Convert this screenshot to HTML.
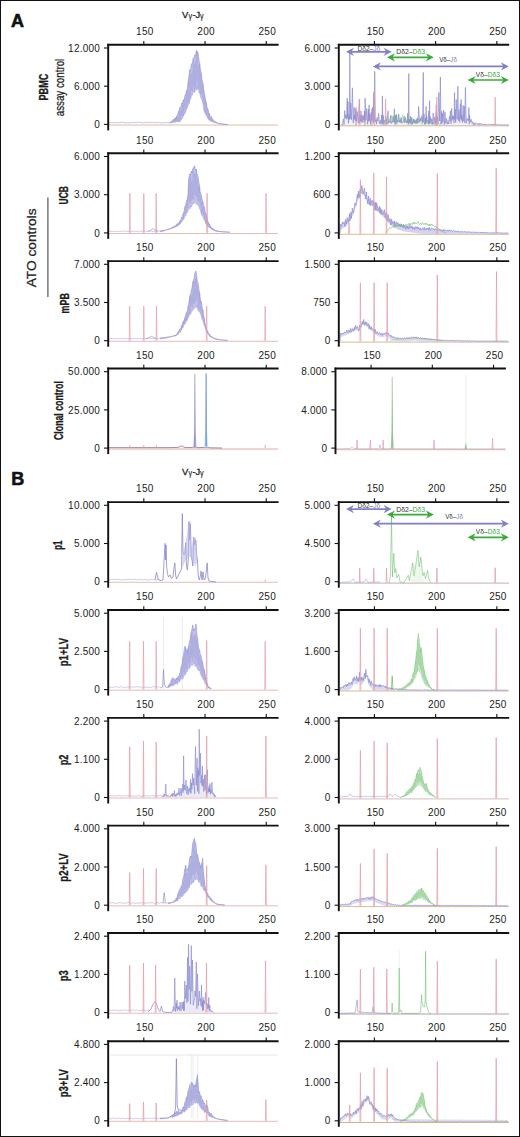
<!DOCTYPE html><html><head><meta charset="utf-8"><style>html,body{margin:0;padding:0;background:#fff;overflow:hidden;}svg{display:block;}text{font-family:"Liberation Sans",sans-serif;}</style></head><body>
<svg width="520" height="1137" viewBox="0 0 520 1137">
<rect x="0" y="0" width="520" height="1137" fill="#fff"/>
<polyline points="109,125 278,125" fill="none" stroke="#d8a080" stroke-width="0.9" stroke-opacity="0.8" stroke-linejoin="round"/>
<polyline points="109,122.64 109.8,122.55 110.6,122.26 111.4,122.63 112.2,122.59 113,122.53 113.8,122.85 114.6,122.59 115.4,122.5 116.2,122.37 117,122.92 117.8,122.76 118.6,122.93 119.4,122.35 120.2,122.45 121,122.97 121.8,122.21 122.6,122.23 123.4,122.48 124.2,122.51 125,122.87 125.8,122.99 126.6,122.58 127.4,122.95 128.2,122.85 129,122.81 129.8,122.98 130.6,122.63 131.4,122.65 132.2,122.33 133,122.58 133.8,122.49 134.6,122.6 135.4,122.47 136.2,122.63 137,122.78 137.8,122.2 138.6,122.2 139.4,122.33 140.2,122.43 141,122.75 141.8,122.82 142.6,122.77 143.4,122.94 144.2,122.39 145,122.68 145.8,122.32 146.6,122.69 147.4,122.23 148.2,122.32 149,123 149.8,122.83 150.6,122.27 151.4,122.62 152.2,122.22 153,122.68 153.8,122.94 154.6,122.5 155.4,122.38 156.2,122.78 157,122.93 157.8,122.73 158.6,122.23 159.4,122.39 160.2,122.91 161,122.8 161.8,122.92 162.6,122.95 163.4,122.36 164.2,122.86 165,122.55 165.8,122.64 166.6,122.85 167.4,122.41 168.2,122.9 169,122.49 169.8,122.91 170.6,122.66 171.4,122.83" fill="none" stroke="#8484cc" stroke-width="0.7" stroke-opacity="0.7" stroke-linejoin="round"/>
<polygon points="170,122.51 170.55,122.33 171.1,121.85 171.65,120.97 172.2,120.73 172.75,120.99 173.3,119.45 173.85,119.79 174.4,119.05 174.95,117.93 175.5,117.77 176.05,119.1 176.6,115.94 177.15,115.73 177.7,114.97 178.25,111.67 178.8,111.27 179.35,109.8 179.9,107.17 180.45,107.35 181,106.95 181.55,102.9 182.1,104.12 182.65,103.43 183.2,99.93 183.75,99.84 184.3,99.47 184.85,95.38 185.4,94.42 185.95,94.39 186.5,90.28 187.05,90.92 187.6,86.84 188.15,80.61 188.7,77.44 189.25,73.77 189.8,69.76 190.35,70.59 190.9,67.27 191.45,63.91 192,64.19 192.55,62.44 193.1,58.11 193.65,58.81 194.2,57.07 194.75,55.07 195.3,55.5 195.85,54.12 196.4,50.25 196.95,51.14 197.5,51.76 198.05,52.78 198.6,57.24 199.15,60.74 199.7,63.23 200.25,68.74 200.8,71.13 201.35,73.73 201.9,79.34 202.45,82.21 203,82.93 203.55,88.81 204.1,91.15 204.65,94.31 205.2,97.76 205.75,101.02 206.3,102.27 206.85,106.2 207.4,109.18 207.95,108.72 208.5,111.23 209.05,113.8 209.6,113.83 210.15,116.83 210.7,117.66 211.25,116.51 211.8,118.21 212.35,118.94 212.9,119.14 213.45,120.38 214,121.41 214.55,120.79 215.1,121.68 215.65,121.95 216.2,121.94 216.75,122.8 217.3,122.9 217.85,123.14 218.4,123.55 218.95,123.65 219.5,123.71 220.05,123.77 220.6,123.83 221.15,123.89 221.7,123.95 222.25,124.01 222.8,124.07 223.35,124.13 223.9,124.19 224.45,124.25 225,124.31 225.55,124.37 226.1,124.43 226.65,124.49 227.2,124.55 227.75,124.6 227.75,124.57 227.2,124.51 226.65,124.46 226.1,124.4 225.55,124.34 225,124.28 224.45,124.22 223.9,124.16 223.35,124.1 222.8,124.05 222.25,123.99 221.7,123.93 221.15,123.87 220.6,123.81 220.05,123.75 219.5,123.69 218.95,123.63 218.4,123.57 217.85,123.39 217.3,123.24 216.75,123.07 216.2,123.19 215.65,122.9 215.1,122.8 214.55,122.62 214,122.61 213.45,121.9 212.9,122.17 212.35,121.52 211.8,121.06 211.25,121.99 210.7,119.99 210.15,120.93 209.6,118.79 209.05,120.22 208.5,119.32 207.95,118.68 207.4,117.6 206.85,117.01 206.3,115.12 205.75,115.36 205.2,112.56 204.65,112.55 204.1,111.16 203.55,108.75 203,104.27 202.45,102.15 201.9,100.21 201.35,98.94 200.8,98.09 200.25,95.5 199.7,93.37 199.15,92.82 198.6,91.01 198.05,90.48 197.5,87.74 196.95,89.49 196.4,89.63 195.85,89.38 195.3,89.55 194.75,92.42 194.2,91.2 193.65,92.3 193.1,91.88 192.55,95.1 192,95.23 191.45,94.96 190.9,98.87 190.35,99.22 189.8,100.51 189.25,104.16 188.7,104.69 188.15,105.16 187.6,107.8 187.05,108.5 186.5,110.03 185.95,111.58 185.4,113.25 184.85,113.36 184.3,113.74 183.75,115.67 183.2,116.57 182.65,118.14 182.1,117.92 181.55,119.69 181,118.75 180.45,121.42 179.9,120.84 179.35,122.47 178.8,121.18 178.25,121.89 177.7,121.13 177.15,122.03 176.6,121.66 176.05,121.85 175.5,121.63 174.95,122.7 174.4,121.22 173.85,121.75 173.3,122.83 172.75,122.39 172.2,122.86 171.65,122.35 171.1,122.7 170.55,122.88 170,122.85" fill="#b6b6e4" fill-opacity="0.85" stroke="none" stroke-width="0"/>
<polyline points="170,122.59 170.55,122.83 171.1,122.04 171.65,122.11 172.2,120.99 172.75,122.05 173.3,119.65 173.85,121.4 174.4,119.09 174.95,122.49 175.5,118.65 176.05,121.71 176.6,117.02 177.15,121.08 177.7,116.26 178.25,120.95 178.8,112.11 179.35,121.55 179.9,110.14 180.45,119.29 181,109.77 181.55,115.97 182.1,104.58 182.65,116.12 183.2,100.37 183.75,115.51 184.3,99.73 184.85,109.47 185.4,98.13 185.95,108.02 186.5,91.96 187.05,105.8 187.6,90.94 188.15,102.84 188.7,81.33 189.25,102.46 189.8,70.39 190.35,97.31 190.9,74.31 191.45,90.58 192,71.37 192.55,91.36 193.1,60.45 193.65,85.71 194.2,64.13 194.75,92.3 195.3,61.2 195.85,88.57 196.4,51.38 196.95,81 197.5,52.12 198.05,88.22 198.6,65.58 199.15,89.44 199.7,64.1 200.25,94.38 200.8,72.76 201.35,94.25 201.9,79.87 202.45,97.61 203,84.95 203.55,103.91 204.1,95.7 204.65,111.21 205.2,98.69 205.75,113.65 206.3,102.59 206.85,115.25 207.4,109.26 207.95,118.65 208.5,113.21 209.05,119.75 209.6,114.57 210.15,120.47 210.7,117.84 211.25,121.9 211.8,118.86 212.35,120.89 212.9,119.88 213.45,121.86 214,121.48 214.55,122.33 215.1,121.96 215.65,122.77 216.2,122.16 216.75,123.03 217.3,122.92 217.85,123.36 218.4,123.55 218.95,123.64 219.5,123.71 220.05,123.75 220.6,123.82 221.15,123.87 221.7,123.94 222.25,123.99 222.8,124.06 223.35,124.11 223.9,124.19 224.45,124.22 225,124.3 225.55,124.34 226.1,124.42 226.65,124.46 227.2,124.54 227.75,124.58" fill="none" stroke="#8484cc" stroke-width="0.6" stroke-opacity="0.3" stroke-linejoin="round"/>
<polyline points="170,122.51 170.55,122.33 171.1,121.85 171.65,120.97 172.2,120.73 172.75,120.99 173.3,119.45 173.85,119.79 174.4,119.05 174.95,117.93 175.5,117.77 176.05,119.1 176.6,115.94 177.15,115.73 177.7,114.97 178.25,111.67 178.8,111.27 179.35,109.8 179.9,107.17 180.45,107.35 181,106.95 181.55,102.9 182.1,104.12 182.65,103.43 183.2,99.93 183.75,99.84 184.3,99.47 184.85,95.38 185.4,94.42 185.95,94.39 186.5,90.28 187.05,90.92 187.6,86.84 188.15,80.61 188.7,77.44 189.25,73.77 189.8,69.76 190.35,70.59 190.9,67.27 191.45,63.91 192,64.19 192.55,62.44 193.1,58.11 193.65,58.81 194.2,57.07 194.75,55.07 195.3,55.5 195.85,54.12 196.4,50.25 196.95,51.14 197.5,51.76 198.05,52.78 198.6,57.24 199.15,60.74 199.7,63.23 200.25,68.74 200.8,71.13 201.35,73.73 201.9,79.34 202.45,82.21 203,82.93 203.55,88.81 204.1,91.15 204.65,94.31 205.2,97.76 205.75,101.02 206.3,102.27 206.85,106.2 207.4,109.18 207.95,108.72 208.5,111.23 209.05,113.8 209.6,113.83 210.15,116.83 210.7,117.66 211.25,116.51 211.8,118.21 212.35,118.94 212.9,119.14 213.45,120.38 214,121.41 214.55,120.79 215.1,121.68 215.65,121.95 216.2,121.94 216.75,122.8 217.3,122.9 217.85,123.14 218.4,123.55 218.95,123.65 219.5,123.71 220.05,123.77 220.6,123.83 221.15,123.89 221.7,123.95 222.25,124.01 222.8,124.07 223.35,124.13 223.9,124.19 224.45,124.25 225,124.31 225.55,124.37 226.1,124.43 226.65,124.49 227.2,124.55 227.75,124.6" fill="none" stroke="#8484cc" stroke-width="0.7" stroke-opacity="0.75" stroke-linejoin="round"/>
<polyline points="170,122.85 170.55,122.88 171.1,122.7 171.65,122.35 172.2,122.86 172.75,122.39 173.3,122.83 173.85,121.75 174.4,121.22 174.95,122.7 175.5,121.63 176.05,121.85 176.6,121.66 177.15,122.03 177.7,121.13 178.25,121.89 178.8,121.18 179.35,122.47 179.9,120.84 180.45,121.42 181,118.75 181.55,119.69 182.1,117.92 182.65,118.14 183.2,116.57 183.75,115.67 184.3,113.74 184.85,113.36 185.4,113.25 185.95,111.58 186.5,110.03 187.05,108.5 187.6,107.8 188.15,105.16 188.7,104.69 189.25,104.16 189.8,100.51 190.35,99.22 190.9,98.87 191.45,94.96 192,95.23 192.55,95.1 193.1,91.88 193.65,92.3 194.2,91.2 194.75,92.42 195.3,89.55 195.85,89.38 196.4,89.63 196.95,89.49 197.5,87.74 198.05,90.48 198.6,91.01 199.15,92.82 199.7,93.37 200.25,95.5 200.8,98.09 201.35,98.94 201.9,100.21 202.45,102.15 203,104.27 203.55,108.75 204.1,111.16 204.65,112.55 205.2,112.56 205.75,115.36 206.3,115.12 206.85,117.01 207.4,117.6 207.95,118.68 208.5,119.32 209.05,120.22 209.6,118.79 210.15,120.93 210.7,119.99 211.25,121.99 211.8,121.06 212.35,121.52 212.9,122.17 213.45,121.9 214,122.61 214.55,122.62 215.1,122.8 215.65,122.9 216.2,123.19 216.75,123.07 217.3,123.24 217.85,123.39 218.4,123.57 218.95,123.63 219.5,123.69 220.05,123.75 220.6,123.81 221.15,123.87 221.7,123.93 222.25,123.99 222.8,124.05 223.35,124.1 223.9,124.16 224.45,124.22 225,124.28 225.55,124.34 226.1,124.4 226.65,124.46 227.2,124.51 227.75,124.57" fill="none" stroke="#8484cc" stroke-width="0.6" stroke-opacity="0.5249999999999999" stroke-linejoin="round"/>
<g transform="translate(0,0.9)">
<polyline points="339,124.9 509,124.9" fill="none" stroke="#c8a070" stroke-width="0.9" stroke-opacity="0.9" stroke-linejoin="round"/>
<polygon points="341,124.1 341,123.8 341.76,123.46 342.59,124.06 343.42,118.15 344.06,123.4 344.69,109.55 345.23,117.51 345.77,113.83 346.49,118.26 347.2,97.3 347.59,117.55 347.98,100.69 348.46,122.35 348.95,113.45 349.37,118.84 349.8,52 350.25,118.08 350.7,101.9 351.55,118.89 352.4,86.9 353.25,122.07 354.1,106.5 354.43,118.28 354.76,114.07 355.25,119.85 355.75,107.98 356.47,120.3 357.19,110.55 358.25,122.37 359.3,98.5 359.65,121.88 360,114.11 360.5,120.25 361,110 361.57,121.43 362.14,113.98 362.8,121.49 363.46,114.85 363.93,119.28 364.39,110.06 364.75,121.63 365.1,97.3 365.95,119.22 366.8,107.7 367.61,123.44 368.42,108.43 368.76,120.71 369.1,104 369.5,119.69 369.9,112.97 370.6,123.64 371.31,111.38 371.96,119.78 372.61,106.4 373.21,122.23 373.8,91.5 374.25,120.69 374.7,70.4 375.41,120.97 376.13,118.62 376.6,123.24 377.06,116.41 377.89,120.34 378.71,112.36 379.49,122.99 380.28,119.37 381.01,123.4 381.74,114.12 382.07,122.41 382.4,95 382.84,123.66 383.28,114.41 383.79,123.56 384.3,119.4 385.06,121.55 385.83,115.28 386.91,123.6 388,110 388.52,122.32 389.04,120.02 389.86,121.39 390.69,114.71 391.28,122.58 391.87,120.48 392.53,121.49 393.2,115.78 393.8,121.39 394.4,107.8 394.96,123.38 395.51,114.43 396,123.64 396.5,113.57 397.05,121.48 397.6,119.3 398.1,121.28 398.6,113.57 399.4,121.37 400.21,118.66 400.7,121.83 401.19,116.35 402,122.46 402.8,121.02 403.5,121.24 404.2,115.26 404.84,121.89 405.47,117.35 406.24,121.86 407.01,119.68 407.35,121.5 407.7,112.4 408.25,123.77 408.8,72.7 409.14,122 409.47,117.92 410.06,122.43 410.64,115.17 411.21,123.87 411.78,116.53 412.58,123.18 413.38,118.08 413.86,121.77 414.34,119.23 414.82,122.27 415.3,119.62 415.8,122.1 416.3,117.91 416.9,122.93 417.5,116.8 418.05,121.93 418.6,105.5 419.49,120.73 420.37,116.89 421.09,120.2 421.8,114.84 422.55,121.69 423.3,71.5 423.63,120.91 423.97,113.01 424.71,123.45 425.45,117.12 425.78,123.21 426.1,105.5 426.4,121.46 426.7,114.92 427.27,120.42 427.84,119.37 428.32,123.34 428.79,110.12 429.2,123.25 429.6,99.8 429.94,121.92 430.28,115.91 430.99,122.71 431.71,117.77 432.44,123.35 433.17,112.12 433.93,123.32 434.69,116.24 435.53,122.28 436.36,111.17 436.84,120.71 437.32,115.68 438.06,123.09 438.8,91.7 439.6,120.21 440.4,76.1 440.93,123.46 441.47,110.26 441.94,122.74 442.42,112.42 442.96,121.07 443.5,109 444.25,123.79 444.99,110.96 445.76,122.69 446.52,117.54 447.26,123.36 448,119.63 448.74,123.02 449.47,115.57 449.93,119.95 450.4,110 451.03,122.94 451.66,107.51 452.16,119.62 452.65,114.6 453.18,118.36 453.71,115.38 454.1,122.19 454.5,91.7 454.84,118.35 455.19,108.29 455.69,121.62 456.2,98.6 457.05,118.55 457.9,85.3 458.42,119.75 458.94,108.57 459.67,121.38 460.4,102.89 460.75,118.13 461.1,98.6 461.41,119.41 461.71,114.18 462.4,121.78 463.08,104.34 463.67,120.43 464.25,105.21 464.83,122.13 465.4,86.5 466.28,122.32 467.15,117.49 467.65,119.45 468.15,118.94 468.53,119.79 468.9,106.7 469.22,123.27 469.54,114.51 470.38,121.4 471.22,118.47 472.06,122.63 472.91,120.87 473.41,123.99 473.92,122.66 474.49,123.91 475.06,121.7 475.9,123.65 476.74,122.71 477.28,123.44 477.83,122.34 478.44,123.55 479.04,122.71 479.56,123.92 480.07,122.37 480.88,123.83 481.7,122.62 482.52,123.62 483.34,123.22 483.8,123.97 484.27,123.29 485.08,124.03 485.88,123.19 486.42,123.91 486.95,123.55 487.47,123.82 487.99,123.33 488.8,123.78 489.62,123.06 490.37,123.81 491.12,123.23 491.65,124.08 492.18,123.25 492.72,124.03 493.26,123.46 493.73,124.05 494.2,123.25 494.7,123.93 495.21,123.47 495.92,123.99 496.64,123.48 497.36,123.88 498.08,123.68 498.84,123.96 499.61,123.43 500.3,123.97 501,123.47 501.78,123.97 502.57,123.91 503.29,124.06 504,123.91 504.72,123.97 505.43,123.85 506.22,123.99 507.01,123.97 507.83,124.01 508.66,124 509,123.8 509,124.1" fill="#b6b6e4" fill-opacity="0.2" stroke="none" stroke-width="0"/>
<polyline points="341,123.8 341.76,123.46 342.59,124.06 343.42,118.15 344.06,123.4 344.69,109.55 345.23,117.51 345.77,113.83 346.49,118.26 347.2,97.3 347.59,117.55 347.98,100.69 348.46,122.35 348.95,113.45 349.37,118.84 349.8,52 350.25,118.08 350.7,101.9 351.55,118.89 352.4,86.9 353.25,122.07 354.1,106.5 354.43,118.28 354.76,114.07 355.25,119.85 355.75,107.98 356.47,120.3 357.19,110.55 358.25,122.37 359.3,98.5 359.65,121.88 360,114.11 360.5,120.25 361,110 361.57,121.43 362.14,113.98 362.8,121.49 363.46,114.85 363.93,119.28 364.39,110.06 364.75,121.63 365.1,97.3 365.95,119.22 366.8,107.7 367.61,123.44 368.42,108.43 368.76,120.71 369.1,104 369.5,119.69 369.9,112.97 370.6,123.64 371.31,111.38 371.96,119.78 372.61,106.4 373.21,122.23 373.8,91.5 374.25,120.69 374.7,70.4 375.41,120.97 376.13,118.62 376.6,123.24 377.06,116.41 377.89,120.34 378.71,112.36 379.49,122.99 380.28,119.37 381.01,123.4 381.74,114.12 382.07,122.41 382.4,95 382.84,123.66 383.28,114.41 383.79,123.56 384.3,119.4 385.06,121.55 385.83,115.28 386.91,123.6 388,110 388.52,122.32 389.04,120.02 389.86,121.39 390.69,114.71 391.28,122.58 391.87,120.48 392.53,121.49 393.2,115.78 393.8,121.39 394.4,107.8 394.96,123.38 395.51,114.43 396,123.64 396.5,113.57 397.05,121.48 397.6,119.3 398.1,121.28 398.6,113.57 399.4,121.37 400.21,118.66 400.7,121.83 401.19,116.35 402,122.46 402.8,121.02 403.5,121.24 404.2,115.26 404.84,121.89 405.47,117.35 406.24,121.86 407.01,119.68 407.35,121.5 407.7,112.4 408.25,123.77 408.8,72.7 409.14,122 409.47,117.92 410.06,122.43 410.64,115.17 411.21,123.87 411.78,116.53 412.58,123.18 413.38,118.08 413.86,121.77 414.34,119.23 414.82,122.27 415.3,119.62 415.8,122.1 416.3,117.91 416.9,122.93 417.5,116.8 418.05,121.93 418.6,105.5 419.49,120.73 420.37,116.89 421.09,120.2 421.8,114.84 422.55,121.69 423.3,71.5 423.63,120.91 423.97,113.01 424.71,123.45 425.45,117.12 425.78,123.21 426.1,105.5 426.4,121.46 426.7,114.92 427.27,120.42 427.84,119.37 428.32,123.34 428.79,110.12 429.2,123.25 429.6,99.8 429.94,121.92 430.28,115.91 430.99,122.71 431.71,117.77 432.44,123.35 433.17,112.12 433.93,123.32 434.69,116.24 435.53,122.28 436.36,111.17 436.84,120.71 437.32,115.68 438.06,123.09 438.8,91.7 439.6,120.21 440.4,76.1 440.93,123.46 441.47,110.26 441.94,122.74 442.42,112.42 442.96,121.07 443.5,109 444.25,123.79 444.99,110.96 445.76,122.69 446.52,117.54 447.26,123.36 448,119.63 448.74,123.02 449.47,115.57 449.93,119.95 450.4,110 451.03,122.94 451.66,107.51 452.16,119.62 452.65,114.6 453.18,118.36 453.71,115.38 454.1,122.19 454.5,91.7 454.84,118.35 455.19,108.29 455.69,121.62 456.2,98.6 457.05,118.55 457.9,85.3 458.42,119.75 458.94,108.57 459.67,121.38 460.4,102.89 460.75,118.13 461.1,98.6 461.41,119.41 461.71,114.18 462.4,121.78 463.08,104.34 463.67,120.43 464.25,105.21 464.83,122.13 465.4,86.5 466.28,122.32 467.15,117.49 467.65,119.45 468.15,118.94 468.53,119.79 468.9,106.7 469.22,123.27 469.54,114.51 470.38,121.4 471.22,118.47 472.06,122.63 472.91,120.87 473.41,123.99 473.92,122.66 474.49,123.91 475.06,121.7 475.9,123.65 476.74,122.71 477.28,123.44 477.83,122.34 478.44,123.55 479.04,122.71 479.56,123.92 480.07,122.37 480.88,123.83 481.7,122.62 482.52,123.62 483.34,123.22 483.8,123.97 484.27,123.29 485.08,124.03 485.88,123.19 486.42,123.91 486.95,123.55 487.47,123.82 487.99,123.33 488.8,123.78 489.62,123.06 490.37,123.81 491.12,123.23 491.65,124.08 492.18,123.25 492.72,124.03 493.26,123.46 493.73,124.05 494.2,123.25 494.7,123.93 495.21,123.47 495.92,123.99 496.64,123.48 497.36,123.88 498.08,123.68 498.84,123.96 499.61,123.43 500.3,123.97 501,123.47 501.78,123.97 502.57,123.91 503.29,124.06 504,123.91 504.72,123.97 505.43,123.85 506.22,123.99 507.01,123.97 507.83,124.01 508.66,124 509,123.8" fill="none" stroke="#8484cc" stroke-width="0.75" stroke-opacity="0.85" stroke-linejoin="round"/>
<polyline points="359.15,124.4 359.6,98 360.05,124.4" fill="none" stroke="#e49aa6" stroke-width="0.85" stroke-opacity="0.8" stroke-linejoin="round"/>
<polyline points="373.85,124.4 374.3,90 374.75,124.4" fill="none" stroke="#e49aa6" stroke-width="0.85" stroke-opacity="0.8" stroke-linejoin="round"/>
<polyline points="385.15,124.4 385.6,98 386.05,124.4" fill="none" stroke="#e49aa6" stroke-width="0.85" stroke-opacity="0.8" stroke-linejoin="round"/>
<polyline points="436.35,124.4 436.8,96.3 437.25,124.4" fill="none" stroke="#e49aa6" stroke-width="0.85" stroke-opacity="0.8" stroke-linejoin="round"/>
<polyline points="494.75,124.4 495.2,96.3 495.65,124.4" fill="none" stroke="#e49aa6" stroke-width="0.85" stroke-opacity="0.8" stroke-linejoin="round"/>
<polyline points="355.5,124.4 356,106 356.5,124.4" fill="none" stroke="#d080a0" stroke-width="0.85" stroke-opacity="0.5" stroke-linejoin="round"/>
<polyline points="364.5,124.4 365,112 365.5,124.4" fill="none" stroke="#d080a0" stroke-width="0.85" stroke-opacity="0.5" stroke-linejoin="round"/>
<polyline points="371,124.4 371.5,108 372,124.4" fill="none" stroke="#d080a0" stroke-width="0.85" stroke-opacity="0.5" stroke-linejoin="round"/>
<polyline points="435.5,124.4 436,104 436.5,124.4" fill="none" stroke="#d080a0" stroke-width="0.85" stroke-opacity="0.5" stroke-linejoin="round"/>
<polyline points="384,123.8 384.36,123.2 385.32,123.2 386.28,118.36 387.56,122.8 388.84,117.2 390.12,121.81 391.4,114.35 392.28,120.62 393.15,114.38 394.43,121.27 395.72,114.1 397.19,122.49 398.67,112.99 399.78,121.24 400.89,117.41 401.82,121.91 402.75,113.71 404.09,121.07 405.43,116.15 406.58,122.27 407.74,117.63 408.74,122.7 409.74,118.19 410.69,121.75 411.63,117.97 412.92,122.86 414.22,117.94 415.24,123.19 416.25,120.7 417.33,122.03 418.41,118.2 419.62,122.08 420.83,118.25 421.98,123.76 423.13,120.06 424.62,123.97 426.11,121.31 427.1,122.73 428.09,120.29 429.39,122.93 430.68,121.62 431.92,123.74 433.17,122.43 434.49,123.95 435.81,122.7 437.24,123.89 438.68,123.68 440,123.8" fill="none" stroke="#5cb45c" stroke-width="0.6" stroke-opacity="0.5" stroke-linejoin="round"/>
</g>
<polyline points="109,233.5 278,233.5" fill="none" stroke="#d8a0a0" stroke-width="0.9" stroke-opacity="0.8" stroke-linejoin="round"/>
<polyline points="109,231.58 109.8,231.22 110.6,231.26 111.4,231.36 112.2,231.55 113,231.15 113.8,231.13 114.6,231.34 115.4,231.35 116.2,231.53 117,231.7 117.8,231.44 118.6,231.29 119.4,231.65 120.2,231.14 121,231.54 121.8,231.54 122.6,231.67 123.4,231 124.2,231.18 125,231.09 125.8,231.27 126.6,231.68 127.4,231.47 128.2,231.35 129,231.62 129.8,231.03 130.6,231.44 131.4,231.59 132.2,231.13 133,231.61 133.8,231.05 134.6,231.38 135.4,231.31 136.2,231.46 137,231.36 137.8,231.57 138.6,231.67 139.4,231.09 140.2,231.54 141,231.15 141.8,231.55 142.6,231.02 143.4,231.07 144.2,231.17 145,231.17 145.8,231.29 146.6,231.19 147.4,231.61 148.2,231.37 149,231.12 149.8,231.56 150.6,231.05 151.4,231.08 152.2,231.41 153,231.44 153.8,231.38 154.6,231.43 155.4,231 156.2,231.43 157,231.68 157.8,231.63 158.6,231.2 159.4,231.01 160.2,231.35 161,231.36 161.8,231.31 162.6,231.18 163.4,231.54 164.2,231.27" fill="none" stroke="#8484cc" stroke-width="0.7" stroke-opacity="0.6" stroke-linejoin="round"/>
<polyline points="148,231.3 151,230 153,228.5 155,230 158,231" fill="none" stroke="#8484cc" stroke-width="0.8" stroke-opacity="0.7" stroke-linejoin="round"/>
<polygon points="160,231.04 160.55,230.96 161.1,230.96 161.65,230.7 162.2,230.7 162.75,230.58 163.3,230.36 163.85,230.36 164.4,230.27 164.95,230.02 165.5,229.9 166.05,229.8 166.6,229.54 167.15,229.5 167.7,229.3 168.25,229.04 168.8,229.03 169.35,228.91 169.9,228.58 170.45,228.53 171,228.29 171.55,227.61 172.1,227.87 172.65,227.52 173.2,226.66 173.75,226.84 174.3,226.58 174.85,225.67 175.4,226.21 175.95,225.45 176.5,224.2 177.05,224.13 177.6,224.16 178.15,222.66 178.7,223.48 179.25,223.08 179.8,220.9 180.35,221.29 180.9,219.53 181.45,217.16 182,217.71 182.55,216.75 183.1,213.18 183.65,213.08 184.2,210.87 184.75,206.72 185.3,205.69 185.85,205.24 186.4,200.63 186.95,200.23 187.5,197.34 188.05,194.42 188.6,179.07 189.15,176.99 189.7,174.08 190.25,175.23 190.8,173.09 191.35,171.21 191.9,173.13 192.45,170.08 193,168.37 193.55,168.04 194.1,166.76 194.65,165.71 195.2,168.96 195.75,169.79 196.3,169.03 196.85,173.33 197.4,174.45 197.95,176.27 198.5,180.63 199.05,183.36 199.6,186.08 200.15,191.8 200.7,193.16 201.25,194.75 201.8,198.08 202.35,200.33 202.9,201.45 203.45,205.94 204,206.39 204.55,207.35 205.1,211.61 205.65,213.99 206.2,214.05 206.75,216.91 207.3,219.96 207.85,220.82 208.4,222.68 208.95,223.82 209.5,223.97 210.05,225.75 210.6,226.47 211.15,226.88 211.7,227.82 212.25,228.34 212.8,228.15 213.35,228.91 213.9,229.65 214.45,229.58 215,230.35 215.55,230.68 216.1,230.33 216.65,230.67 217.2,231.02 217.75,230.83 218.3,231.16 218.85,231.25 219.4,231.32 219.95,231.54 220.5,231.57 221.05,231.58 221.6,231.66 222.15,231.71 222.7,231.69 223.25,231.75 223.8,231.81 224.35,231.81 224.9,231.88 225.45,231.91 226,231.92 226.55,231.99 227.1,232.01 227.65,232.04 228.2,232.09 228.75,232.12 229.3,232.15 229.85,232.19 229.85,232.19 229.3,232.16 228.75,232.14 228.2,232.1 227.65,232.07 227.1,232.05 226.55,232.02 226,231.99 225.45,231.96 224.9,231.92 224.35,231.92 223.8,231.85 223.25,231.82 222.7,231.83 222.15,231.79 221.6,231.75 221.05,231.72 220.5,231.67 219.95,231.63 219.4,231.64 218.85,231.54 218.3,231.51 217.75,231.47 217.2,231.35 216.65,231.42 216.1,231.22 215.55,231.16 215,230.97 214.45,230.42 213.9,230.42 213.35,230.34 212.8,229.78 212.25,229.9 211.7,229.24 211.15,228.75 210.6,228.14 210.05,228.06 209.5,227.73 208.95,227.55 208.4,227.04 207.85,226.31 207.3,225.98 206.75,225.64 206.2,223.62 205.65,223.65 205.1,221.1 204.55,220.81 204,220.33 203.45,217.77 202.9,216.73 202.35,216.01 201.8,215.68 201.25,214.23 200.7,210.97 200.15,209.83 199.6,208.87 199.05,207.79 198.5,205.6 197.95,205.5 197.4,204.28 196.85,204.42 196.3,204.43 195.75,202.74 195.2,202.33 194.65,202.41 194.1,203.5 193.55,204.05 193,203.04 192.45,204.45 191.9,205.85 191.35,207.07 190.8,206.01 190.25,208.51 189.7,209.1 189.15,208.57 188.6,208.84 188.05,210.64 187.5,212.54 186.95,212.44 186.4,212.91 185.85,215.78 185.3,215.91 184.75,215.72 184.2,218.3 183.65,219.71 183.1,220.12 182.55,219.57 182,222.02 181.45,220.98 180.9,223.34 180.35,223.5 179.8,224.32 179.25,224.41 178.7,225.35 178.15,225.76 177.6,226.23 177.05,226.39 176.5,226.57 175.95,226.5 175.4,227.33 174.85,227.28 174.3,227.51 173.75,227.63 173.2,228.08 172.65,228.14 172.1,228.6 171.55,228.38 171,228.65 170.45,228.8 169.9,229.01 169.35,229.28 168.8,229.24 168.25,229.55 167.7,229.7 167.15,229.74 166.6,229.82 166.05,230.04 165.5,230.21 164.95,230.31 164.4,230.41 163.85,230.47 163.3,230.68 162.75,230.84 162.2,230.9 161.65,231.07 161.1,231.12 160.55,231.36 160,231.33" fill="#b6b6e4" fill-opacity="0.85" stroke="none" stroke-width="0"/>
<polyline points="160,231.11 160.55,231.3 161.1,231 161.65,231.06 162.2,230.72 162.75,230.77 163.3,230.37 163.85,230.46 164.4,230.28 164.95,230.31 165.5,229.97 166.05,229.98 166.6,229.58 167.15,229.73 167.7,229.33 168.25,229.52 168.8,229.07 169.35,229.22 169.9,228.63 170.45,228.76 171,228.3 171.55,228.28 172.1,228.04 172.65,228.02 173.2,226.69 173.75,227.53 174.3,226.74 174.85,227.18 175.4,226.46 175.95,226.38 176.5,224.62 177.05,226.16 177.6,224.67 178.15,225.15 178.7,223.75 179.25,224.36 179.8,221.28 180.35,223.49 180.9,220.1 181.45,220.13 182,217.9 182.55,219.21 183.1,214.02 183.65,219.04 184.2,212.19 184.75,213.62 185.3,207.49 185.85,214.53 186.4,203.58 186.95,211.43 187.5,200.17 188.05,207.97 188.6,184.74 189.15,201.84 189.7,176.05 190.25,203.34 190.8,176.4 191.35,201.09 191.9,181.12 192.45,198.99 193,168.47 193.55,199.86 194.1,173.3 194.65,194.31 195.2,174.38 195.75,196.01 196.3,169.19 196.85,197.09 197.4,179.89 197.95,201.07 198.5,186.28 199.05,202.38 199.6,186.65 200.15,206.15 200.7,196.57 201.25,213.26 201.8,201.36 202.35,213.72 202.9,202.19 203.45,215.39 204,206.87 204.55,218.75 205.1,212.64 205.65,223.03 206.2,215.41 206.75,224.62 207.3,220.27 207.85,224.98 208.4,222.76 208.95,227.55 209.5,224.43 210.05,227.58 210.6,226.75 211.15,228.4 211.7,227.99 212.25,229.63 212.8,228.29 213.35,230.24 213.9,229.75 214.45,230.42 215,230.37 215.55,231.07 216.1,230.37 216.65,231.28 217.2,231.08 217.75,231.4 218.3,231.21 218.85,231.49 219.4,231.39 219.95,231.62 220.5,231.57 221.05,231.7 221.6,231.67 222.15,231.78 222.7,231.69 223.25,231.81 223.8,231.82 224.35,231.91 224.9,231.88 225.45,231.95 226,231.93 226.55,232.01 227.1,232.02 227.65,232.06 228.2,232.09 228.75,232.13 229.3,232.15 229.85,232.19" fill="none" stroke="#8484cc" stroke-width="0.6" stroke-opacity="0.3" stroke-linejoin="round"/>
<polyline points="160,231.04 160.55,230.96 161.1,230.96 161.65,230.7 162.2,230.7 162.75,230.58 163.3,230.36 163.85,230.36 164.4,230.27 164.95,230.02 165.5,229.9 166.05,229.8 166.6,229.54 167.15,229.5 167.7,229.3 168.25,229.04 168.8,229.03 169.35,228.91 169.9,228.58 170.45,228.53 171,228.29 171.55,227.61 172.1,227.87 172.65,227.52 173.2,226.66 173.75,226.84 174.3,226.58 174.85,225.67 175.4,226.21 175.95,225.45 176.5,224.2 177.05,224.13 177.6,224.16 178.15,222.66 178.7,223.48 179.25,223.08 179.8,220.9 180.35,221.29 180.9,219.53 181.45,217.16 182,217.71 182.55,216.75 183.1,213.18 183.65,213.08 184.2,210.87 184.75,206.72 185.3,205.69 185.85,205.24 186.4,200.63 186.95,200.23 187.5,197.34 188.05,194.42 188.6,179.07 189.15,176.99 189.7,174.08 190.25,175.23 190.8,173.09 191.35,171.21 191.9,173.13 192.45,170.08 193,168.37 193.55,168.04 194.1,166.76 194.65,165.71 195.2,168.96 195.75,169.79 196.3,169.03 196.85,173.33 197.4,174.45 197.95,176.27 198.5,180.63 199.05,183.36 199.6,186.08 200.15,191.8 200.7,193.16 201.25,194.75 201.8,198.08 202.35,200.33 202.9,201.45 203.45,205.94 204,206.39 204.55,207.35 205.1,211.61 205.65,213.99 206.2,214.05 206.75,216.91 207.3,219.96 207.85,220.82 208.4,222.68 208.95,223.82 209.5,223.97 210.05,225.75 210.6,226.47 211.15,226.88 211.7,227.82 212.25,228.34 212.8,228.15 213.35,228.91 213.9,229.65 214.45,229.58 215,230.35 215.55,230.68 216.1,230.33 216.65,230.67 217.2,231.02 217.75,230.83 218.3,231.16 218.85,231.25 219.4,231.32 219.95,231.54 220.5,231.57 221.05,231.58 221.6,231.66 222.15,231.71 222.7,231.69 223.25,231.75 223.8,231.81 224.35,231.81 224.9,231.88 225.45,231.91 226,231.92 226.55,231.99 227.1,232.01 227.65,232.04 228.2,232.09 228.75,232.12 229.3,232.15 229.85,232.19" fill="none" stroke="#8484cc" stroke-width="0.7" stroke-opacity="0.75" stroke-linejoin="round"/>
<polyline points="160,231.33 160.55,231.36 161.1,231.12 161.65,231.07 162.2,230.9 162.75,230.84 163.3,230.68 163.85,230.47 164.4,230.41 164.95,230.31 165.5,230.21 166.05,230.04 166.6,229.82 167.15,229.74 167.7,229.7 168.25,229.55 168.8,229.24 169.35,229.28 169.9,229.01 170.45,228.8 171,228.65 171.55,228.38 172.1,228.6 172.65,228.14 173.2,228.08 173.75,227.63 174.3,227.51 174.85,227.28 175.4,227.33 175.95,226.5 176.5,226.57 177.05,226.39 177.6,226.23 178.15,225.76 178.7,225.35 179.25,224.41 179.8,224.32 180.35,223.5 180.9,223.34 181.45,220.98 182,222.02 182.55,219.57 183.1,220.12 183.65,219.71 184.2,218.3 184.75,215.72 185.3,215.91 185.85,215.78 186.4,212.91 186.95,212.44 187.5,212.54 188.05,210.64 188.6,208.84 189.15,208.57 189.7,209.1 190.25,208.51 190.8,206.01 191.35,207.07 191.9,205.85 192.45,204.45 193,203.04 193.55,204.05 194.1,203.5 194.65,202.41 195.2,202.33 195.75,202.74 196.3,204.43 196.85,204.42 197.4,204.28 197.95,205.5 198.5,205.6 199.05,207.79 199.6,208.87 200.15,209.83 200.7,210.97 201.25,214.23 201.8,215.68 202.35,216.01 202.9,216.73 203.45,217.77 204,220.33 204.55,220.81 205.1,221.1 205.65,223.65 206.2,223.62 206.75,225.64 207.3,225.98 207.85,226.31 208.4,227.04 208.95,227.55 209.5,227.73 210.05,228.06 210.6,228.14 211.15,228.75 211.7,229.24 212.25,229.9 212.8,229.78 213.35,230.34 213.9,230.42 214.45,230.42 215,230.97 215.55,231.16 216.1,231.22 216.65,231.42 217.2,231.35 217.75,231.47 218.3,231.51 218.85,231.54 219.4,231.64 219.95,231.63 220.5,231.67 221.05,231.72 221.6,231.75 222.15,231.79 222.7,231.83 223.25,231.82 223.8,231.85 224.35,231.92 224.9,231.92 225.45,231.96 226,231.99 226.55,232.02 227.1,232.05 227.65,232.07 228.2,232.1 228.75,232.14 229.3,232.16 229.85,232.19" fill="none" stroke="#8484cc" stroke-width="0.6" stroke-opacity="0.5249999999999999" stroke-linejoin="round"/>
<polyline points="129.45,232.9 129.9,193.3 130.35,232.9" fill="none" stroke="#e49aa6" stroke-width="0.85" stroke-opacity="0.8" stroke-linejoin="round"/>
<polyline points="143.35,232.9 143.8,193.3 144.25,232.9" fill="none" stroke="#e49aa6" stroke-width="0.85" stroke-opacity="0.8" stroke-linejoin="round"/>
<polyline points="155.75,232.9 156.2,193.3 156.65,232.9" fill="none" stroke="#e49aa6" stroke-width="0.85" stroke-opacity="0.8" stroke-linejoin="round"/>
<polyline points="206.65,232.9 207.1,193.3 207.55,232.9" fill="none" stroke="#e49aa6" stroke-width="0.85" stroke-opacity="0.8" stroke-linejoin="round"/>
<polyline points="265.55,232.9 266,193.3 266.45,232.9" fill="none" stroke="#e49aa6" stroke-width="0.85" stroke-opacity="0.8" stroke-linejoin="round"/>
<g transform="translate(0,0.9)">
<polyline points="339,233.4 509,233.4" fill="none" stroke="#c8a070" stroke-width="0.9" stroke-opacity="0.8" stroke-linejoin="round"/>
<polygon points="340,232.6 340.5,223.3 341.44,225.34 342.43,221.28 342.94,223.05 344.15,220.73 344.81,225.49 345.68,218.44 346.56,223.35 347.14,216.74 348.38,220.97 349.49,212.75 350,220.01 350.98,211.13 351.46,217.54 352.34,207.17 353.58,212.29 354.86,201.87 356.03,204.5 357.32,193.41 357.86,197.22 358.5,190.1 359.34,196.75 360.07,188.35 360.86,192.37 361.84,184.57 363.1,193.34 364.39,187.21 365.73,198.1 366.33,191.07 367.65,202.91 368.61,195.16 369.25,203.95 370.21,197.29 370.72,204.89 372.06,199.11 373.23,204.71 373.82,200.21 374.96,209.1 375.45,201.42 375.94,209.76 376.69,201.82 378.02,210.22 379.37,205.44 379.89,212.2 380.37,206.77 381.18,213.55 381.77,208.65 383.01,213.89 384.32,208.63 385.11,216.8 386.03,211.44 387.01,219.81 388.02,213.37 388.93,220.93 390.03,217.44 390.75,224.18 391.67,218.21 392.13,222.98 393.1,220.36 394.1,224.65 394.61,220.09 395.48,225.26 396.24,220.85 397.36,223.69 397.86,221.81 399.18,225.26 400.04,222.77 400.78,226 401.51,223.63 402.49,226.28 403.28,223.71 403.76,227.21 404.87,224.71 405.52,227.85 406.19,225.03 407.03,227.78 407.57,225.05 408.32,228.13 409.16,224.61 409.77,227.32 410.8,224.81 411.66,227.26 412.22,225.42 412.84,228.45 414.04,226.05 414.74,228.61 415.77,225.61 416.53,227.53 417.24,225.83 417.94,228.13 418.76,226.42 419.58,229.16 420.17,227 421.47,229.18 422.81,226.72 424.11,229.33 424.76,226.53 425.97,229.04 426.88,227.08 427.64,228.42 428.15,226.87 428.86,229.33 429.35,226.65 430.43,229.54 431.68,226.88 432.65,228.24 433.77,227.73 434.49,229.49 435.42,227.71 436.71,229.58 437.47,228.05 438.69,229.56 439.85,228.23 440.48,229.76 441.66,228.55 442.82,230.31 444,228.35 444.45,230.14 445.68,229.04 446.38,229.9 447.3,228.97 448.18,230.53 448.63,229.33 449.19,229.94 449.7,228.91 450.92,230.03 451.82,229.51 452.56,230.47 453.59,229.56 454.36,230.46 455.11,229.95 456.06,231.01 456.85,230.15 457.46,230.87 458.46,230.01 459.25,231.28 460.26,230.34 461.04,231.18 462.13,230.45 463.2,231.24 463.87,230.5 464.95,231.02 465.78,230.64 467.02,231.66 467.81,230.57 468.97,231.38 469.84,230.95 471.02,231.72 472.27,230.83 473.32,231.88 474.28,231.18 475.26,231.45 475.84,231.01 476.33,231.61 476.86,231.03 477.48,231.59 478.68,231.39 479.89,232.17 481.1,231.18 482.07,232.28 482.55,231.27 483.46,232.26 484.01,231.3 485.3,231.86 486.04,231.4 487.23,232.05 487.85,231.55 488.85,232.38 489.65,231.54 490.46,232.18 491.29,231.67 492.19,232.54 493.01,231.46 493.6,232.43 494.73,231.52 495.65,232.35 496.68,231.47 497.26,232.11 498.39,231.5 499.3,232.39 500.4,231.8 501.09,232.26 502.07,231.78 502.73,232.59 504.03,231.82 505.12,232.48 506.34,231.76 507.03,232.38 507.5,231.82 508,232.6 508,232.9 507.5,232.9 507.03,232.9 506.34,232.9 505.12,232.9 504.03,232.9 502.73,232.9 502.07,232.9 501.09,232.9 500.4,232.9 499.3,232.9 498.39,232.9 497.26,232.9 496.68,232.9 495.65,232.9 494.73,232.9 493.6,232.9 493.01,232.9 492.19,232.9 491.29,232.9 490.46,232.9 489.65,232.9 488.85,232.9 487.85,232.9 487.23,232.9 486.04,232.9 485.3,232.9 484.01,232.9 483.46,232.9 482.55,232.9 482.07,232.9 481.1,232.9 479.89,232.9 478.68,232.9 477.48,232.9 476.86,232.9 476.33,232.9 475.84,232.9 475.26,232.9 474.28,232.9 473.32,232.9 472.27,232.9 471.02,232.9 469.84,232.9 468.97,232.9 467.81,232.9 467.02,232.9 465.78,232.9 464.95,232.9 463.87,232.9 463.2,232.9 462.13,232.9 461.04,232.9 460.26,232.9 459.25,232.9 458.46,232.9 457.46,232.9 456.85,232.9 456.06,232.9 455.11,232.9 454.36,232.9 453.59,232.9 452.56,232.9 451.82,232.9 450.92,232.9 449.7,232.9 449.19,232.9 448.63,232.9 448.18,232.9 447.3,232.9 446.38,232.9 445.68,232.9 444.45,232.9 444,232.9 442.82,232.9 441.66,232.9 440.48,232.9 439.85,232.9 438.69,232.9 437.47,232.9 436.71,232.9 435.42,232.9 434.49,232.9 433.77,232.9 432.65,232.9 431.68,232.9 430.43,232.9 429.35,232.9 428.86,232.9 428.15,232.9 427.64,232.9 426.88,232.9 425.97,232.9 424.76,232.84 424.11,232.81 422.81,232.74 421.47,232.67 420.17,232.61 419.58,232.55 418.76,232.45 417.94,232.34 417.24,232.26 416.53,232.17 415.77,232.07 414.74,231.94 414.04,231.86 412.84,231.7 412.22,231.63 411.66,231.56 410.8,231.45 409.77,231.32 409.16,231.25 408.32,231.14 407.57,231.05 407.03,230.98 406.19,230.87 405.52,230.79 404.87,230.71 403.76,230.52 403.28,230.36 402.49,230.1 401.51,229.77 400.78,229.53 400.04,229.28 399.18,228.99 397.86,228.53 397.36,228.28 396.24,227.72 395.48,227.34 394.61,226.9 394.1,226.65 393.1,226 392.13,225.35 391.67,225.04 390.75,224.35 390.03,223.63 388.93,222.53 388.02,221.62 387.01,220.28 386.03,218.97 385.11,217.74 384.32,216.92 383.01,215.61 381.77,214.37 381.18,213.78 380.37,212.97 379.89,212.49 379.37,211.97 378.02,210.95 376.69,210.06 375.94,209.52 375.45,208.87 374.96,208.21 373.82,206.69 373.23,205.91 372.06,204.97 370.72,204.08 370.21,203.74 369.25,203.22 368.61,202.9 367.65,201.89 366.33,199.25 365.73,198.06 364.39,195.38 363.1,193.25 361.84,191.92 360.86,193.88 360.07,195.47 359.34,196.91 358.5,198.6 357.86,200.03 357.32,201.64 356.03,205.52 354.86,208.65 353.58,212.06 352.34,214.93 351.46,216.68 350.98,217.64 350,219.6 349.49,220.36 348.38,222.04 347.14,223.88 346.56,224.76 345.68,225.81 344.81,226.4 344.15,226.84 342.94,227.64 342.43,227.98 341.44,228.64 340.5,229.27 340,229.6" fill="#b6b6e4" fill-opacity="0.6" stroke="none" stroke-width="0"/>
<polyline points="340,232.6 340.5,223.3 341.44,225.34 342.43,221.28 342.94,223.05 344.15,220.73 344.81,225.49 345.68,218.44 346.56,223.35 347.14,216.74 348.38,220.97 349.49,212.75 350,220.01 350.98,211.13 351.46,217.54 352.34,207.17 353.58,212.29 354.86,201.87 356.03,204.5 357.32,193.41 357.86,197.22 358.5,190.1 359.34,196.75 360.07,188.35 360.86,192.37 361.84,184.57 363.1,193.34 364.39,187.21 365.73,198.1 366.33,191.07 367.65,202.91 368.61,195.16 369.25,203.95 370.21,197.29 370.72,204.89 372.06,199.11 373.23,204.71 373.82,200.21 374.96,209.1 375.45,201.42 375.94,209.76 376.69,201.82 378.02,210.22 379.37,205.44 379.89,212.2 380.37,206.77 381.18,213.55 381.77,208.65 383.01,213.89 384.32,208.63 385.11,216.8 386.03,211.44 387.01,219.81 388.02,213.37 388.93,220.93 390.03,217.44 390.75,224.18 391.67,218.21 392.13,222.98 393.1,220.36 394.1,224.65 394.61,220.09 395.48,225.26 396.24,220.85 397.36,223.69 397.86,221.81 399.18,225.26 400.04,222.77 400.78,226 401.51,223.63 402.49,226.28 403.28,223.71 403.76,227.21 404.87,224.71 405.52,227.85 406.19,225.03 407.03,227.78 407.57,225.05 408.32,228.13 409.16,224.61 409.77,227.32 410.8,224.81 411.66,227.26 412.22,225.42 412.84,228.45 414.04,226.05 414.74,228.61 415.77,225.61 416.53,227.53 417.24,225.83 417.94,228.13 418.76,226.42 419.58,229.16 420.17,227 421.47,229.18 422.81,226.72 424.11,229.33 424.76,226.53 425.97,229.04 426.88,227.08 427.64,228.42 428.15,226.87 428.86,229.33 429.35,226.65 430.43,229.54 431.68,226.88 432.65,228.24 433.77,227.73 434.49,229.49 435.42,227.71 436.71,229.58 437.47,228.05 438.69,229.56 439.85,228.23 440.48,229.76 441.66,228.55 442.82,230.31 444,228.35 444.45,230.14 445.68,229.04 446.38,229.9 447.3,228.97 448.18,230.53 448.63,229.33 449.19,229.94 449.7,228.91 450.92,230.03 451.82,229.51 452.56,230.47 453.59,229.56 454.36,230.46 455.11,229.95 456.06,231.01 456.85,230.15 457.46,230.87 458.46,230.01 459.25,231.28 460.26,230.34 461.04,231.18 462.13,230.45 463.2,231.24 463.87,230.5 464.95,231.02 465.78,230.64 467.02,231.66 467.81,230.57 468.97,231.38 469.84,230.95 471.02,231.72 472.27,230.83 473.32,231.88 474.28,231.18 475.26,231.45 475.84,231.01 476.33,231.61 476.86,231.03 477.48,231.59 478.68,231.39 479.89,232.17 481.1,231.18 482.07,232.28 482.55,231.27 483.46,232.26 484.01,231.3 485.3,231.86 486.04,231.4 487.23,232.05 487.85,231.55 488.85,232.38 489.65,231.54 490.46,232.18 491.29,231.67 492.19,232.54 493.01,231.46 493.6,232.43 494.73,231.52 495.65,232.35 496.68,231.47 497.26,232.11 498.39,231.5 499.3,232.39 500.4,231.8 501.09,232.26 502.07,231.78 502.73,232.59 504.03,231.82 505.12,232.48 506.34,231.76 507.03,232.38 507.5,231.82 508,232.6" fill="none" stroke="#8484cc" stroke-width="0.8" stroke-opacity="0.8" stroke-linejoin="round"/>
<polyline points="386,232.6 386.5,230.42 387.04,230.26 387.63,229.34 388.44,229.25 389.61,226.8 390.26,227.63 390.96,226.53 391.51,227 392.79,225.28 393.97,226.74 394.59,225.15 395.61,226.22 396.83,223.92 397.35,225.86 398.41,224.12 399.02,225.55 399.55,223.47 400.78,225.43 401.5,223.23 402.46,225.55 403.68,223.41 404.5,225.05 405.34,223.57 406.06,225.03 406.55,223.51 407.56,224.24 408.5,222.62 409.25,224.75 409.88,222.45 410.51,224.23 411.21,222.35 412.33,223.66 413.29,221.29 413.83,223.06 414.48,221.33 415.49,223.18 416.24,221.96 417.1,222.63 418.18,220.66 419.49,223.63 420.8,222.17 421.51,223.99 422.66,221.73 423.96,223.77 425.14,222.11 425.76,223.78 426.34,222.25 427.65,224 428.11,223.11 428.71,224.7 429.49,223.08 430.03,225.12 430.86,223.49 431.36,224.32 431.96,223.16 432.55,224.68 433.44,224.44 434.79,225.87 435.72,225.1 436.53,227.36 437.41,226.5 438.23,227.47 439.06,227.76 440.31,229.61 441.21,229.8 441.89,230.61 442.53,230.63 443.76,231.31 444.26,231.07 445.22,232.06 446,232.6" fill="none" stroke="#5cb45c" stroke-width="0.7" stroke-opacity="0.7" stroke-linejoin="round"/>
<polyline points="348.55,232.9 349,220.6 349.45,232.9" fill="none" stroke="#e49aa6" stroke-width="0.85" stroke-opacity="0.85" stroke-linejoin="round"/>
<polyline points="359.95,232.9 360.4,178.8 360.85,232.9" fill="none" stroke="#e49aa6" stroke-width="0.85" stroke-opacity="0.85" stroke-linejoin="round"/>
<polyline points="373.35,232.9 373.8,172 374.25,232.9" fill="none" stroke="#e49aa6" stroke-width="0.85" stroke-opacity="0.85" stroke-linejoin="round"/>
<polyline points="386.05,232.9 386.5,176 386.95,232.9" fill="none" stroke="#e49aa6" stroke-width="0.85" stroke-opacity="0.85" stroke-linejoin="round"/>
<polyline points="436.85,232.9 437.3,172.7 437.75,232.9" fill="none" stroke="#e49aa6" stroke-width="0.85" stroke-opacity="0.85" stroke-linejoin="round"/>
<polyline points="495.75,232.9 496.2,167 496.65,232.9" fill="none" stroke="#e49aa6" stroke-width="0.85" stroke-opacity="0.85" stroke-linejoin="round"/>
</g>
<polyline points="109,341.3 278,341.3" fill="none" stroke="#d8a0a0" stroke-width="0.9" stroke-opacity="0.8" stroke-linejoin="round"/>
<polyline points="109,338.89 109.8,338.83 110.6,338.66 111.4,338.49 112.2,338.82 113,338.83 113.8,338.76 114.6,338.45 115.4,338.81 116.2,338.46 117,338.5 117.8,338.82 118.6,338.58 119.4,338.63 120.2,338.65 121,338.3 121.8,338.84 122.6,338.89 123.4,338.34 124.2,338.66 125,338.78 125.8,338.7 126.6,338.68 127.4,338.33 128.2,338.77 129,338.77 129.8,338.55 130.6,338.57 131.4,338.33 132.2,338.4 133,338.69 133.8,338.78 134.6,338.4 135.4,338.31 136.2,338.88 137,338.46 137.8,338.38 138.6,338.51 139.4,338.77 140.2,338.42 141,338.46 141.8,338.78 142.6,338.52 143.4,338.77 144.2,338.88 145,338.7 145.8,338.7 146.6,338.66 147.4,338.51 148.2,338.4 149,338.32 149.8,338.31 150.6,338.3 151.4,338.43 152.2,338.72 153,338.79 153.8,338.53 154.6,338.57 155.4,338.5 156.2,338.84 157,338.78 157.8,338.35 158.6,338.54 159.4,338.48 160.2,338.84 161,338.66 161.8,338.35 162.6,338.51 163.4,338.31 164.2,338.78 165,338.63 165.8,338.42 166.6,338.63 167.4,338.43" fill="none" stroke="#8484cc" stroke-width="0.7" stroke-opacity="0.6" stroke-linejoin="round"/>
<polyline points="146,338.8 149,337.5 151.5,336.3 154,337.5 157,338.7" fill="none" stroke="#8484cc" stroke-width="0.8" stroke-opacity="0.7" stroke-linejoin="round"/>
<polygon points="160,338.03 160.55,338.12 161.1,338.04 161.65,337.8 162.2,337.92 162.75,337.84 163.3,337.62 163.85,337.65 164.4,337.52 164.95,337.41 165.5,337.45 166.05,337.38 166.6,337.22 167.15,337.17 167.7,337.12 168.25,337.02 168.8,336.98 169.35,336.92 169.9,336.81 170.45,336.79 171,336.69 171.55,336.43 172.1,336.29 172.65,336.13 173.2,335.81 173.75,335.79 174.3,335.74 174.85,335.23 175.4,335.39 175.95,335.33 176.5,334.32 177.05,333.62 177.6,333.08 178.15,331.63 178.7,331.39 179.25,330.49 179.8,329.02 180.35,328.84 180.9,328.27 181.45,325.46 182,326.61 182.55,323.63 183.1,321.33 183.65,322.07 184.2,320.11 184.75,317.2 185.3,316.81 185.85,314.68 186.4,312.39 186.95,311.5 187.5,310.62 188.05,305.28 188.6,304.57 189.15,301.43 189.7,296.46 190.25,294.25 190.8,293.64 191.35,289.19 191.9,288.74 192.45,285.21 193,281.21 193.55,279.67 194.1,278.18 194.65,273.34 195.2,272.55 195.75,270.92 196.3,272.68 196.85,277.56 197.4,281.88 197.95,282.23 198.5,285.99 199.05,290.48 199.6,291.85 200.15,297.85 200.7,300.7 201.25,301.21 201.8,305.07 202.35,308.68 202.9,309.6 203.45,315.02 204,317 204.55,319.36 205.1,323.7 205.65,326.7 206.2,327.23 206.75,330.52 207.3,330.87 207.85,331.17 208.4,333.45 208.95,333.89 209.5,334.14 210.05,335.82 210.6,336.03 211.15,335.92 211.7,336.82 212.25,337.14 212.8,337.23 213.35,337.89 213.9,338.11 214.45,338.2 215,338.47 215.55,338.75 216.1,338.65 216.65,338.88 217.2,339.06 217.75,339.06 218.3,339.33 218.85,339.46 219.4,339.49 219.95,339.65 220.5,339.79 221.05,339.84 221.6,339.89 222.15,339.94 222.7,339.97 223.25,340.02 223.8,340.07 224.35,340.11 224.9,340.15 225.45,340.2 226,340.24 226.55,340.29 227.1,340.33 227.65,340.37 227.65,340.37 227.1,340.33 226.55,340.29 226,340.25 225.45,340.21 224.9,340.17 224.35,340.12 223.8,340.08 223.25,340.03 222.7,340 222.15,339.96 221.6,339.92 221.05,339.87 220.5,339.83 219.95,339.77 219.4,339.67 218.85,339.64 218.3,339.61 217.75,339.62 217.2,339.55 216.65,339.51 216.1,339.44 215.55,339.3 215,338.9 214.45,338.7 213.9,338.59 213.35,338.2 212.8,337.9 212.25,337.76 211.7,337.42 211.15,337.38 210.6,336.77 210.05,336.67 209.5,335.79 208.95,335.38 208.4,334.21 207.85,333.84 207.3,332.91 206.75,332.22 206.2,331.45 205.65,329.29 205.1,327.38 204.55,326.02 204,324.82 203.45,323.15 202.9,320.46 202.35,319.58 201.8,318.54 201.25,316.24 200.7,314.42 200.15,313.25 199.6,311.95 199.05,310.69 198.5,311.45 197.95,310.23 197.4,308.34 196.85,306.23 196.3,307.73 195.75,307.39 195.2,306.79 194.65,308.34 194.1,307.87 193.55,309.79 193,309.34 192.45,311.29 191.9,310.95 191.35,311.19 190.8,314.44 190.25,314.24 189.7,313.88 189.15,316.26 188.6,315.94 188.05,318.61 187.5,318.62 186.95,320.97 186.4,319.21 185.85,322.85 185.3,323.87 184.75,324.56 184.2,323.98 183.65,325.19 183.1,327.9 182.55,327.5 182,328.91 181.45,330.3 180.9,330.82 180.35,332.18 179.8,331.72 179.25,332.6 178.7,332.94 178.15,334.39 177.6,334.36 177.05,334.72 176.5,335.22 175.95,336 175.4,336.07 174.85,336.01 174.3,336.12 173.75,336.27 173.2,336.29 172.65,336.42 172.1,336.6 171.55,336.68 171,336.77 170.45,336.82 169.9,336.91 169.35,337 168.8,337.06 168.25,337.15 167.7,337.28 167.15,337.31 166.6,337.46 166.05,337.54 165.5,337.62 164.95,337.62 164.4,337.79 163.85,337.83 163.3,337.95 162.75,338.05 162.2,338.06 161.65,338.17 161.1,338.18 160.55,338.26 160,338.37" fill="#b6b6e4" fill-opacity="0.85" stroke="none" stroke-width="0"/>
<polyline points="160,338.08 160.55,338.25 161.1,338.06 161.65,338.09 162.2,337.93 162.75,338.03 163.3,337.64 163.85,337.81 164.4,337.58 164.95,337.6 165.5,337.49 166.05,337.5 166.6,337.26 167.15,337.3 167.7,337.16 168.25,337.13 168.8,336.99 169.35,336.99 169.9,336.83 170.45,336.82 171,336.7 171.55,336.65 172.1,336.3 172.65,336.37 173.2,335.86 173.75,336.24 174.3,335.82 174.85,335.85 175.4,335.39 175.95,335.91 176.5,334.38 177.05,334.46 177.6,333.33 178.15,334.22 178.7,331.49 179.25,332.52 179.8,329.69 180.35,331.94 180.9,328.65 181.45,329.72 182,326.98 182.55,326.92 183.1,322.55 183.65,325.1 184.2,320.85 184.75,324.01 185.3,317.75 185.85,322.17 186.4,312.9 186.95,319.72 187.5,311.55 188.05,317.41 188.6,306.69 189.15,314.07 189.7,296.62 190.25,312.98 190.8,296 191.35,306.15 191.9,293.67 192.45,307.73 193,281.31 193.55,303.93 194.1,281.35 194.65,303.31 195.2,278.62 195.75,301.62 196.3,276.9 196.85,299.69 197.4,284.43 197.95,307.48 198.5,291.41 199.05,309.69 199.6,293.34 200.15,310.06 200.7,300.93 201.25,313.1 201.8,307.41 202.35,318.4 202.9,310.38 203.45,321.57 204,318.78 204.55,325.78 205.1,324.14 205.65,328.93 206.2,327.75 206.75,332.08 207.3,330.94 207.85,333.45 208.4,333.61 208.95,335.36 209.5,334.24 210.05,336.49 210.6,336.17 211.15,337.14 211.7,336.82 212.25,337.65 212.8,337.39 213.35,338.12 213.9,338.2 214.45,338.69 215,338.56 215.55,339.27 216.1,338.77 216.65,339.36 217.2,339.15 217.75,339.6 218.3,339.35 218.85,339.6 219.4,339.49 219.95,339.75 220.5,339.79 221.05,339.87 221.6,339.9 222.15,339.96 222.7,339.97 223.25,340.03 223.8,340.07 224.35,340.12 224.9,340.16 225.45,340.2 226,340.24 226.55,340.29 227.1,340.33 227.65,340.37" fill="none" stroke="#8484cc" stroke-width="0.6" stroke-opacity="0.3" stroke-linejoin="round"/>
<polyline points="160,338.03 160.55,338.12 161.1,338.04 161.65,337.8 162.2,337.92 162.75,337.84 163.3,337.62 163.85,337.65 164.4,337.52 164.95,337.41 165.5,337.45 166.05,337.38 166.6,337.22 167.15,337.17 167.7,337.12 168.25,337.02 168.8,336.98 169.35,336.92 169.9,336.81 170.45,336.79 171,336.69 171.55,336.43 172.1,336.29 172.65,336.13 173.2,335.81 173.75,335.79 174.3,335.74 174.85,335.23 175.4,335.39 175.95,335.33 176.5,334.32 177.05,333.62 177.6,333.08 178.15,331.63 178.7,331.39 179.25,330.49 179.8,329.02 180.35,328.84 180.9,328.27 181.45,325.46 182,326.61 182.55,323.63 183.1,321.33 183.65,322.07 184.2,320.11 184.75,317.2 185.3,316.81 185.85,314.68 186.4,312.39 186.95,311.5 187.5,310.62 188.05,305.28 188.6,304.57 189.15,301.43 189.7,296.46 190.25,294.25 190.8,293.64 191.35,289.19 191.9,288.74 192.45,285.21 193,281.21 193.55,279.67 194.1,278.18 194.65,273.34 195.2,272.55 195.75,270.92 196.3,272.68 196.85,277.56 197.4,281.88 197.95,282.23 198.5,285.99 199.05,290.48 199.6,291.85 200.15,297.85 200.7,300.7 201.25,301.21 201.8,305.07 202.35,308.68 202.9,309.6 203.45,315.02 204,317 204.55,319.36 205.1,323.7 205.65,326.7 206.2,327.23 206.75,330.52 207.3,330.87 207.85,331.17 208.4,333.45 208.95,333.89 209.5,334.14 210.05,335.82 210.6,336.03 211.15,335.92 211.7,336.82 212.25,337.14 212.8,337.23 213.35,337.89 213.9,338.11 214.45,338.2 215,338.47 215.55,338.75 216.1,338.65 216.65,338.88 217.2,339.06 217.75,339.06 218.3,339.33 218.85,339.46 219.4,339.49 219.95,339.65 220.5,339.79 221.05,339.84 221.6,339.89 222.15,339.94 222.7,339.97 223.25,340.02 223.8,340.07 224.35,340.11 224.9,340.15 225.45,340.2 226,340.24 226.55,340.29 227.1,340.33 227.65,340.37" fill="none" stroke="#8484cc" stroke-width="0.7" stroke-opacity="0.75" stroke-linejoin="round"/>
<polyline points="160,338.37 160.55,338.26 161.1,338.18 161.65,338.17 162.2,338.06 162.75,338.05 163.3,337.95 163.85,337.83 164.4,337.79 164.95,337.62 165.5,337.62 166.05,337.54 166.6,337.46 167.15,337.31 167.7,337.28 168.25,337.15 168.8,337.06 169.35,337 169.9,336.91 170.45,336.82 171,336.77 171.55,336.68 172.1,336.6 172.65,336.42 173.2,336.29 173.75,336.27 174.3,336.12 174.85,336.01 175.4,336.07 175.95,336 176.5,335.22 177.05,334.72 177.6,334.36 178.15,334.39 178.7,332.94 179.25,332.6 179.8,331.72 180.35,332.18 180.9,330.82 181.45,330.3 182,328.91 182.55,327.5 183.1,327.9 183.65,325.19 184.2,323.98 184.75,324.56 185.3,323.87 185.85,322.85 186.4,319.21 186.95,320.97 187.5,318.62 188.05,318.61 188.6,315.94 189.15,316.26 189.7,313.88 190.25,314.24 190.8,314.44 191.35,311.19 191.9,310.95 192.45,311.29 193,309.34 193.55,309.79 194.1,307.87 194.65,308.34 195.2,306.79 195.75,307.39 196.3,307.73 196.85,306.23 197.4,308.34 197.95,310.23 198.5,311.45 199.05,310.69 199.6,311.95 200.15,313.25 200.7,314.42 201.25,316.24 201.8,318.54 202.35,319.58 202.9,320.46 203.45,323.15 204,324.82 204.55,326.02 205.1,327.38 205.65,329.29 206.2,331.45 206.75,332.22 207.3,332.91 207.85,333.84 208.4,334.21 208.95,335.38 209.5,335.79 210.05,336.67 210.6,336.77 211.15,337.38 211.7,337.42 212.25,337.76 212.8,337.9 213.35,338.2 213.9,338.59 214.45,338.7 215,338.9 215.55,339.3 216.1,339.44 216.65,339.51 217.2,339.55 217.75,339.62 218.3,339.61 218.85,339.64 219.4,339.67 219.95,339.77 220.5,339.83 221.05,339.87 221.6,339.92 222.15,339.96 222.7,340 223.25,340.03 223.8,340.08 224.35,340.12 224.9,340.17 225.45,340.21 226,340.25 226.55,340.29 227.1,340.33 227.65,340.37" fill="none" stroke="#8484cc" stroke-width="0.6" stroke-opacity="0.5249999999999999" stroke-linejoin="round"/>
<polyline points="129.25,340.7 129.7,306.2 130.15,340.7" fill="none" stroke="#e49aa6" stroke-width="0.85" stroke-opacity="0.8" stroke-linejoin="round"/>
<polyline points="143.35,340.7 143.8,306.2 144.25,340.7" fill="none" stroke="#e49aa6" stroke-width="0.85" stroke-opacity="0.8" stroke-linejoin="round"/>
<polyline points="156.05,340.7 156.5,306.2 156.95,340.7" fill="none" stroke="#e49aa6" stroke-width="0.85" stroke-opacity="0.8" stroke-linejoin="round"/>
<polyline points="206.25,340.7 206.7,306.2 207.15,340.7" fill="none" stroke="#e49aa6" stroke-width="0.85" stroke-opacity="0.8" stroke-linejoin="round"/>
<polyline points="264.75,340.7 265.2,306.2 265.65,340.7" fill="none" stroke="#e49aa6" stroke-width="0.85" stroke-opacity="0.8" stroke-linejoin="round"/>
<g transform="translate(0,0.9)">
<polyline points="339,341.2 509,341.2" fill="none" stroke="#c8a070" stroke-width="0.9" stroke-opacity="0.8" stroke-linejoin="round"/>
<polygon points="340,340.4 340.5,332.11 341.69,333.77 342.38,332.09 343.42,333.2 344.56,330.86 345.7,332.1 346.87,329.48 347.69,331.87 348.76,329.18 349.71,331.58 350.39,327.57 351.46,331 352.21,327.65 353.38,330.14 354.23,326.46 354.86,329.04 355.57,324.19 356.55,327.48 357.59,325.67 358.88,330.14 359.8,324.35 360.87,326.61 362.2,320.58 362.98,323.32 363.7,318.56 364.23,324.34 365.16,320.64 366.2,324.18 366.83,321.25 367.4,324.87 368.63,322.67 369.09,327.96 369.56,324.28 370.82,328.74 371.55,325.85 372.35,328.39 373.7,328.19 374.53,331.53 375.34,328.57 376.01,332.86 377.26,330.56 378.51,333.49 379.71,331.62 380.62,333.94 381.71,332.48 382.24,334.61 382.93,332.39 384.08,333.31 384.55,332.13 385.53,333.21 386.21,331.22 387.5,333.25 388.32,332.08 389.32,334.59 390.19,334.08 390.77,335.77 391.5,334.72 392.24,336.52 393.56,335.46 394.35,337.08 395.09,336.31 395.98,337.53 397.27,336.71 397.73,337.53 398.23,336.98 399.37,337.5 400.47,337.2 401.77,338.22 402.27,337.37 403.57,337.98 404.4,336.97 405.59,337.78 406.46,337.07 407.23,337.42 408.25,336.68 408.83,337.59 409.36,336.71 410.4,337.28 411.66,336.1 412.74,336.66 413.94,336 414.94,337.21 416.21,335.88 417.07,337.32 418.23,336.58 419.53,337.76 420.37,336.66 421.23,337.57 422.32,337.21 423.49,338.2 424.2,337.13 424.72,338.26 425.42,337.29 426.26,338.44 426.74,337.76 427.92,338.47 428.86,338.03 429.46,338.5 429.96,337.89 431.1,338.89 432.18,338.35 432.7,338.96 433.25,338.43 434.12,339.03 434.64,338.7 435.55,338.96 436.48,338.83 437.18,339.13 438.14,338.86 438.79,339.25 439.75,338.83 440.58,339.32 441.31,339.07 442.28,339.66 443.24,339.19 443.98,339.61 444.83,339.23 446.18,339.79 447.22,339.29 448.25,339.98 449.04,339.36 450.36,339.78 451.38,339.48 451.88,339.74 453.01,339.59 454.1,339.83 454.89,339.65 455.82,340.15 456.48,339.56 457.76,340.01 458.63,339.57 459.86,340 460.9,339.76 461.45,340.34 461.95,339.6 463.07,340.28 464.18,339.71 464.89,340.24 465.52,339.69 466.67,340.4 467.32,339.8 467.99,340.4 469.11,339.74 470.2,340.4 471.35,339.99 472.34,340.17 473.12,340 474.42,340.18 475.7,339.82 476.54,340.4 477.04,340.02 477.5,340.23 477.95,339.86 478.48,340.4 479.18,340.04 480,340.32 481.33,340 482.32,340.4 483.33,339.99 484.02,340.33 485.27,340.07 486.13,340.4 487.09,339.91 488.27,340.4 488.83,340.01 489.71,340.4 490.64,340 491.82,340.4 493.02,339.97 493.61,340.4 494.85,339.99 495.6,340.4 496.17,340.12 497.39,340.4 497.84,340.15 498.37,340.4 499.51,340.01 500.04,340.4 500.6,340.02 501.81,340.4 503.11,340.14 504.26,340.4 505.04,340.04 506.25,340.4 507.48,340.14 508,340.4 508,340.7 507.48,340.7 506.25,340.7 505.04,340.7 504.26,340.7 503.11,340.7 501.81,340.7 500.6,340.7 500.04,340.7 499.51,340.7 498.37,340.7 497.84,340.7 497.39,340.7 496.17,340.7 495.6,340.7 494.85,340.7 493.61,340.7 493.02,340.7 491.82,340.7 490.64,340.7 489.71,340.7 488.83,340.7 488.27,340.7 487.09,340.7 486.13,340.7 485.27,340.7 484.02,340.7 483.33,340.7 482.32,340.7 481.33,340.7 480,340.7 479.18,340.7 478.48,340.7 477.95,340.7 477.5,340.7 477.04,340.7 476.54,340.7 475.7,340.7 474.42,340.7 473.12,340.7 472.34,340.7 471.35,340.7 470.2,340.7 469.11,340.7 467.99,340.7 467.32,340.7 466.67,340.7 465.52,340.7 464.89,340.7 464.18,340.7 463.07,340.7 461.95,340.7 461.45,340.7 460.9,340.7 459.86,340.7 458.63,340.7 457.76,340.7 456.48,340.7 455.82,340.7 454.89,340.7 454.1,340.7 453.01,340.7 451.88,340.7 451.38,340.7 450.36,340.7 449.04,340.7 448.25,340.7 447.22,340.7 446.18,340.7 444.83,340.7 443.98,340.7 443.24,340.7 442.28,340.7 441.31,340.7 440.58,340.7 439.75,340.7 438.79,340.7 438.14,340.7 437.18,340.7 436.48,340.7 435.55,340.7 434.64,340.7 434.12,340.7 433.25,340.7 432.7,340.7 432.18,340.7 431.1,340.7 429.96,340.7 429.46,340.7 428.86,340.7 427.92,340.7 426.74,340.7 426.26,340.7 425.42,340.7 424.72,340.7 424.2,340.7 423.49,340.7 422.32,340.7 421.23,340.69 420.37,340.58 419.53,340.45 418.23,340.24 417.07,340.05 416.21,339.92 414.94,339.72 413.94,339.64 412.74,339.83 411.66,340 410.4,340.19 409.36,340.36 408.83,340.44 408.25,340.53 407.23,340.64 406.46,340.7 405.59,340.7 404.4,340.7 403.57,340.7 402.27,340.7 401.77,340.7 400.47,340.7 399.37,340.7 398.23,340.59 397.73,340.51 397.27,340.44 395.98,340.24 395.09,340.1 394.35,339.83 393.56,339.55 392.24,339.08 391.5,338.81 390.77,338.49 390.19,338.01 389.32,337.28 388.32,336.45 387.5,335.76 386.21,335.27 385.53,335.51 384.55,335.85 384.08,336.01 382.93,336.42 382.24,336.56 381.71,336.44 380.62,336.18 379.71,335.96 378.51,335.67 377.26,334.87 376.01,333.89 375.34,333.36 374.53,332.65 373.7,331.86 372.35,330.67 371.55,330.04 370.82,329.48 369.56,328.46 369.09,328.01 368.63,327.57 367.4,326.38 366.83,325.82 366.2,325.29 365.16,324.47 364.23,323.75 363.7,323.34 362.98,323.5 362.2,324.24 360.87,326.22 359.8,329.04 358.88,330.45 357.59,329.85 356.55,329.36 355.57,329.37 354.86,329.81 354.23,330.2 353.38,330.74 352.21,331.38 351.46,331.74 350.39,332.25 349.71,332.57 348.76,333.03 347.69,333.53 346.87,333.92 345.7,334.41 344.56,334.85 343.42,335.28 342.38,335.69 341.69,335.95 340.5,336.41 340,336.6" fill="#b6b6e4" fill-opacity="0.5" stroke="none" stroke-width="0"/>
<polyline points="340,340.4 340.5,332.11 341.69,333.77 342.38,332.09 343.42,333.2 344.56,330.86 345.7,332.1 346.87,329.48 347.69,331.87 348.76,329.18 349.71,331.58 350.39,327.57 351.46,331 352.21,327.65 353.38,330.14 354.23,326.46 354.86,329.04 355.57,324.19 356.55,327.48 357.59,325.67 358.88,330.14 359.8,324.35 360.87,326.61 362.2,320.58 362.98,323.32 363.7,318.56 364.23,324.34 365.16,320.64 366.2,324.18 366.83,321.25 367.4,324.87 368.63,322.67 369.09,327.96 369.56,324.28 370.82,328.74 371.55,325.85 372.35,328.39 373.7,328.19 374.53,331.53 375.34,328.57 376.01,332.86 377.26,330.56 378.51,333.49 379.71,331.62 380.62,333.94 381.71,332.48 382.24,334.61 382.93,332.39 384.08,333.31 384.55,332.13 385.53,333.21 386.21,331.22 387.5,333.25 388.32,332.08 389.32,334.59 390.19,334.08 390.77,335.77 391.5,334.72 392.24,336.52 393.56,335.46 394.35,337.08 395.09,336.31 395.98,337.53 397.27,336.71 397.73,337.53 398.23,336.98 399.37,337.5 400.47,337.2 401.77,338.22 402.27,337.37 403.57,337.98 404.4,336.97 405.59,337.78 406.46,337.07 407.23,337.42 408.25,336.68 408.83,337.59 409.36,336.71 410.4,337.28 411.66,336.1 412.74,336.66 413.94,336 414.94,337.21 416.21,335.88 417.07,337.32 418.23,336.58 419.53,337.76 420.37,336.66 421.23,337.57 422.32,337.21 423.49,338.2 424.2,337.13 424.72,338.26 425.42,337.29 426.26,338.44 426.74,337.76 427.92,338.47 428.86,338.03 429.46,338.5 429.96,337.89 431.1,338.89 432.18,338.35 432.7,338.96 433.25,338.43 434.12,339.03 434.64,338.7 435.55,338.96 436.48,338.83 437.18,339.13 438.14,338.86 438.79,339.25 439.75,338.83 440.58,339.32 441.31,339.07 442.28,339.66 443.24,339.19 443.98,339.61 444.83,339.23 446.18,339.79 447.22,339.29 448.25,339.98 449.04,339.36 450.36,339.78 451.38,339.48 451.88,339.74 453.01,339.59 454.1,339.83 454.89,339.65 455.82,340.15 456.48,339.56 457.76,340.01 458.63,339.57 459.86,340 460.9,339.76 461.45,340.34 461.95,339.6 463.07,340.28 464.18,339.71 464.89,340.24 465.52,339.69 466.67,340.4 467.32,339.8 467.99,340.4 469.11,339.74 470.2,340.4 471.35,339.99 472.34,340.17 473.12,340 474.42,340.18 475.7,339.82 476.54,340.4 477.04,340.02 477.5,340.23 477.95,339.86 478.48,340.4 479.18,340.04 480,340.32 481.33,340 482.32,340.4 483.33,339.99 484.02,340.33 485.27,340.07 486.13,340.4 487.09,339.91 488.27,340.4 488.83,340.01 489.71,340.4 490.64,340 491.82,340.4 493.02,339.97 493.61,340.4 494.85,339.99 495.6,340.4 496.17,340.12 497.39,340.4 497.84,340.15 498.37,340.4 499.51,340.01 500.04,340.4 500.6,340.02 501.81,340.4 503.11,340.14 504.26,340.4 505.04,340.04 506.25,340.4 507.48,340.14 508,340.4" fill="none" stroke="#8484cc" stroke-width="0.8" stroke-opacity="0.8" stroke-linejoin="round"/>
<polyline points="390,340.4 390.5,339.8 391.15,339.84 391.72,339.41 392.59,339.3 393.6,338.92 394.53,338.72 395.12,338.43 396.45,338.46 397.17,338.18 398.62,338.35 399.52,337.88 400.06,338.27 400.85,337.89 401.47,338.03 402.79,337.69 403.87,337.88 404.74,337.41 405.3,337.6 406.01,337.3 406.94,337.61 408.02,337.25 408.82,337.64 410.02,337.19 411.09,337.47 412.47,336.95 413.26,337.48 413.88,336.95 415.13,337.18 416.12,337.05 417.29,337.46 418.36,336.96 419.18,337.53 420.27,337.13 421.23,337.65 422.67,337.28 423.84,337.55 425.04,337.37 426.53,337.96 427.32,337.66 428.48,337.93 429.45,337.91 430.06,338.1 431.33,338.11 432.08,338.38 433.45,338.33 434.4,338.62 435.78,338.55 437.15,339.09 438.06,339.1 439.45,339.69 440.1,339.57 440.83,339.87 441.81,339.88 442,340.4" fill="none" stroke="#5cb45c" stroke-width="0.7" stroke-opacity="0.55" stroke-linejoin="round"/>
<polyline points="359.95,340.7 360.4,281.7 360.85,340.7" fill="none" stroke="#e49aa6" stroke-width="0.85" stroke-opacity="0.85" stroke-linejoin="round"/>
<polyline points="373.65,340.7 374.1,281.7 374.55,340.7" fill="none" stroke="#e49aa6" stroke-width="0.85" stroke-opacity="0.85" stroke-linejoin="round"/>
<polyline points="386.75,340.7 387.2,281.7 387.65,340.7" fill="none" stroke="#e49aa6" stroke-width="0.85" stroke-opacity="0.85" stroke-linejoin="round"/>
<polyline points="436.85,340.7 437.3,274 437.75,340.7" fill="none" stroke="#e49aa6" stroke-width="0.85" stroke-opacity="0.85" stroke-linejoin="round"/>
<polyline points="496.05,340.7 496.5,270.7 496.95,340.7" fill="none" stroke="#e49aa6" stroke-width="0.85" stroke-opacity="0.85" stroke-linejoin="round"/>
</g>
<polyline points="109,449 278,449" fill="none" stroke="#e89a9a" stroke-width="1.1" stroke-opacity="0.9" stroke-linejoin="round"/>
<polyline points="109,447.6 170,447.6 178,447.4 181.7,445.8 184,447.3 190,447.6 193.5,447.2 196.5,447.2 198,447.7 204.5,447.4 207.5,447.4 210,447.8 222,448" fill="none" stroke="#806080" stroke-width="0.9" stroke-opacity="0.8" stroke-linejoin="round"/>
<polygon points="193.3,447.5 194.2,430 194.6,400 194.9,373.4 195.2,400 195.6,430 196.5,447.5" fill="#a0a0d0" fill-opacity="0.85" stroke="none" stroke-width="0"/>
<polyline points="194.9,446 194.9,374" fill="none" stroke="#8888c0" stroke-width="0.8" stroke-opacity="0.9" stroke-linejoin="round"/>
<polygon points="204.3,447.5 205.2,430 205.7,400 206.1,372.9 206.5,400 207,430 207.9,447.5" fill="#a8d0e8" fill-opacity="0.8" stroke="none" stroke-width="0"/>
<polyline points="206.1,446 206.1,373.5" fill="none" stroke="#5878c0" stroke-width="1.0" stroke-opacity="0.9" stroke-linejoin="round"/>
<polyline points="129.25,448.1 129.7,445 130.15,448.1" fill="none" stroke="#e49aa6" stroke-width="0.85" stroke-opacity="0.6" stroke-linejoin="round"/>
<polyline points="143.35,448.1 143.8,445 144.25,448.1" fill="none" stroke="#e49aa6" stroke-width="0.85" stroke-opacity="0.6" stroke-linejoin="round"/>
<polyline points="156.05,448.1 156.5,445 156.95,448.1" fill="none" stroke="#e49aa6" stroke-width="0.85" stroke-opacity="0.6" stroke-linejoin="round"/>
<polyline points="264.75,448.1 265.2,445 265.65,448.1" fill="none" stroke="#e49aa6" stroke-width="0.85" stroke-opacity="0.6" stroke-linejoin="round"/>
<g transform="translate(0,0.9)">
<polyline points="336,448.8 505.5,448.8" fill="none" stroke="#e0a0a0" stroke-width="1.0" stroke-opacity="0.8" stroke-linejoin="round"/>
<polyline points="336,448 350,447.6 352,446.5 354,447.8 379,447.8 379.8,444 380.6,447.8 505.5,448" fill="none" stroke="#888" stroke-width="0.7" stroke-opacity="0.6" stroke-linejoin="round"/>
<polygon points="390.6,448 391.6,430 392,400 392.2,375.4 392.5,400 392.9,430 393.8,448" fill="#9ccc9c" fill-opacity="0.9" stroke="none" stroke-width="0"/>
<polyline points="392.2,446 392.2,376" fill="none" stroke="#78a878" stroke-width="0.7" stroke-opacity="0.8" stroke-linejoin="round"/>
<polyline points="465.8,448 465.8,374" fill="none" stroke="#c8d0c8" stroke-width="0.6" stroke-opacity="0.6" stroke-linejoin="round"/>
<polygon points="464.6,448 465.8,441.3 467,448" fill="#80b880" fill-opacity="0.8" stroke="none" stroke-width="0"/>
<polyline points="356.55,448.1 357,439 357.45,448.1" fill="none" stroke="#e49aa6" stroke-width="0.85" stroke-opacity="0.8" stroke-linejoin="round"/>
<polyline points="369.95,448.1 370.4,439 370.85,448.1" fill="none" stroke="#e49aa6" stroke-width="0.85" stroke-opacity="0.8" stroke-linejoin="round"/>
<polyline points="382.75,448.1 383.2,439 383.65,448.1" fill="none" stroke="#e49aa6" stroke-width="0.85" stroke-opacity="0.8" stroke-linejoin="round"/>
<polyline points="433.55,448.1 434,439 434.45,448.1" fill="none" stroke="#e49aa6" stroke-width="0.85" stroke-opacity="0.8" stroke-linejoin="round"/>
<polyline points="492.05,448.1 492.5,437.5 492.95,448.1" fill="none" stroke="#e49aa6" stroke-width="0.85" stroke-opacity="0.8" stroke-linejoin="round"/>
</g>
<polyline points="109,582.3 278,582.3" fill="none" stroke="#e0a0a0" stroke-width="0.9" stroke-opacity="0.8" stroke-linejoin="round"/>
<polyline points="109,579.74 109.8,579.92 110.6,580 111.4,579.1 112.2,579.51 113,579.37 113.8,579.54 114.6,579.74 115.4,579.32 116.2,579.51 117,579.26 117.8,579.41 118.6,579.19 119.4,579.67 120.2,580.01 121,580.02 121.8,579.33 122.6,580 123.4,579.41 124.2,579.46 125,580.13 125.8,579.26 126.6,580.16 127.4,579.16 128.2,579.19 129,579.94 129.8,579.33 130.6,579.32 131.4,580.05 132.2,579.4 133,580.05 133.8,579.1 134.6,579.37 135.4,579.02 136.2,580.14 137,579.82 137.8,579.46 138.6,579.47 139.4,579.98 140.2,579.13 141,579.18 141.8,579.84 142.6,580.02 143.4,579.4 144.2,579.71 145,579.4 145.8,579.61 146.6,579.73 147.4,580.17 148.2,580.04 149,579.65 149.8,579.33 150.6,579.69 151.4,579.31 152.2,579.55 153,579.14 153.8,579.41 154.6,579.81 155.4,580.03 156.2,580.12 157,580.15 157.8,579.17 158.6,579.15 159.4,579.3" fill="none" stroke="#8484cc" stroke-width="0.7" stroke-opacity="0.6" stroke-linejoin="round"/>
<polyline points="155,580 156.5,572.3 158,579 160,580.5 163,580 164.3,556 165.1,543.4 165.6,560 166,545 166.6,566 167.5,573.6 168.5,577 170.2,575 171.5,578.5 173,577 174.2,566.2 174.9,563 175.6,575 176.5,579 178,576 180,572 181.5,569 182.3,513.7 183,553 183.8,555 185,553 185.7,542.7 186.6,566 187.4,570 188.3,560 189,521.8 189.7,540 190.4,523.8 191.2,556 192,560 192.8,566 193.7,537.3 194.7,545 195.8,540 196.6,555 197.4,560 198.2,575 199.2,580 200.2,577 201.1,571 202,580 203,572 204,580 205.5,578 207.2,562.9 208,578 209,581 212,581.5 216,582" fill="none" stroke="#8484cc" stroke-width="0.9" stroke-opacity="0.85" stroke-linejoin="round"/>
<polygon points="181.5,569 182.5,556 185.8,542.6 188.5,521 190.4,521 191.2,548 193.5,537.5 195.8,537.5 196.5,542.6 197.3,560 196,566 193,562 190,556 186,560 183,566" fill="#b6b6e4" fill-opacity="0.55" stroke="none" stroke-width="0"/>
<polyline points="264.75,581.7 265.2,579.5 265.65,581.7" fill="none" stroke="#e49aa6" stroke-width="0.85" stroke-opacity="0.6" stroke-linejoin="round"/>
<g transform="translate(0,0.9)">
<polyline points="339,582.2 509,582.2" fill="none" stroke="#b09090" stroke-width="0.9" stroke-opacity="0.8" stroke-linejoin="round"/>
<polyline points="339,581.5 350,581 353.5,578 355,581.5 364,581 366,578 368,581.5 380,581" fill="none" stroke="#8484cc" stroke-width="0.7" stroke-opacity="0.6" stroke-linejoin="round"/>
<polyline points="359.25,581.7 359.7,567.3 360.15,581.7" fill="none" stroke="#e49aa6" stroke-width="0.85" stroke-opacity="0.85" stroke-linejoin="round"/>
<polyline points="373.35,581.7 373.8,567.3 374.25,581.7" fill="none" stroke="#e49aa6" stroke-width="0.85" stroke-opacity="0.85" stroke-linejoin="round"/>
<polyline points="386.05,581.7 386.5,567.3 386.95,581.7" fill="none" stroke="#e49aa6" stroke-width="0.85" stroke-opacity="0.85" stroke-linejoin="round"/>
<polyline points="436.45,581.7 436.9,567 437.35,581.7" fill="none" stroke="#e49aa6" stroke-width="0.85" stroke-opacity="0.85" stroke-linejoin="round"/>
<polyline points="494.75,581.7 495.2,566.9 495.65,581.7" fill="none" stroke="#e49aa6" stroke-width="0.85" stroke-opacity="0.85" stroke-linejoin="round"/>
<polyline points="389,582 390.4,575 391.5,515.8 392.4,576 393.8,552.3 394.8,572 395.8,567.7 396.8,577 398.7,573.5 400,581 404,582 406,578 408.3,574.4 409.5,580 411,571 412.7,561.9 414,575 415.5,566 417.9,549.4 419.2,566 420.8,556.2 422,568 423,575 424.2,571.5 425.5,578 427.5,569.6 429,579 431,582" fill="none" stroke="#5cb45c" stroke-width="0.7" stroke-opacity="0.7" stroke-linejoin="round"/>
<polygon points="411,582 412.7,561.9 415.5,566 417.9,549.4 419.2,566 420.8,556.2 423,575 425,582" fill="#b6e0b6" fill-opacity="0.25" stroke="none" stroke-width="0"/>
</g>
<polyline points="109,690.2 278,690.2" fill="none" stroke="#e0a0a0" stroke-width="0.9" stroke-opacity="0.8" stroke-linejoin="round"/>
<polyline points="109,687.51 109.8,687.2 110.6,687.61 111.4,686.81 112.2,687.52 113,687.14 113.8,686.69 114.6,687.32 115.4,686.64 116.2,686.92 117,687.14 117.8,687.05 118.6,687.1 119.4,687.37 120.2,686.6 121,687.32 121.8,686.62 122.6,686.78 123.4,687.77 124.2,687.49 125,687.23 125.8,686.82 126.6,687.59 127.4,687.06 128.2,687.36 129,686.86 129.8,686.69 130.6,686.89 131.4,687.57 132.2,686.89 133,687.27 133.8,686.8 134.6,687.24 135.4,686.71 136.2,686.62 137,686.81 137.8,686.81 138.6,686.82 139.4,687.09 140.2,687.59 141,686.62 141.8,687.24 142.6,687.78 143.4,687.28 144.2,687.3 145,687.56 145.8,686.65 146.6,687.67 147.4,686.72 148.2,687.14 149,687.59 149.8,687.37 150.6,687.26 151.4,687.66 152.2,686.88 153,687.02 153.8,686.62 154.6,686.8 155.4,686.86 156.2,686.6 157,686.68 157.8,687.03 158.6,687.15 159.4,687.17" fill="none" stroke="#8484cc" stroke-width="0.7" stroke-opacity="0.6" stroke-linejoin="round"/>
<polyline points="163.5,689 163.5,617" fill="none" stroke="#c8c8d8" stroke-width="0.6" stroke-opacity="0.6" stroke-linejoin="round"/>
<polyline points="182.3,689 182.3,617" fill="none" stroke="#c8c8d8" stroke-width="0.6" stroke-opacity="0.6" stroke-linejoin="round"/>
<polyline points="160,688 162.6,687 163.5,669.5 164.4,685 166,687.5 168,687 170,684" fill="none" stroke="#8484cc" stroke-width="0.8" stroke-opacity="0.8" stroke-linejoin="round"/>
<polygon points="168,687.02 168.55,686.14 169.1,685.06 169.65,683.71 170.2,683.88 170.75,682.65 171.3,679.78 171.85,679.53 172.4,678.16 172.95,677.6 173.5,679.5 174.05,679.68 174.6,678.72 175.15,680.54 175.7,679.91 176.25,678.05 176.8,679.99 177.35,677.85 177.9,676.67 178.45,676.41 179,676.12 179.55,673.43 180.1,673.15 180.65,669.93 181.2,666.06 181.75,665.62 182.3,662.92 182.85,657.16 183.4,655.84 183.95,651.67 184.5,647.72 185.05,646.05 185.6,647.68 186.15,648.97 186.7,652.57 187.25,653.62 187.8,648.56 188.35,648.08 188.9,644.58 189.45,640.91 190,640.71 190.55,636.31 191.1,632.05 191.65,630.6 192.2,627.75 192.75,624.97 193.3,628.28 193.85,631.05 194.4,628.94 194.95,629.73 195.5,625.84 196.05,623.87 196.6,630.89 197.15,636.15 197.7,638.53 198.25,645.56 198.8,649.13 199.35,648.99 199.9,651.87 200.45,654.63 201,655.36 201.55,659.11 202.1,660.73 202.65,662.2 203.2,666.11 203.75,669.05 204.3,669.24 204.85,672.73 205.4,675.7 205.95,676.87 206.5,681.18 207.05,682.86 207.6,684.16 208.15,686.84 208.7,687.15 209.25,686.97 209.8,687.84 210.35,687.92 210.9,688.25 211.45,688.89 211.45,689.05 210.9,688.85 210.35,688.64 209.8,688.37 209.25,688.19 208.7,688.14 208.15,687.71 207.6,686.34 207.05,685.95 206.5,685.94 205.95,683.14 205.4,684.21 204.85,683.11 204.3,681.52 203.75,680.09 203.2,678.22 202.65,678.92 202.1,676.46 201.55,676.64 201,674.51 200.45,674.65 199.9,670.89 199.35,670.96 198.8,669.39 198.25,670.65 197.7,669.2 197.15,668.91 196.6,666.95 196.05,665.36 195.5,666.33 194.95,666.29 194.4,664.08 193.85,663.5 193.3,664.09 192.75,665.43 192.2,665.23 191.65,665.26 191.1,665.69 190.55,666.29 190,667.31 189.45,669.03 188.9,667.5 188.35,667.61 187.8,670.85 187.25,671.79 186.7,670.77 186.15,672.97 185.6,674.17 185.05,675.43 184.5,675.02 183.95,675.35 183.4,677.22 182.85,678.99 182.3,678.61 181.75,677.96 181.2,679.43 180.65,679.89 180.1,680.24 179.55,682.41 179,681.41 178.45,681.09 177.9,682.86 177.35,684.41 176.8,683.35 176.25,683.54 175.7,683.82 175.15,684.28 174.6,684.5 174.05,683.48 173.5,686.09 172.95,683.88 172.4,685.94 171.85,686.21 171.3,684.91 170.75,686.12 170.2,686.53 169.65,687.22 169.1,687.41 168.55,687.33 168,687.66" fill="#b6b6e4" fill-opacity="0.85" stroke="none" stroke-width="0"/>
<polyline points="168,687.06 168.55,687.24 169.1,685.38 169.65,686.36 170.2,684.13 170.75,685.3 171.3,680.87 171.85,685.35 172.4,679.38 172.95,682.38 173.5,680.79 174.05,683.2 174.6,679.94 175.15,684.09 175.7,680.27 176.25,682.23 176.8,680.7 177.35,683.9 177.9,677.12 178.45,680.37 179,677.23 179.55,680.88 180.1,674.81 180.65,678.08 181.2,668.8 181.75,676.1 182.3,664.34 182.85,676.65 183.4,658.46 183.95,672.22 184.5,653.44 185.05,673.46 185.6,648.13 186.15,668.57 186.7,653.8 187.25,669.88 187.8,649.21 188.35,663.56 188.9,646.15 189.45,666.98 190,646.05 190.55,662.51 191.1,634.38 191.65,657.56 192.2,631.61 192.75,661.78 193.3,636.92 193.85,657.09 194.4,635.51 194.95,664 195.5,634.07 196.05,659.17 196.6,638.37 197.15,665.9 197.7,644.51 198.25,665.67 198.8,651.09 199.35,667.36 199.9,655.58 200.45,669.68 201,659.77 201.55,673.19 202.1,661.27 202.65,676.37 203.2,668.18 203.75,679.85 204.3,670.66 204.85,680.85 205.4,677.63 205.95,681.69 206.5,681.29 207.05,685.48 207.6,684.63 208.15,687.57 208.7,687.23 209.25,688.18 209.8,687.96 210.35,688.49 210.9,688.35 211.45,689.04" fill="none" stroke="#8484cc" stroke-width="0.6" stroke-opacity="0.3" stroke-linejoin="round"/>
<polyline points="168,687.02 168.55,686.14 169.1,685.06 169.65,683.71 170.2,683.88 170.75,682.65 171.3,679.78 171.85,679.53 172.4,678.16 172.95,677.6 173.5,679.5 174.05,679.68 174.6,678.72 175.15,680.54 175.7,679.91 176.25,678.05 176.8,679.99 177.35,677.85 177.9,676.67 178.45,676.41 179,676.12 179.55,673.43 180.1,673.15 180.65,669.93 181.2,666.06 181.75,665.62 182.3,662.92 182.85,657.16 183.4,655.84 183.95,651.67 184.5,647.72 185.05,646.05 185.6,647.68 186.15,648.97 186.7,652.57 187.25,653.62 187.8,648.56 188.35,648.08 188.9,644.58 189.45,640.91 190,640.71 190.55,636.31 191.1,632.05 191.65,630.6 192.2,627.75 192.75,624.97 193.3,628.28 193.85,631.05 194.4,628.94 194.95,629.73 195.5,625.84 196.05,623.87 196.6,630.89 197.15,636.15 197.7,638.53 198.25,645.56 198.8,649.13 199.35,648.99 199.9,651.87 200.45,654.63 201,655.36 201.55,659.11 202.1,660.73 202.65,662.2 203.2,666.11 203.75,669.05 204.3,669.24 204.85,672.73 205.4,675.7 205.95,676.87 206.5,681.18 207.05,682.86 207.6,684.16 208.15,686.84 208.7,687.15 209.25,686.97 209.8,687.84 210.35,687.92 210.9,688.25 211.45,688.89" fill="none" stroke="#8484cc" stroke-width="0.7" stroke-opacity="0.75" stroke-linejoin="round"/>
<polyline points="168,687.66 168.55,687.33 169.1,687.41 169.65,687.22 170.2,686.53 170.75,686.12 171.3,684.91 171.85,686.21 172.4,685.94 172.95,683.88 173.5,686.09 174.05,683.48 174.6,684.5 175.15,684.28 175.7,683.82 176.25,683.54 176.8,683.35 177.35,684.41 177.9,682.86 178.45,681.09 179,681.41 179.55,682.41 180.1,680.24 180.65,679.89 181.2,679.43 181.75,677.96 182.3,678.61 182.85,678.99 183.4,677.22 183.95,675.35 184.5,675.02 185.05,675.43 185.6,674.17 186.15,672.97 186.7,670.77 187.25,671.79 187.8,670.85 188.35,667.61 188.9,667.5 189.45,669.03 190,667.31 190.55,666.29 191.1,665.69 191.65,665.26 192.2,665.23 192.75,665.43 193.3,664.09 193.85,663.5 194.4,664.08 194.95,666.29 195.5,666.33 196.05,665.36 196.6,666.95 197.15,668.91 197.7,669.2 198.25,670.65 198.8,669.39 199.35,670.96 199.9,670.89 200.45,674.65 201,674.51 201.55,676.64 202.1,676.46 202.65,678.92 203.2,678.22 203.75,680.09 204.3,681.52 204.85,683.11 205.4,684.21 205.95,683.14 206.5,685.94 207.05,685.95 207.6,686.34 208.15,687.71 208.7,688.14 209.25,688.19 209.8,688.37 210.35,688.64 210.9,688.85 211.45,689.05" fill="none" stroke="#8484cc" stroke-width="0.6" stroke-opacity="0.5249999999999999" stroke-linejoin="round"/>
<polyline points="129.25,689.6 129.7,641.4 130.15,689.6" fill="none" stroke="#e49aa6" stroke-width="0.85" stroke-opacity="0.8" stroke-linejoin="round"/>
<polyline points="143.05,689.6 143.5,641.4 143.95,689.6" fill="none" stroke="#e49aa6" stroke-width="0.85" stroke-opacity="0.8" stroke-linejoin="round"/>
<polyline points="155.75,689.6 156.2,641.4 156.65,689.6" fill="none" stroke="#e49aa6" stroke-width="0.85" stroke-opacity="0.8" stroke-linejoin="round"/>
<polyline points="206.25,689.6 206.7,640.4 207.15,689.6" fill="none" stroke="#e49aa6" stroke-width="0.85" stroke-opacity="0.8" stroke-linejoin="round"/>
<polyline points="264.75,689.6 265.2,641.4 265.65,689.6" fill="none" stroke="#e49aa6" stroke-width="0.85" stroke-opacity="0.8" stroke-linejoin="round"/>
<g transform="translate(0,0.9)">
<polyline points="339,690.1 509,690.1" fill="none" stroke="#c8a070" stroke-width="0.9" stroke-opacity="0.8" stroke-linejoin="round"/>
<polygon points="340,689.3 340.5,686.53 341.29,686.93 342.52,685.74 343.42,687.1 343.94,684.61 344.95,685.17 345.74,683.49 346.59,685.88 347.19,683.11 347.74,685.08 349.02,681.64 350.16,683.86 351.29,680.97 352,683.51 353.1,677.31 353.63,680.03 354.27,675.92 355.45,679.32 356.69,674.97 357.19,680.32 358.09,676.72 358.92,680.88 359.47,671.44 360.03,679.21 361.28,676.13 361.74,679.32 362.68,676.73 363.2,680.04 364.48,672.19 365.29,677.68 365.83,668.39 366.43,675.64 367.74,674.64 368.69,681.67 369.28,677.97 370.62,684.46 371.18,679.97 372.49,684 373.49,683.2 374.27,685.77 375.25,683.42 375.78,685.73 377,683.87 377.86,685.74 379.2,683.57 379.66,686.23 380.41,683.68 381.05,685.77 381.79,684.28 382.81,685.37 383.97,684.77 385.12,686.85 386.02,685.02 386.69,687.26 387.52,686.13 388.84,687.66 389.63,686.71 390.41,688.03 391.01,686.89 391.69,687.61 393.02,687.38 394.32,688.54 395.32,687.7 395.83,688.21 396.63,687.63 397.95,688.56 398.52,687.84 399.1,688.42 400.05,687.92 400.55,688.84 401.64,688.03 402.43,689.27 403.03,688.16 404.18,689.3 405.07,688.55 405.57,689.3 406.17,688.45 406.7,689.3 407.35,688.77 407.96,689.3 408.91,688.77 409.52,689.3 410.82,688.81 412.12,689.27 413.46,688.7 414.4,689.3 415.33,688.7 415.84,689.3 416.78,688.93 417.88,689.3 418.43,688.79 419.28,689.3 420.31,689.03 421.3,689.3 422.54,688.98 423.73,689.3 424.74,688.76 425.23,689.3 426.23,688.84 427.04,689.3 427.66,688.87 428.28,689.3 429.05,688.93 429.98,689.3 431.13,688.99 432.28,689.3 433.59,688.91 434.92,689.3 436.12,689.1 436.88,689.3 438.03,689.07 438.68,689.3 439.24,688.81 440.57,689.3 441.69,688.99 442.61,689.3 443.63,689.09 444.31,689.3 444.94,689.02 446.24,689.3 446.78,688.9 447.28,689.3 448.5,688.98 449.15,689.3 449.84,689.1 451.01,689.3 452.17,688.89 453.46,689.3 454.74,688.88 455.27,689.3 455.94,689.02 456.84,689.3 458.04,689.1 458.68,689.3 459.54,689.03 460.51,689.3 461.12,689.12 461.87,689.3 462.81,689.2 463.9,689.3 464.47,689.05 465.22,689.3 466.22,689.01 467.46,689.3 468.1,689.1 468.86,689.3 469.8,689.14 471.03,689.3 472.23,689.13 472.77,689.3 473.48,689.13 473.99,689.3 475.27,689.3 475.86,689.3 476.39,689.04 477.74,689.3 478.55,689.03 479.45,689.3 480.52,689.23 481.21,689.3 482.01,689.3 483.01,689.3 483.98,689.3 485.04,689.3 485.92,689.08 486.98,689.3 488.11,689.3 488.69,689.3 489.75,689.3 490.5,689.3 491.26,689.2 492.2,689.3 492.68,689.3 493.83,689.3 494.37,689.3 495.01,689.3 496.27,689.3 496.9,689.3 497.73,689.14 499.08,689.3 500.17,689.28 500.68,689.3 501.49,689.3 502.51,689.3 503.46,689.15 504.77,689.3 505.54,689.17 506.68,689.3 507.3,689.3 508,689.3 508,689.6 507.3,689.6 506.68,689.6 505.54,689.6 504.77,689.6 503.46,689.6 502.51,689.6 501.49,689.6 500.68,689.6 500.17,689.6 499.08,689.6 497.73,689.6 496.9,689.6 496.27,689.6 495.01,689.6 494.37,689.6 493.83,689.6 492.68,689.6 492.2,689.6 491.26,689.6 490.5,689.6 489.75,689.6 488.69,689.6 488.11,689.6 486.98,689.6 485.92,689.6 485.04,689.6 483.98,689.6 483.01,689.6 482.01,689.6 481.21,689.6 480.52,689.6 479.45,689.6 478.55,689.6 477.74,689.6 476.39,689.6 475.86,689.6 475.27,689.6 473.99,689.6 473.48,689.6 472.77,689.6 472.23,689.6 471.03,689.6 469.8,689.6 468.86,689.6 468.1,689.6 467.46,689.6 466.22,689.6 465.22,689.6 464.47,689.6 463.9,689.6 462.81,689.6 461.87,689.6 461.12,689.6 460.51,689.6 459.54,689.6 458.68,689.6 458.04,689.6 456.84,689.6 455.94,689.6 455.27,689.6 454.74,689.6 453.46,689.6 452.17,689.6 451.01,689.6 449.84,689.6 449.15,689.6 448.5,689.6 447.28,689.6 446.78,689.6 446.24,689.6 444.94,689.6 444.31,689.6 443.63,689.6 442.61,689.6 441.69,689.6 440.57,689.6 439.24,689.6 438.68,689.6 438.03,689.6 436.88,689.6 436.12,689.6 434.92,689.6 433.59,689.6 432.28,689.6 431.13,689.6 429.98,689.6 429.05,689.6 428.28,689.6 427.66,689.6 427.04,689.6 426.23,689.6 425.23,689.6 424.74,689.6 423.73,689.6 422.54,689.6 421.3,689.6 420.31,689.6 419.28,689.6 418.43,689.6 417.88,689.6 416.78,689.6 415.84,689.6 415.33,689.6 414.4,689.6 413.46,689.6 412.12,689.6 410.82,689.6 409.52,689.6 408.91,689.6 407.96,689.6 407.35,689.6 406.7,689.6 406.17,689.6 405.57,689.6 405.07,689.6 404.18,689.6 403.03,689.6 402.43,689.6 401.64,689.6 400.55,689.6 400.05,689.6 399.1,689.6 398.52,689.6 397.95,689.6 396.63,689.6 395.83,689.6 395.32,689.6 394.32,689.6 393.02,689.6 391.69,689.6 391.01,689.6 390.41,689.6 389.63,689.6 388.84,689.6 387.52,689.6 386.69,689.6 386.02,689.6 385.12,689.6 383.97,689.6 382.81,689.6 381.79,689.6 381.05,689.6 380.41,689.6 379.66,689.6 379.2,689.6 377.86,689.6 377,689.6 375.78,689.6 375.25,689.6 374.27,689.6 373.49,689.6 372.49,688.83 371.18,687.38 370.62,686.76 369.28,684.87 368.69,683.99 367.74,681.17 366.43,675.92 365.83,676.53 365.29,677.8 364.48,679.73 363.2,682.21 362.68,683.17 361.74,683.88 361.28,682.97 360.03,680.46 359.47,679.48 358.92,680.95 358.09,683.17 357.19,683.3 356.69,683.24 355.45,683.08 354.27,682.93 353.63,683.57 353.1,684.52 352,686.51 351.29,687.52 350.16,688.13 349.02,688.75 347.74,689.45 347.19,689.6 346.59,689.6 345.74,689.6 344.95,689.6 343.94,689.6 343.42,689.6 342.52,689.6 341.29,689.6 340.5,689.6 340,689.6" fill="#b6b6e4" fill-opacity="0.5" stroke="none" stroke-width="0"/>
<polyline points="340,689.3 340.5,686.53 341.29,686.93 342.52,685.74 343.42,687.1 343.94,684.61 344.95,685.17 345.74,683.49 346.59,685.88 347.19,683.11 347.74,685.08 349.02,681.64 350.16,683.86 351.29,680.97 352,683.51 353.1,677.31 353.63,680.03 354.27,675.92 355.45,679.32 356.69,674.97 357.19,680.32 358.09,676.72 358.92,680.88 359.47,671.44 360.03,679.21 361.28,676.13 361.74,679.32 362.68,676.73 363.2,680.04 364.48,672.19 365.29,677.68 365.83,668.39 366.43,675.64 367.74,674.64 368.69,681.67 369.28,677.97 370.62,684.46 371.18,679.97 372.49,684 373.49,683.2 374.27,685.77 375.25,683.42 375.78,685.73 377,683.87 377.86,685.74 379.2,683.57 379.66,686.23 380.41,683.68 381.05,685.77 381.79,684.28 382.81,685.37 383.97,684.77 385.12,686.85 386.02,685.02 386.69,687.26 387.52,686.13 388.84,687.66 389.63,686.71 390.41,688.03 391.01,686.89 391.69,687.61 393.02,687.38 394.32,688.54 395.32,687.7 395.83,688.21 396.63,687.63 397.95,688.56 398.52,687.84 399.1,688.42 400.05,687.92 400.55,688.84 401.64,688.03 402.43,689.27 403.03,688.16 404.18,689.3 405.07,688.55 405.57,689.3 406.17,688.45 406.7,689.3 407.35,688.77 407.96,689.3 408.91,688.77 409.52,689.3 410.82,688.81 412.12,689.27 413.46,688.7 414.4,689.3 415.33,688.7 415.84,689.3 416.78,688.93 417.88,689.3 418.43,688.79 419.28,689.3 420.31,689.03 421.3,689.3 422.54,688.98 423.73,689.3 424.74,688.76 425.23,689.3 426.23,688.84 427.04,689.3 427.66,688.87 428.28,689.3 429.05,688.93 429.98,689.3 431.13,688.99 432.28,689.3 433.59,688.91 434.92,689.3 436.12,689.1 436.88,689.3 438.03,689.07 438.68,689.3 439.24,688.81 440.57,689.3 441.69,688.99 442.61,689.3 443.63,689.09 444.31,689.3 444.94,689.02 446.24,689.3 446.78,688.9 447.28,689.3 448.5,688.98 449.15,689.3 449.84,689.1 451.01,689.3 452.17,688.89 453.46,689.3 454.74,688.88 455.27,689.3 455.94,689.02 456.84,689.3 458.04,689.1 458.68,689.3 459.54,689.03 460.51,689.3 461.12,689.12 461.87,689.3 462.81,689.2 463.9,689.3 464.47,689.05 465.22,689.3 466.22,689.01 467.46,689.3 468.1,689.1 468.86,689.3 469.8,689.14 471.03,689.3 472.23,689.13 472.77,689.3 473.48,689.13 473.99,689.3 475.27,689.3 475.86,689.3 476.39,689.04 477.74,689.3 478.55,689.03 479.45,689.3 480.52,689.23 481.21,689.3 482.01,689.3 483.01,689.3 483.98,689.3 485.04,689.3 485.92,689.08 486.98,689.3 488.11,689.3 488.69,689.3 489.75,689.3 490.5,689.3 491.26,689.2 492.2,689.3 492.68,689.3 493.83,689.3 494.37,689.3 495.01,689.3 496.27,689.3 496.9,689.3 497.73,689.14 499.08,689.3 500.17,689.28 500.68,689.3 501.49,689.3 502.51,689.3 503.46,689.15 504.77,689.3 505.54,689.17 506.68,689.3 507.3,689.3 508,689.3" fill="none" stroke="#8484cc" stroke-width="0.8" stroke-opacity="0.8" stroke-linejoin="round"/>
<polyline points="391.4,689 392.2,674.9 393,689" fill="none" stroke="#5cb45c" stroke-width="0.8" stroke-opacity="0.8" stroke-linejoin="round"/>
<polygon points="398,689.02 398.55,688.87 399.1,688.7 399.65,688.22 400.2,688.18 400.75,687.81 401.3,687.35 401.85,687.58 402.4,687.05 402.95,686.36 403.5,686.73 404.05,686.03 404.6,685.49 405.15,685.85 405.7,684.75 406.25,684.05 406.8,684.13 407.35,683.57 407.9,682.26 408.45,682.95 409,681.85 409.55,680.63 410.1,681.29 410.65,680.63 411.2,678.08 411.75,678.59 412.3,676.96 412.85,673.07 413.4,671.65 413.95,671.09 414.5,665.75 415.05,664.08 415.6,659.47 416.15,653.77 416.7,650.26 417.25,644.84 417.8,636.59 418.35,632.29 418.9,637.1 419.45,639.67 420,646.12 420.55,650.59 421.1,646.54 421.65,647.75 422.2,655.21 422.75,659.79 423.3,664.54 423.85,668.23 424.4,668.89 424.95,672.63 425.5,674.77 426.05,675.13 426.6,677.51 427.15,679 427.7,679.85 428.25,682.43 428.8,683.55 429.35,683.64 429.9,685.79 430.45,686.42 431,686.52 431.55,687.64 432.1,688.19 432.65,688.31 433.2,688.65 433.75,688.84 434.3,689.01 434.85,689.27 434.85,689.38 434.3,689.17 433.75,688.96 433.2,688.74 432.65,688.6 432.1,688.38 431.55,688.04 431,687.94 430.45,687.17 429.9,687.24 429.35,686.19 428.8,686.46 428.25,686.1 427.7,685.44 427.15,684.83 426.6,685.32 426.05,683.44 425.5,684.39 424.95,681.04 424.4,682.9 423.85,680.98 423.3,679.87 422.75,678.28 422.2,678.01 421.65,675.17 421.1,673.69 420.55,672.01 420,671.67 419.45,670.31 418.9,669.51 418.35,667.85 417.8,670.09 417.25,671.36 416.7,671.74 416.15,675.12 415.6,676.44 415.05,676.05 414.5,678.26 413.95,678.8 413.4,678.78 412.85,681.86 412.3,682.39 411.75,682.37 411.2,683.48 410.65,683.3 410.1,683.44 409.55,685.21 409,685.24 408.45,684.64 407.9,686.17 407.35,685.83 406.8,685.75 406.25,686.88 405.7,687.43 405.15,687.86 404.6,687.11 404.05,687.48 403.5,687.73 402.95,688.04 402.4,688.29 401.85,688.23 401.3,688.66 400.75,688.38 400.2,688.78 399.65,688.95 399.1,688.91 398.55,689.16 398,689.25" fill="#b6e0b6" fill-opacity="0.75" stroke="none" stroke-width="0"/>
<polyline points="398,689.06 398.55,689.09 399.1,688.75 399.65,688.9 400.2,688.28 400.75,688.36 401.3,687.55 401.85,688.08 402.4,687.11 402.95,687.89 403.5,686.75 404.05,687.41 404.6,685.57 405.15,687.81 405.7,685.42 406.25,686.25 406.8,684.32 407.35,685.41 407.9,682.94 408.45,684.42 409,682.21 409.55,684.45 410.1,681.59 410.65,683.12 411.2,678.57 411.75,681.77 412.3,677.81 412.85,681.4 413.4,672.74 413.95,677.11 414.5,668.47 415.05,674.1 415.6,659.77 416.15,672.86 416.7,650.74 417.25,670.99 417.8,638.73 418.35,663.78 418.9,643.25 419.45,665.49 420,647.93 420.55,668.29 421.1,649.98 421.65,671.69 422.2,656.72 422.75,676.24 423.3,665.85 423.85,678.67 424.4,670.58 424.95,680.1 425.5,675.92 426.05,682.45 426.6,678.85 427.15,683.79 427.7,680.97 428.25,685.73 428.8,684.13 429.35,685.58 429.9,686.15 430.45,687.04 431,686.54 431.55,687.96 432.1,688.23 432.65,688.6 433.2,688.66 433.75,688.95 434.3,689.04 434.85,689.36" fill="none" stroke="#5cb45c" stroke-width="0.6" stroke-opacity="0.3" stroke-linejoin="round"/>
<polyline points="398,689.02 398.55,688.87 399.1,688.7 399.65,688.22 400.2,688.18 400.75,687.81 401.3,687.35 401.85,687.58 402.4,687.05 402.95,686.36 403.5,686.73 404.05,686.03 404.6,685.49 405.15,685.85 405.7,684.75 406.25,684.05 406.8,684.13 407.35,683.57 407.9,682.26 408.45,682.95 409,681.85 409.55,680.63 410.1,681.29 410.65,680.63 411.2,678.08 411.75,678.59 412.3,676.96 412.85,673.07 413.4,671.65 413.95,671.09 414.5,665.75 415.05,664.08 415.6,659.47 416.15,653.77 416.7,650.26 417.25,644.84 417.8,636.59 418.35,632.29 418.9,637.1 419.45,639.67 420,646.12 420.55,650.59 421.1,646.54 421.65,647.75 422.2,655.21 422.75,659.79 423.3,664.54 423.85,668.23 424.4,668.89 424.95,672.63 425.5,674.77 426.05,675.13 426.6,677.51 427.15,679 427.7,679.85 428.25,682.43 428.8,683.55 429.35,683.64 429.9,685.79 430.45,686.42 431,686.52 431.55,687.64 432.1,688.19 432.65,688.31 433.2,688.65 433.75,688.84 434.3,689.01 434.85,689.27" fill="none" stroke="#5cb45c" stroke-width="0.7" stroke-opacity="0.5" stroke-linejoin="round"/>
<polyline points="398,689.25 398.55,689.16 399.1,688.91 399.65,688.95 400.2,688.78 400.75,688.38 401.3,688.66 401.85,688.23 402.4,688.29 402.95,688.04 403.5,687.73 404.05,687.48 404.6,687.11 405.15,687.86 405.7,687.43 406.25,686.88 406.8,685.75 407.35,685.83 407.9,686.17 408.45,684.64 409,685.24 409.55,685.21 410.1,683.44 410.65,683.3 411.2,683.48 411.75,682.37 412.3,682.39 412.85,681.86 413.4,678.78 413.95,678.8 414.5,678.26 415.05,676.05 415.6,676.44 416.15,675.12 416.7,671.74 417.25,671.36 417.8,670.09 418.35,667.85 418.9,669.51 419.45,670.31 420,671.67 420.55,672.01 421.1,673.69 421.65,675.17 422.2,678.01 422.75,678.28 423.3,679.87 423.85,680.98 424.4,682.9 424.95,681.04 425.5,684.39 426.05,683.44 426.6,685.32 427.15,684.83 427.7,685.44 428.25,686.1 428.8,686.46 429.35,686.19 429.9,687.24 430.45,687.17 431,687.94 431.55,688.04 432.1,688.38 432.65,688.6 433.2,688.74 433.75,688.96 434.3,689.17 434.85,689.38" fill="none" stroke="#5cb45c" stroke-width="0.6" stroke-opacity="0.35" stroke-linejoin="round"/>
<polyline points="359.95,689.6 360.4,627.4 360.85,689.6" fill="none" stroke="#e49aa6" stroke-width="0.85" stroke-opacity="0.85" stroke-linejoin="round"/>
<polyline points="373.65,689.6 374.1,627.4 374.55,689.6" fill="none" stroke="#e49aa6" stroke-width="0.85" stroke-opacity="0.85" stroke-linejoin="round"/>
<polyline points="386.75,689.6 387.2,627.4 387.65,689.6" fill="none" stroke="#e49aa6" stroke-width="0.85" stroke-opacity="0.85" stroke-linejoin="round"/>
<polyline points="436.85,689.6 437.3,627.4 437.75,689.6" fill="none" stroke="#e49aa6" stroke-width="0.85" stroke-opacity="0.85" stroke-linejoin="round"/>
<polyline points="495.75,689.6 496.2,627.4 496.65,689.6" fill="none" stroke="#e49aa6" stroke-width="0.85" stroke-opacity="0.85" stroke-linejoin="round"/>
</g>
<polyline points="109,798 278,798" fill="none" stroke="#e0a0a0" stroke-width="0.9" stroke-opacity="0.8" stroke-linejoin="round"/>
<polyline points="109,795.81 109.8,795.74 110.6,795.49 111.4,795.98 112.2,795.98 113,795.61 113.8,795.81 114.6,795.94 115.4,795.89 116.2,795.97 117,796.13 117.8,795.67 118.6,795.41 119.4,795.61 120.2,795.67 121,795.96 121.8,795.87 122.6,796.16 123.4,795.57 124.2,796 125,796.01 125.8,795.32 126.6,795.96 127.4,795.32 128.2,795.68 129,795.54 129.8,795.67 130.6,796.12 131.4,795.59 132.2,796.04 133,795.89 133.8,796.17 134.6,796.24 135.4,795.93 136.2,796.29 137,795.91 137.8,795.45 138.6,795.3 139.4,795.88 140.2,796.19 141,795.95 141.8,796.24 142.6,796.08 143.4,795.68 144.2,795.68 145,796.27 145.8,795.81 146.6,795.88 147.4,795.9 148.2,796.17 149,795.91 149.8,796.2 150.6,795.61 151.4,795.65 152.2,795.67 153,795.89 153.8,795.34 154.6,795.93 155.4,796.1 156.2,795.93 157,795.39 157.8,796.14 158.6,795.54 159.4,795.36 160.2,795.45 161,795.83 161.8,795.85" fill="none" stroke="#8484cc" stroke-width="0.7" stroke-opacity="0.6" stroke-linejoin="round"/>
<polygon points="162,797.2 162,796.9 162.45,796.05 162.98,796.73 163.51,794.99 163.91,796.71 164.32,793.82 165.06,795.57 165.8,784 166.29,796.2 166.78,795.28 167.33,796.41 167.89,795.34 168.38,796.01 168.86,795.73 169.3,796.39 169.73,795.94 170.24,796.72 170.75,795.45 171.14,796.02 171.54,794.01 171.95,795.41 172.35,793.47 172.83,796.63 173.32,793.5 173.86,795.01 174.4,790.4 174.85,796.12 175.3,794.56 175.72,796.75 176.15,794.7 176.48,795.7 176.81,793.5 177.13,794.6 177.45,792.79 178.22,794.98 179,788 179.61,795.48 180.21,791.8 180.59,792.58 180.96,788.16 181.44,795.89 181.92,789.52 182.37,790.77 182.82,784.06 183.21,792.67 183.6,755.8 184.05,789.61 184.5,784.96 185.25,790.39 186,780 186.81,793.82 187.62,785.85 188.11,794.74 188.6,789 189.04,790.17 189.48,787.84 190.01,792.41 190.53,779.51 190.96,793.53 191.4,782.9 191.94,789.25 192.49,773.66 193.09,785.15 193.7,778 194.6,793.72 195.5,746.5 196.3,785.17 197.1,758 197.46,791.38 197.83,767.74 198.21,776.52 198.59,770.43 198.9,793.64 199.2,729.2 199.8,775.56 200.4,753 200.95,783.22 201.5,775.43 201.95,785.52 202.4,766 202.84,786.4 203.29,779.12 203.84,791.55 204.4,775 205.12,790.31 205.85,774.51 206.57,794.22 207.3,769.6 207.89,792.97 208.48,788.33 208.83,791.74 209.18,785.81 209.59,792 210,783.49 210.36,794.27 210.73,789.58 211.32,792.93 211.9,782.3 212.57,794.14 213.24,792.79 213.76,795.42 214.29,794.14 214.75,797.07 215.21,795.37 216,796.9 216,797.2" fill="#b6b6e4" fill-opacity="0.3" stroke="none" stroke-width="0"/>
<polyline points="162,796.9 162.45,796.05 162.98,796.73 163.51,794.99 163.91,796.71 164.32,793.82 165.06,795.57 165.8,784 166.29,796.2 166.78,795.28 167.33,796.41 167.89,795.34 168.38,796.01 168.86,795.73 169.3,796.39 169.73,795.94 170.24,796.72 170.75,795.45 171.14,796.02 171.54,794.01 171.95,795.41 172.35,793.47 172.83,796.63 173.32,793.5 173.86,795.01 174.4,790.4 174.85,796.12 175.3,794.56 175.72,796.75 176.15,794.7 176.48,795.7 176.81,793.5 177.13,794.6 177.45,792.79 178.22,794.98 179,788 179.61,795.48 180.21,791.8 180.59,792.58 180.96,788.16 181.44,795.89 181.92,789.52 182.37,790.77 182.82,784.06 183.21,792.67 183.6,755.8 184.05,789.61 184.5,784.96 185.25,790.39 186,780 186.81,793.82 187.62,785.85 188.11,794.74 188.6,789 189.04,790.17 189.48,787.84 190.01,792.41 190.53,779.51 190.96,793.53 191.4,782.9 191.94,789.25 192.49,773.66 193.09,785.15 193.7,778 194.6,793.72 195.5,746.5 196.3,785.17 197.1,758 197.46,791.38 197.83,767.74 198.21,776.52 198.59,770.43 198.9,793.64 199.2,729.2 199.8,775.56 200.4,753 200.95,783.22 201.5,775.43 201.95,785.52 202.4,766 202.84,786.4 203.29,779.12 203.84,791.55 204.4,775 205.12,790.31 205.85,774.51 206.57,794.22 207.3,769.6 207.89,792.97 208.48,788.33 208.83,791.74 209.18,785.81 209.59,792 210,783.49 210.36,794.27 210.73,789.58 211.32,792.93 211.9,782.3 212.57,794.14 213.24,792.79 213.76,795.42 214.29,794.14 214.75,797.07 215.21,795.37 216,796.9" fill="none" stroke="#8484cc" stroke-width="0.7" stroke-opacity="0.85" stroke-linejoin="round"/>
<polyline points="129.25,797.5 129.7,746.8 130.15,797.5" fill="none" stroke="#e49aa6" stroke-width="0.85" stroke-opacity="0.85" stroke-linejoin="round"/>
<polyline points="143.05,797.5 143.5,741 143.95,797.5" fill="none" stroke="#e49aa6" stroke-width="0.85" stroke-opacity="0.85" stroke-linejoin="round"/>
<polyline points="155.75,797.5 156.2,742 156.65,797.5" fill="none" stroke="#e49aa6" stroke-width="0.85" stroke-opacity="0.85" stroke-linejoin="round"/>
<polyline points="206.25,797.5 206.7,736.1 207.15,797.5" fill="none" stroke="#e49aa6" stroke-width="0.85" stroke-opacity="0.85" stroke-linejoin="round"/>
<polyline points="265.45,797.5 265.9,736 266.35,797.5" fill="none" stroke="#e49aa6" stroke-width="0.85" stroke-opacity="0.85" stroke-linejoin="round"/>
<g transform="translate(0,0.9)">
<polyline points="339,798 509,798" fill="none" stroke="#c8a0a0" stroke-width="0.9" stroke-opacity="0.8" stroke-linejoin="round"/>
<polyline points="339,796 348,795.5 350,793 352,795.5 388,795.5 390,793 392,795.5 395,793.5 398,795.5 400,796" fill="none" stroke="#8484cc" stroke-width="0.7" stroke-opacity="0.6" stroke-linejoin="round"/>
<polygon points="400,796.51 400.55,796.4 401.1,796.08 401.65,795.6 402.2,795.62 402.75,795.17 403.3,794.68 403.85,794.92 404.4,794.84 404.95,793.42 405.5,792.98 406.05,792.7 406.6,790.72 407.15,790.62 407.7,790.88 408.25,789.03 408.8,790 409.35,789.4 409.9,787.67 410.45,789.09 411,787.36 411.55,785.31 412.1,786.99 412.65,786.32 413.2,782.89 413.75,781.9 414.3,782.49 414.85,778.95 415.4,777.65 415.95,777.21 416.5,772.8 417.05,773.82 417.6,770.95 418.15,768.76 418.7,770.17 419.25,768.57 419.8,766.26 420.35,767.6 420.9,769.11 421.45,770.11 422,774.94 422.55,776.84 423.1,778.46 423.65,782.86 424.2,783.11 424.75,782.79 425.3,784.46 425.85,782.72 426.4,782.39 426.95,785.58 427.5,787.68 428.05,787.97 428.6,790.43 429.15,790.9 429.7,790.99 430.25,791.94 430.8,792.87 431.35,792.4 431.9,793.83 432.45,793.97 433,794.01 433.55,794.76 434.1,795.19 434.65,795.47 435.2,796.02 435.75,796.43 435.75,796.67 435.2,796.34 434.65,796.17 434.1,795.73 433.55,795.49 433,795.06 432.45,795.31 431.9,794.68 431.35,794.08 430.8,793.76 430.25,794.28 429.7,793.26 429.15,793.85 428.6,792.24 428.05,792.26 427.5,791.72 426.95,790.64 426.4,790.17 425.85,791.26 425.3,790.05 424.75,789.88 424.2,787.33 423.65,787.61 423.1,787.62 422.55,785.41 422,784.92 421.45,785.79 420.9,784.7 420.35,783.85 419.8,783.4 419.25,784.07 418.7,784.7 418.15,784.87 417.6,784.74 417.05,783.87 416.5,785.8 415.95,786.65 415.4,786.23 414.85,787.59 414.3,788.03 413.75,789.47 413.2,788.26 412.65,790.25 412.1,790.71 411.55,791.99 411,792.05 410.45,791.41 409.9,791.26 409.35,793.31 408.8,792.93 408.25,793.44 407.7,793.37 407.15,794.32 406.6,794.92 406.05,795.36 405.5,795.55 404.95,795.17 404.4,795.22 403.85,795.91 403.3,795.66 402.75,796.05 402.2,796.02 401.65,796.28 401.1,796.42 400.55,796.6 400,796.74" fill="#b6e0b6" fill-opacity="0.75" stroke="none" stroke-width="0"/>
<polyline points="400,796.54 400.55,796.56 401.1,796.14 401.65,796.23 402.2,795.71 402.75,796.01 403.3,794.68 403.85,795.84 404.4,794.88 404.95,795.14 405.5,793.1 406.05,795.11 406.6,791.32 407.15,794.2 407.7,791.1 408.25,792.46 408.8,790.72 409.35,792.67 409.9,788.29 410.45,791.07 411,787.53 411.55,791.93 412.1,787.01 412.65,789.35 413.2,783.83 413.75,787.65 414.3,782.52 414.85,786.21 415.4,778.69 415.95,784.93 416.5,773.84 417.05,781.36 417.6,771.21 418.15,782.67 418.7,772.85 419.25,780.59 419.8,769.42 420.35,780.99 420.9,772.2 421.45,782.2 422,775.82 422.55,783.94 423.1,780.52 423.65,786.57 424.2,783.55 424.75,788.48 425.3,785.66 425.85,790.04 426.4,783.6 426.95,790.15 427.5,788.27 428.05,791.61 428.6,790.47 429.15,793.38 429.7,791.55 430.25,793.77 430.8,793.04 431.35,793.92 431.9,793.99 432.45,795.11 433,794.12 433.55,795.34 434.1,795.2 434.65,796.04 435.2,796.02 435.75,796.64" fill="none" stroke="#5cb45c" stroke-width="0.6" stroke-opacity="0.3" stroke-linejoin="round"/>
<polyline points="400,796.51 400.55,796.4 401.1,796.08 401.65,795.6 402.2,795.62 402.75,795.17 403.3,794.68 403.85,794.92 404.4,794.84 404.95,793.42 405.5,792.98 406.05,792.7 406.6,790.72 407.15,790.62 407.7,790.88 408.25,789.03 408.8,790 409.35,789.4 409.9,787.67 410.45,789.09 411,787.36 411.55,785.31 412.1,786.99 412.65,786.32 413.2,782.89 413.75,781.9 414.3,782.49 414.85,778.95 415.4,777.65 415.95,777.21 416.5,772.8 417.05,773.82 417.6,770.95 418.15,768.76 418.7,770.17 419.25,768.57 419.8,766.26 420.35,767.6 420.9,769.11 421.45,770.11 422,774.94 422.55,776.84 423.1,778.46 423.65,782.86 424.2,783.11 424.75,782.79 425.3,784.46 425.85,782.72 426.4,782.39 426.95,785.58 427.5,787.68 428.05,787.97 428.6,790.43 429.15,790.9 429.7,790.99 430.25,791.94 430.8,792.87 431.35,792.4 431.9,793.83 432.45,793.97 433,794.01 433.55,794.76 434.1,795.19 434.65,795.47 435.2,796.02 435.75,796.43" fill="none" stroke="#5cb45c" stroke-width="0.7" stroke-opacity="0.5" stroke-linejoin="round"/>
<polyline points="400,796.74 400.55,796.6 401.1,796.42 401.65,796.28 402.2,796.02 402.75,796.05 403.3,795.66 403.85,795.91 404.4,795.22 404.95,795.17 405.5,795.55 406.05,795.36 406.6,794.92 407.15,794.32 407.7,793.37 408.25,793.44 408.8,792.93 409.35,793.31 409.9,791.26 410.45,791.41 411,792.05 411.55,791.99 412.1,790.71 412.65,790.25 413.2,788.26 413.75,789.47 414.3,788.03 414.85,787.59 415.4,786.23 415.95,786.65 416.5,785.8 417.05,783.87 417.6,784.74 418.15,784.87 418.7,784.7 419.25,784.07 419.8,783.4 420.35,783.85 420.9,784.7 421.45,785.79 422,784.92 422.55,785.41 423.1,787.62 423.65,787.61 424.2,787.33 424.75,789.88 425.3,790.05 425.85,791.26 426.4,790.17 426.95,790.64 427.5,791.72 428.05,792.26 428.6,792.24 429.15,793.85 429.7,793.26 430.25,794.28 430.8,793.76 431.35,794.08 431.9,794.68 432.45,795.31 433,795.06 433.55,795.49 434.1,795.73 434.65,796.17 435.2,796.34 435.75,796.67" fill="none" stroke="#5cb45c" stroke-width="0.6" stroke-opacity="0.35" stroke-linejoin="round"/>
<polyline points="359.95,797.5 360.4,749.4 360.85,797.5" fill="none" stroke="#e49aa6" stroke-width="0.85" stroke-opacity="0.85" stroke-linejoin="round"/>
<polyline points="373.65,797.5 374.1,740 374.55,797.5" fill="none" stroke="#e49aa6" stroke-width="0.85" stroke-opacity="0.85" stroke-linejoin="round"/>
<polyline points="386.75,797.5 387.2,742 387.65,797.5" fill="none" stroke="#e49aa6" stroke-width="0.85" stroke-opacity="0.85" stroke-linejoin="round"/>
<polyline points="436.85,797.5 437.3,737.7 437.75,797.5" fill="none" stroke="#e49aa6" stroke-width="0.85" stroke-opacity="0.85" stroke-linejoin="round"/>
<polyline points="495.75,797.5 496.2,736.7 496.65,797.5" fill="none" stroke="#e49aa6" stroke-width="0.85" stroke-opacity="0.85" stroke-linejoin="round"/>
</g>
<polyline points="109,905.8 278,905.8" fill="none" stroke="#e0a0a0" stroke-width="0.9" stroke-opacity="0.8" stroke-linejoin="round"/>
<polyline points="109,903.08 109.8,902.78 110.6,903.39 111.4,902.42 112.2,902.58 113,902.4 113.8,903.14 114.6,903.2 115.4,903.35 116.2,903.21 117,903.38 117.8,902.71 118.6,903.03 119.4,902.58 120.2,902.64 121,903.05 121.8,903.23 122.6,903.05 123.4,903.37 124.2,902.75 125,903.21 125.8,903.25 126.6,902.51 127.4,902.96 128.2,902.45 129,902.42 129.8,902.74 130.6,903.15 131.4,903.25 132.2,903.15 133,902.66 133.8,902.89 134.6,903.1 135.4,903.38 136.2,903.05 137,903.01 137.8,903.33 138.6,903.15 139.4,903.1 140.2,902.98 141,902.91 141.8,902.83 142.6,902.55 143.4,903.11 144.2,903.31 145,903.1 145.8,903.18 146.6,902.82 147.4,902.92 148.2,903.08 149,903.31 149.8,902.65 150.6,902.78 151.4,902.78 152.2,902.7 153,902.55 153.8,903.36 154.6,903.21 155.4,902.93 156.2,902.7 157,902.9 157.8,902.89 158.6,903.09 159.4,903.16 160.2,902.53 161,902.42 161.8,902.9 162.6,902.93 163.4,903.27 164.2,902.8 165,903.19 165.8,902.77 166.6,903.12 167.4,902.93 168.2,902.53 169,903.09 169.8,902.87" fill="none" stroke="#8484cc" stroke-width="0.7" stroke-opacity="0.6" stroke-linejoin="round"/>
<polyline points="163,903 164.2,892.6 165.4,903" fill="none" stroke="#8484cc" stroke-width="0.8" stroke-opacity="0.8" stroke-linejoin="round"/>
<polygon points="168,903.04 168.55,903.22 169.1,902.92 169.65,902.72 170.2,902.86 170.75,902.71 171.3,902.41 171.85,902.4 172.4,902.27 172.95,902.1 173.5,902.08 174.05,901.57 174.6,900.34 175.15,900.2 175.7,900.01 176.25,897.87 176.8,897.77 177.35,897.1 177.9,893.57 178.45,892.48 179,891.37 179.55,888.97 180.1,889.3 180.65,889 181.2,886.14 181.75,885.46 182.3,883.54 182.85,878.64 183.4,877.62 183.95,875.61 184.5,869.89 185.05,868.54 185.6,864.97 186.15,867.74 186.7,870.89 187.25,870.44 187.8,868.58 188.35,869.25 188.9,864.48 189.45,859.44 190,857.07 190.55,856.09 191.1,857.08 191.65,855.11 192.2,848.77 192.75,842.58 193.3,842.13 193.85,839.48 194.4,838.26 194.95,841.36 195.5,842.23 196.05,845.33 196.6,852.65 197.15,853.83 197.7,855.18 198.25,858.78 198.8,862.38 199.35,861.97 199.9,865.48 200.45,867.8 201,864.24 201.55,863.33 202.1,862.3 202.65,858.19 203.2,867.61 203.75,876.04 204.3,879.45 204.85,885.08 205.4,887.5 205.95,888.1 206.5,892.52 207.05,892.89 207.6,893.17 208.15,894.73 208.7,896.69 209.25,896.14 209.8,897.5 210.35,897.95 210.9,897.87 211.45,899.78 212,900.15 212.55,900.17 213.1,901.49 213.65,901.97 214.2,902.31 214.75,902.78 215.3,903.17 215.85,903.52 216.4,903.93 216.95,904.05 217.5,904.12 218.05,904.29 218.6,904.31 219.15,904.33 219.7,904.44 220.25,904.48 220.8,904.51 221.35,904.62 221.9,904.66 222.45,904.71 223,904.78 223.55,904.86 224.1,904.89 224.65,904.96 224.65,904.97 224.1,904.93 223.55,904.88 223,904.84 222.45,904.78 221.9,904.76 221.35,904.7 220.8,904.64 220.25,904.63 219.7,904.6 219.15,904.58 218.6,904.51 218.05,904.47 217.5,904.28 216.95,904.06 216.4,903.83 215.85,903.58 215.3,903.31 214.75,903.13 214.2,902.77 213.65,902.56 213.1,902.25 212.55,901.84 212,901.42 211.45,900.74 210.9,900.56 210.35,900.24 209.8,898.89 209.25,898.17 208.7,897.73 208.15,897.16 207.6,896.66 207.05,896.34 206.5,894.97 205.95,892.9 205.4,893.12 204.85,890.59 204.3,890.7 203.75,888.73 203.2,890.04 202.65,887.12 202.1,886.68 201.55,886.99 201,886.11 200.45,883.65 199.9,881.9 199.35,881.21 198.8,882.74 198.25,879.78 197.7,880.13 197.15,879.82 196.6,878.88 196.05,877.82 195.5,879.99 194.95,877.79 194.4,879.66 193.85,882.21 193.3,881.94 192.75,882.89 192.2,881.68 191.65,884.57 191.1,883.1 190.55,883.9 190,884.83 189.45,887.8 188.9,888.21 188.35,888.61 187.8,890.63 187.25,890.31 186.7,891.56 186.15,891.45 185.6,893.05 185.05,893.34 184.5,892.99 183.95,894.53 183.4,895.06 182.85,896.42 182.3,895.54 181.75,896.91 181.2,896.45 180.65,895.98 180.1,899.23 179.55,898.33 179,898.94 178.45,898.19 177.9,900.89 177.35,900.84 176.8,900.88 176.25,900.98 175.7,900.69 175.15,901.78 174.6,901.48 174.05,902.18 173.5,902.3 172.95,902.42 172.4,902.54 171.85,902.67 171.3,902.92 170.75,903.02 170.2,903.18 169.65,903.28 169.1,903.56 168.55,903.79 168,903.77" fill="#b6b6e4" fill-opacity="0.85" stroke="none" stroke-width="0"/>
<polyline points="168,903.17 168.55,903.69 169.1,903.07 169.65,903.2 170.2,902.92 170.75,902.99 171.3,902.5 171.85,902.65 172.4,902.31 172.95,902.39 173.5,902.1 174.05,902.16 174.6,900.41 175.15,901.56 175.7,900.06 176.25,900.94 176.8,898.4 177.35,900.58 177.9,895.28 178.45,897.34 179,892.11 179.55,896.29 180.1,891.53 180.65,895.42 181.2,886.47 181.75,895.08 182.3,886.07 182.85,893.71 183.4,881.04 183.95,892.57 184.5,873.46 185.05,891.71 185.6,867.82 186.15,889.2 186.7,872.88 187.25,888.33 187.8,873.03 188.35,887.79 188.9,865.7 189.45,886 190,863.81 190.55,880.27 191.1,857.42 191.65,878.42 192.2,855.96 192.75,874.61 193.3,845.7 193.85,874.37 194.4,841.42 194.95,876.54 195.5,850.4 196.05,871.06 196.6,854.03 197.15,874.1 197.7,855.33 198.25,878.16 198.8,862.44 199.35,880.39 199.9,866.15 200.45,880.82 201,865.86 201.55,885.87 202.1,863.43 202.65,884.86 203.2,872.45 203.75,886.8 204.3,879.73 204.85,889.64 205.4,888.25 205.95,892.37 206.5,892.84 207.05,895.78 207.6,893.87 208.15,896.85 208.7,896.85 209.25,897.93 209.8,897.72 210.35,900.02 210.9,898.15 211.45,900.62 212,900.38 212.55,901.72 213.1,901.67 213.65,902.49 214.2,902.41 214.75,903.07 215.3,903.21 215.85,903.57 216.4,903.92 216.95,904.06 217.5,904.15 218.05,904.43 218.6,904.35 219.15,904.57 219.7,904.44 220.25,904.62 220.8,904.51 221.35,904.7 221.9,904.66 222.45,904.78 223,904.79 223.55,904.87 224.1,904.9 224.65,904.97" fill="none" stroke="#8484cc" stroke-width="0.6" stroke-opacity="0.3" stroke-linejoin="round"/>
<polyline points="168,903.04 168.55,903.22 169.1,902.92 169.65,902.72 170.2,902.86 170.75,902.71 171.3,902.41 171.85,902.4 172.4,902.27 172.95,902.1 173.5,902.08 174.05,901.57 174.6,900.34 175.15,900.2 175.7,900.01 176.25,897.87 176.8,897.77 177.35,897.1 177.9,893.57 178.45,892.48 179,891.37 179.55,888.97 180.1,889.3 180.65,889 181.2,886.14 181.75,885.46 182.3,883.54 182.85,878.64 183.4,877.62 183.95,875.61 184.5,869.89 185.05,868.54 185.6,864.97 186.15,867.74 186.7,870.89 187.25,870.44 187.8,868.58 188.35,869.25 188.9,864.48 189.45,859.44 190,857.07 190.55,856.09 191.1,857.08 191.65,855.11 192.2,848.77 192.75,842.58 193.3,842.13 193.85,839.48 194.4,838.26 194.95,841.36 195.5,842.23 196.05,845.33 196.6,852.65 197.15,853.83 197.7,855.18 198.25,858.78 198.8,862.38 199.35,861.97 199.9,865.48 200.45,867.8 201,864.24 201.55,863.33 202.1,862.3 202.65,858.19 203.2,867.61 203.75,876.04 204.3,879.45 204.85,885.08 205.4,887.5 205.95,888.1 206.5,892.52 207.05,892.89 207.6,893.17 208.15,894.73 208.7,896.69 209.25,896.14 209.8,897.5 210.35,897.95 210.9,897.87 211.45,899.78 212,900.15 212.55,900.17 213.1,901.49 213.65,901.97 214.2,902.31 214.75,902.78 215.3,903.17 215.85,903.52 216.4,903.93 216.95,904.05 217.5,904.12 218.05,904.29 218.6,904.31 219.15,904.33 219.7,904.44 220.25,904.48 220.8,904.51 221.35,904.62 221.9,904.66 222.45,904.71 223,904.78 223.55,904.86 224.1,904.89 224.65,904.96" fill="none" stroke="#8484cc" stroke-width="0.7" stroke-opacity="0.75" stroke-linejoin="round"/>
<polyline points="168,903.77 168.55,903.79 169.1,903.56 169.65,903.28 170.2,903.18 170.75,903.02 171.3,902.92 171.85,902.67 172.4,902.54 172.95,902.42 173.5,902.3 174.05,902.18 174.6,901.48 175.15,901.78 175.7,900.69 176.25,900.98 176.8,900.88 177.35,900.84 177.9,900.89 178.45,898.19 179,898.94 179.55,898.33 180.1,899.23 180.65,895.98 181.2,896.45 181.75,896.91 182.3,895.54 182.85,896.42 183.4,895.06 183.95,894.53 184.5,892.99 185.05,893.34 185.6,893.05 186.15,891.45 186.7,891.56 187.25,890.31 187.8,890.63 188.35,888.61 188.9,888.21 189.45,887.8 190,884.83 190.55,883.9 191.1,883.1 191.65,884.57 192.2,881.68 192.75,882.89 193.3,881.94 193.85,882.21 194.4,879.66 194.95,877.79 195.5,879.99 196.05,877.82 196.6,878.88 197.15,879.82 197.7,880.13 198.25,879.78 198.8,882.74 199.35,881.21 199.9,881.9 200.45,883.65 201,886.11 201.55,886.99 202.1,886.68 202.65,887.12 203.2,890.04 203.75,888.73 204.3,890.7 204.85,890.59 205.4,893.12 205.95,892.9 206.5,894.97 207.05,896.34 207.6,896.66 208.15,897.16 208.7,897.73 209.25,898.17 209.8,898.89 210.35,900.24 210.9,900.56 211.45,900.74 212,901.42 212.55,901.84 213.1,902.25 213.65,902.56 214.2,902.77 214.75,903.13 215.3,903.31 215.85,903.58 216.4,903.83 216.95,904.06 217.5,904.28 218.05,904.47 218.6,904.51 219.15,904.58 219.7,904.6 220.25,904.63 220.8,904.64 221.35,904.7 221.9,904.76 222.45,904.78 223,904.84 223.55,904.88 224.1,904.93 224.65,904.97" fill="none" stroke="#8484cc" stroke-width="0.6" stroke-opacity="0.5249999999999999" stroke-linejoin="round"/>
<polyline points="129.25,905.2 129.7,872.5 130.15,905.2" fill="none" stroke="#e49aa6" stroke-width="0.85" stroke-opacity="0.85" stroke-linejoin="round"/>
<polyline points="143.05,905.2 143.5,868.5 143.95,905.2" fill="none" stroke="#e49aa6" stroke-width="0.85" stroke-opacity="0.85" stroke-linejoin="round"/>
<polyline points="155.75,905.2 156.2,868.5 156.65,905.2" fill="none" stroke="#e49aa6" stroke-width="0.85" stroke-opacity="0.85" stroke-linejoin="round"/>
<polyline points="206.25,905.2 206.7,865.8 207.15,905.2" fill="none" stroke="#e49aa6" stroke-width="0.85" stroke-opacity="0.85" stroke-linejoin="round"/>
<polyline points="265.45,905.2 265.9,864.8 266.35,905.2" fill="none" stroke="#e49aa6" stroke-width="0.85" stroke-opacity="0.85" stroke-linejoin="round"/>
<g transform="translate(0,0.9)">
<polyline points="339,905.7 509,905.7" fill="none" stroke="#c8a070" stroke-width="0.9" stroke-opacity="0.8" stroke-linejoin="round"/>
<polygon points="340,904.9 340.5,903.43 341.57,903.86 342.78,903.33 343.44,903.55 344.09,903.16 344.66,903.65 345.3,903.18 346.14,903.68 347.14,903.14 347.84,903.33 349.07,902.9 350.24,903.21 351.37,900.62 352.53,900.51 353.74,899.18 354.87,900.17 355.71,898.67 356.55,899.59 357.1,898.13 358.27,900.05 359.34,897.8 360.47,898.63 361.53,897.42 362.13,898.45 363.06,897.22 363.92,898.74 364.73,896.97 365.62,897.95 366.28,896.74 367.06,897.48 368.09,896.01 368.9,898.4 370.19,896.44 370.76,898.33 371.97,895.69 372.56,897.51 373.79,895.85 374.97,898.15 376.18,897.76 377.28,899.26 378.6,898.79 379.7,900.18 380.71,899.63 381.69,900.96 382.8,900.47 383.51,901.3 384.58,901.11 385.23,901.62 386.26,901.4 387.2,902.04 388.04,901.92 388.58,902.35 389.93,902.6 390.65,903.16 391.63,903.17 392.51,903.69 393.71,903.51 394.46,903.98 395.78,903.68 396.66,904.32 397.38,903.97 398.28,904.6 399.39,904.18 400.46,904.8 401.14,904.2 401.91,904.58 402.62,904.28 403.38,904.47 404.19,904.3 405.32,904.73 405.78,904.19 406.4,904.7 407.35,904.27 408.06,904.69 408.63,904.18 409.18,904.83 409.83,904.29 410.63,904.5 411.19,904.29 412.04,904.86 413.38,904.35 414.31,904.58 415.49,904.31 416.74,904.77 417.3,904.38 417.98,904.88 418.56,904.3 419.35,904.7 420.52,904.36 421.62,904.83 422.91,904.31 424.19,904.76 425.15,904.3 426.36,904.9 426.91,904.4 427.84,904.9 428.77,904.38 430.09,904.73 430.62,904.43 431.09,904.9 431.64,904.32 432.87,904.9 434.05,904.38 435.06,904.9 436.15,904.42 437.29,904.67 438.02,904.3 438.89,904.76 440.05,904.4 440.5,904.63 441.18,904.43 442.48,904.77 443.69,904.35 444.52,904.9 445.65,904.42 446.34,904.87 447.6,904.42 448.22,904.85 449.1,904.49 450.07,904.68 451.26,904.51 451.8,904.9 452.52,904.38 453.42,904.9 454.62,904.51 455.74,904.9 456.58,904.39 457.05,904.9 457.63,904.42 458.22,904.73 459.12,904.41 459.8,904.9 460.8,904.54 461.72,904.71 462.58,904.45 463.33,904.85 463.83,904.47 464.66,904.9 465.78,904.59 467.05,904.9 468.24,904.47 469.3,904.9 470.35,904.52 471.03,904.84 472.14,904.53 472.64,904.9 473.64,904.55 474.79,904.9 475.58,904.5 476.48,904.9 477.3,904.49 478.15,904.9 478.9,904.54 480.18,904.9 480.96,904.66 481.84,904.9 483.03,904.54 484.36,904.9 485.18,904.59 486.31,904.88 486.95,904.68 487.69,904.9 489.02,904.67 490.31,904.9 490.94,904.55 491.47,904.9 492.04,904.71 492.83,904.9 493.43,904.73 494.51,904.9 495.16,904.64 496.41,904.9 497.5,904.63 498.66,904.9 499.25,904.75 500.26,904.9 501.18,904.63 501.79,904.9 502.62,904.7 503.29,904.9 504.26,904.68 505.53,904.9 506.62,904.78 507.66,904.9 508,904.9 508,905.2 507.66,905.2 506.62,905.2 505.53,905.2 504.26,905.2 503.29,905.2 502.62,905.2 501.79,905.2 501.18,905.2 500.26,905.2 499.25,905.2 498.66,905.2 497.5,905.2 496.41,905.2 495.16,905.2 494.51,905.2 493.43,905.2 492.83,905.2 492.04,905.2 491.47,905.2 490.94,905.2 490.31,905.2 489.02,905.2 487.69,905.2 486.95,905.2 486.31,905.2 485.18,905.2 484.36,905.2 483.03,905.2 481.84,905.2 480.96,905.2 480.18,905.2 478.9,905.2 478.15,905.2 477.3,905.2 476.48,905.2 475.58,905.2 474.79,905.2 473.64,905.2 472.64,905.2 472.14,905.2 471.03,905.2 470.35,905.2 469.3,905.2 468.24,905.2 467.05,905.2 465.78,905.2 464.66,905.2 463.83,905.2 463.33,905.2 462.58,905.2 461.72,905.2 460.8,905.2 459.8,905.2 459.12,905.2 458.22,905.2 457.63,905.2 457.05,905.2 456.58,905.2 455.74,905.2 454.62,905.2 453.42,905.2 452.52,905.2 451.8,905.2 451.26,905.2 450.07,905.2 449.1,905.2 448.22,905.2 447.6,905.2 446.34,905.2 445.65,905.2 444.52,905.2 443.69,905.2 442.48,905.2 441.18,905.2 440.5,905.2 440.05,905.2 438.89,905.2 438.02,905.2 437.29,905.2 436.15,905.2 435.06,905.2 434.05,905.2 432.87,905.2 431.64,905.2 431.09,905.2 430.62,905.2 430.09,905.2 428.77,905.2 427.84,905.2 426.91,905.2 426.36,905.2 425.15,905.2 424.19,905.2 422.91,905.2 421.62,905.2 420.52,905.2 419.35,905.2 418.56,905.2 417.98,905.2 417.3,905.2 416.74,905.2 415.49,905.2 414.31,905.2 413.38,905.2 412.04,905.2 411.19,905.2 410.63,905.2 409.83,905.2 409.18,905.2 408.63,905.2 408.06,905.2 407.35,905.2 406.4,905.2 405.78,905.2 405.32,905.2 404.19,905.2 403.38,905.2 402.62,905.2 401.91,905.2 401.14,905.2 400.46,905.2 399.39,905.2 398.28,905.2 397.38,905.2 396.66,905.2 395.78,905.2 394.46,905.2 393.71,905.2 392.51,905.2 391.63,905.2 390.65,905.2 389.93,905.2 388.58,905.2 388.04,905.2 387.2,905.2 386.26,905.16 385.23,904.91 384.58,904.74 383.51,904.44 382.8,904.2 381.69,903.83 380.71,903.49 379.7,903.11 378.6,902.7 377.28,902.2 376.18,901.59 374.97,900.83 373.79,900.1 372.56,899.67 371.97,899.77 370.76,899.97 370.19,900.07 368.9,900.21 368.09,900.29 367.06,900.39 366.28,900.47 365.62,900.54 364.73,900.65 363.92,900.82 363.06,900.99 362.13,901.17 361.53,901.29 360.47,901.51 359.34,901.73 358.27,901.95 357.1,902.18 356.55,902.29 355.71,902.46 354.87,902.64 353.74,903.02 352.53,903.42 351.37,904.55 350.24,905.2 349.07,905.2 347.84,905.2 347.14,905.2 346.14,905.2 345.3,905.2 344.66,905.2 344.09,905.2 343.44,905.2 342.78,905.2 341.57,905.2 340.5,905.2 340,905.2" fill="#b6b6e4" fill-opacity="0.5" stroke="none" stroke-width="0"/>
<polyline points="340,904.9 340.5,903.43 341.57,903.86 342.78,903.33 343.44,903.55 344.09,903.16 344.66,903.65 345.3,903.18 346.14,903.68 347.14,903.14 347.84,903.33 349.07,902.9 350.24,903.21 351.37,900.62 352.53,900.51 353.74,899.18 354.87,900.17 355.71,898.67 356.55,899.59 357.1,898.13 358.27,900.05 359.34,897.8 360.47,898.63 361.53,897.42 362.13,898.45 363.06,897.22 363.92,898.74 364.73,896.97 365.62,897.95 366.28,896.74 367.06,897.48 368.09,896.01 368.9,898.4 370.19,896.44 370.76,898.33 371.97,895.69 372.56,897.51 373.79,895.85 374.97,898.15 376.18,897.76 377.28,899.26 378.6,898.79 379.7,900.18 380.71,899.63 381.69,900.96 382.8,900.47 383.51,901.3 384.58,901.11 385.23,901.62 386.26,901.4 387.2,902.04 388.04,901.92 388.58,902.35 389.93,902.6 390.65,903.16 391.63,903.17 392.51,903.69 393.71,903.51 394.46,903.98 395.78,903.68 396.66,904.32 397.38,903.97 398.28,904.6 399.39,904.18 400.46,904.8 401.14,904.2 401.91,904.58 402.62,904.28 403.38,904.47 404.19,904.3 405.32,904.73 405.78,904.19 406.4,904.7 407.35,904.27 408.06,904.69 408.63,904.18 409.18,904.83 409.83,904.29 410.63,904.5 411.19,904.29 412.04,904.86 413.38,904.35 414.31,904.58 415.49,904.31 416.74,904.77 417.3,904.38 417.98,904.88 418.56,904.3 419.35,904.7 420.52,904.36 421.62,904.83 422.91,904.31 424.19,904.76 425.15,904.3 426.36,904.9 426.91,904.4 427.84,904.9 428.77,904.38 430.09,904.73 430.62,904.43 431.09,904.9 431.64,904.32 432.87,904.9 434.05,904.38 435.06,904.9 436.15,904.42 437.29,904.67 438.02,904.3 438.89,904.76 440.05,904.4 440.5,904.63 441.18,904.43 442.48,904.77 443.69,904.35 444.52,904.9 445.65,904.42 446.34,904.87 447.6,904.42 448.22,904.85 449.1,904.49 450.07,904.68 451.26,904.51 451.8,904.9 452.52,904.38 453.42,904.9 454.62,904.51 455.74,904.9 456.58,904.39 457.05,904.9 457.63,904.42 458.22,904.73 459.12,904.41 459.8,904.9 460.8,904.54 461.72,904.71 462.58,904.45 463.33,904.85 463.83,904.47 464.66,904.9 465.78,904.59 467.05,904.9 468.24,904.47 469.3,904.9 470.35,904.52 471.03,904.84 472.14,904.53 472.64,904.9 473.64,904.55 474.79,904.9 475.58,904.5 476.48,904.9 477.3,904.49 478.15,904.9 478.9,904.54 480.18,904.9 480.96,904.66 481.84,904.9 483.03,904.54 484.36,904.9 485.18,904.59 486.31,904.88 486.95,904.68 487.69,904.9 489.02,904.67 490.31,904.9 490.94,904.55 491.47,904.9 492.04,904.71 492.83,904.9 493.43,904.73 494.51,904.9 495.16,904.64 496.41,904.9 497.5,904.63 498.66,904.9 499.25,904.75 500.26,904.9 501.18,904.63 501.79,904.9 502.62,904.7 503.29,904.9 504.26,904.68 505.53,904.9 506.62,904.78 507.66,904.9 508,904.9" fill="none" stroke="#8484cc" stroke-width="0.8" stroke-opacity="0.8" stroke-linejoin="round"/>
<polygon points="402,904.5 402.55,904.4 403.1,904.01 403.65,903.54 404.2,903.43 404.75,903.18 405.3,902.46 405.85,902.91 406.4,902.18 406.95,901.43 407.5,901.72 408.05,901.03 408.6,900.09 409.15,900.21 409.7,900.93 410.25,899.04 410.8,899.43 411.35,898.95 411.9,896.75 412.45,896.85 413,897.55 413.55,894.38 414.1,894.89 414.65,894.75 415.2,892.56 415.75,892.82 416.3,893.15 416.85,890.47 417.4,891.51 417.95,891.07 418.5,888.79 419.05,890.13 419.6,889.64 420.15,888.03 420.7,888.32 421.25,889.43 421.8,887.13 422.35,890.61 422.9,889.97 423.45,889.51 424,891.33 424.55,892.9 425.1,891.71 425.65,893.41 426.2,896.3 426.75,894.42 427.3,896.65 427.85,896.86 428.4,897.08 428.95,899.58 429.5,899.42 430.05,899.65 430.6,901.09 431.15,901.51 431.7,901.73 432.25,902.53 432.8,902.83 433.35,903.02 433.9,903.62 434.45,903.98 435,904.11 435.55,904.58 435.55,904.77 435,904.42 434.45,904.2 433.9,904.02 433.35,903.69 432.8,903.48 432.25,903.03 431.7,902.74 431.15,902.49 430.6,902.36 430.05,902.14 429.5,901.46 428.95,901.6 428.4,901.32 427.85,901.15 427.3,900.62 426.75,898.7 426.2,899.11 425.65,899.46 425.1,898.9 424.55,898.37 424,898.93 423.45,898.5 422.9,897.38 422.35,897.61 421.8,896.56 421.25,896.75 420.7,897.83 420.15,895.24 419.6,897.45 419.05,898.1 418.5,897.29 417.95,897.45 417.4,896.98 416.85,898.98 416.3,899.14 415.75,899.62 415.2,899.67 414.65,899.94 414.1,898.58 413.55,899.82 413,900.09 412.45,901.34 411.9,900.66 411.35,902 410.8,901.12 410.25,902.21 409.7,902.53 409.15,902.96 408.6,902.96 408.05,902.8 407.5,902.99 406.95,903.63 406.4,903.28 405.85,903.79 405.3,904.04 404.75,903.9 404.2,904.13 403.65,904.33 403.1,904.64 402.55,904.63 402,904.88" fill="#b6e0b6" fill-opacity="0.75" stroke="none" stroke-width="0"/>
<polyline points="402,904.53 402.55,904.62 403.1,904.05 403.65,904.19 404.2,903.46 404.75,903.85 405.3,902.63 405.85,903.67 406.4,902.28 406.95,903.2 407.5,901.8 408.05,902.63 408.6,900.39 409.15,902.87 409.7,901.02 410.25,902.09 410.8,899.74 411.35,901.88 411.9,897.41 412.45,901.09 413,897.96 413.55,898.93 414.1,895.22 414.65,898.73 415.2,893.73 415.75,898.67 416.3,893.22 416.85,898.12 417.4,891.87 417.95,896.7 418.5,890.77 419.05,896.37 419.6,889.76 420.15,894.01 420.7,890.54 421.25,895.76 421.8,887.36 422.35,896.09 422.9,890.76 423.45,896.3 424,893 424.55,897.23 425.1,893.39 425.65,899.36 426.2,896.86 426.75,898.38 427.3,896.78 427.85,900.75 428.4,897.71 428.95,901.6 429.5,899.65 430.05,901.65 430.6,901.25 431.15,902.36 431.7,901.81 432.25,902.91 432.8,902.87 433.35,903.58 433.9,903.69 434.45,904.2 435,904.19 435.55,904.76" fill="none" stroke="#5cb45c" stroke-width="0.6" stroke-opacity="0.3" stroke-linejoin="round"/>
<polyline points="402,904.5 402.55,904.4 403.1,904.01 403.65,903.54 404.2,903.43 404.75,903.18 405.3,902.46 405.85,902.91 406.4,902.18 406.95,901.43 407.5,901.72 408.05,901.03 408.6,900.09 409.15,900.21 409.7,900.93 410.25,899.04 410.8,899.43 411.35,898.95 411.9,896.75 412.45,896.85 413,897.55 413.55,894.38 414.1,894.89 414.65,894.75 415.2,892.56 415.75,892.82 416.3,893.15 416.85,890.47 417.4,891.51 417.95,891.07 418.5,888.79 419.05,890.13 419.6,889.64 420.15,888.03 420.7,888.32 421.25,889.43 421.8,887.13 422.35,890.61 422.9,889.97 423.45,889.51 424,891.33 424.55,892.9 425.1,891.71 425.65,893.41 426.2,896.3 426.75,894.42 427.3,896.65 427.85,896.86 428.4,897.08 428.95,899.58 429.5,899.42 430.05,899.65 430.6,901.09 431.15,901.51 431.7,901.73 432.25,902.53 432.8,902.83 433.35,903.02 433.9,903.62 434.45,903.98 435,904.11 435.55,904.58" fill="none" stroke="#5cb45c" stroke-width="0.7" stroke-opacity="0.5" stroke-linejoin="round"/>
<polyline points="402,904.88 402.55,904.63 403.1,904.64 403.65,904.33 404.2,904.13 404.75,903.9 405.3,904.04 405.85,903.79 406.4,903.28 406.95,903.63 407.5,902.99 408.05,902.8 408.6,902.96 409.15,902.96 409.7,902.53 410.25,902.21 410.8,901.12 411.35,902 411.9,900.66 412.45,901.34 413,900.09 413.55,899.82 414.1,898.58 414.65,899.94 415.2,899.67 415.75,899.62 416.3,899.14 416.85,898.98 417.4,896.98 417.95,897.45 418.5,897.29 419.05,898.1 419.6,897.45 420.15,895.24 420.7,897.83 421.25,896.75 421.8,896.56 422.35,897.61 422.9,897.38 423.45,898.5 424,898.93 424.55,898.37 425.1,898.9 425.65,899.46 426.2,899.11 426.75,898.7 427.3,900.62 427.85,901.15 428.4,901.32 428.95,901.6 429.5,901.46 430.05,902.14 430.6,902.36 431.15,902.49 431.7,902.74 432.25,903.03 432.8,903.48 433.35,903.69 433.9,904.02 434.45,904.2 435,904.42 435.55,904.77" fill="none" stroke="#5cb45c" stroke-width="0.6" stroke-opacity="0.35" stroke-linejoin="round"/>
<polyline points="359.95,905.2 360.4,862.5 360.85,905.2" fill="none" stroke="#e49aa6" stroke-width="0.85" stroke-opacity="0.85" stroke-linejoin="round"/>
<polyline points="373.65,905.2 374.1,848 374.55,905.2" fill="none" stroke="#e49aa6" stroke-width="0.85" stroke-opacity="0.85" stroke-linejoin="round"/>
<polyline points="386.75,905.2 387.2,852.4 387.65,905.2" fill="none" stroke="#e49aa6" stroke-width="0.85" stroke-opacity="0.85" stroke-linejoin="round"/>
<polyline points="436.85,905.2 437.3,847.4 437.75,905.2" fill="none" stroke="#e49aa6" stroke-width="0.85" stroke-opacity="0.85" stroke-linejoin="round"/>
<polyline points="495.75,905.2 496.2,845.7 496.65,905.2" fill="none" stroke="#e49aa6" stroke-width="0.85" stroke-opacity="0.85" stroke-linejoin="round"/>
</g>
<polyline points="109,1013.2 278,1013.2" fill="none" stroke="#e0a0a0" stroke-width="0.9" stroke-opacity="0.8" stroke-linejoin="round"/>
<polyline points="109,1010.29 109.8,1010.35 110.6,1010.24 111.4,1010.42 112.2,1009.97 113,1010.64 113.8,1010.35 114.6,1010.04 115.4,1010.19 116.2,1009.89 117,1010.51 117.8,1010.44 118.6,1010.5 119.4,1010.67 120.2,1010.72 121,1010.29 121.8,1010.5 122.6,1010.22 123.4,1009.84 124.2,1009.81 125,1010.02 125.8,1010.47 126.6,1010.42 127.4,1009.9 128.2,1010.57 129,1009.98 129.8,1010.55 130.6,1010.35 131.4,1010.24 132.2,1009.84 133,1010.07 133.8,1009.96 134.6,1010.45 135.4,1010.45 136.2,1009.93 137,1010.21 137.8,1010.08 138.6,1010.7 139.4,1010.74 140.2,1010.37 141,1010.49 141.8,1010.53 142.6,1009.98 143.4,1009.88 144.2,1010.58 145,1010.7 145.8,1010.61 146.6,1010.62 147.4,1010.08 148.2,1010.42 149,1009.82 149.8,1010.78" fill="none" stroke="#8484cc" stroke-width="0.7" stroke-opacity="0.6" stroke-linejoin="round"/>
<polyline points="148,1012 151,1009 153,1004 155,1001.5 156.5,1003.5 158,1009 160,1011.5 161.5,1006 162.5,1011.5 166,1012.5 172,1012.3" fill="none" stroke="#8484cc" stroke-width="0.8" stroke-opacity="0.85" stroke-linejoin="round"/>
<polygon points="172,1012.3 172,1012 172.46,1010.38 172.92,1010.73 173.39,1006.44 174.07,1010.77 174.75,978 175.52,1011.44 176.3,1002.99 176.65,1008.3 177,1000 177.44,1010.77 177.88,1007.04 178.44,1008.98 179,1006 179.5,1010.56 180,1002 181,1010.89 182,1002 182.57,1008.67 183.13,1002.18 183.51,1010.6 183.9,1000.95 184.32,1010.81 184.75,981 185.5,998.7 186.25,985 186.88,1002.88 187.5,957.5 188,1001.2 188.5,944.4 189.12,989.58 189.75,966 190.5,1004.28 191.25,945.6 191.88,991.43 192.5,960 193.25,1005.08 194,1000 194.49,1000 194.98,990.73 195.62,996.47 196.25,961.9 196.88,1008.58 197.5,973.75 198.45,1005.62 199.4,991 199.93,1001.14 200.46,998.54 200.98,1005.71 201.5,985 201.98,1007.19 202.45,1000.81 202.78,1010.86 203.1,997.18 203.42,1010.2 203.75,1000 204.68,1003.67 205.6,992.5 206.3,1005.16 206.99,1003.24 207.45,1008.93 207.9,1004.38 208.33,1008.48 208.75,997.5 209.25,1011.28 209.75,1005.16 210.29,1010.18 210.82,1010.18 211.2,1011.59 211.59,1010.78 212.05,1011.76 212.51,1011.47 213.09,1012.23 213.68,1012.23 214,1012 214,1012.3" fill="#b6b6e4" fill-opacity="0.3" stroke="none" stroke-width="0"/>
<polyline points="172,1012 172.46,1010.38 172.92,1010.73 173.39,1006.44 174.07,1010.77 174.75,978 175.52,1011.44 176.3,1002.99 176.65,1008.3 177,1000 177.44,1010.77 177.88,1007.04 178.44,1008.98 179,1006 179.5,1010.56 180,1002 181,1010.89 182,1002 182.57,1008.67 183.13,1002.18 183.51,1010.6 183.9,1000.95 184.32,1010.81 184.75,981 185.5,998.7 186.25,985 186.88,1002.88 187.5,957.5 188,1001.2 188.5,944.4 189.12,989.58 189.75,966 190.5,1004.28 191.25,945.6 191.88,991.43 192.5,960 193.25,1005.08 194,1000 194.49,1000 194.98,990.73 195.62,996.47 196.25,961.9 196.88,1008.58 197.5,973.75 198.45,1005.62 199.4,991 199.93,1001.14 200.46,998.54 200.98,1005.71 201.5,985 201.98,1007.19 202.45,1000.81 202.78,1010.86 203.1,997.18 203.42,1010.2 203.75,1000 204.68,1003.67 205.6,992.5 206.3,1005.16 206.99,1003.24 207.45,1008.93 207.9,1004.38 208.33,1008.48 208.75,997.5 209.25,1011.28 209.75,1005.16 210.29,1010.18 210.82,1010.18 211.2,1011.59 211.59,1010.78 212.05,1011.76 212.51,1011.47 213.09,1012.23 213.68,1012.23 214,1012" fill="none" stroke="#8484cc" stroke-width="0.7" stroke-opacity="0.85" stroke-linejoin="round"/>
<polyline points="129.25,1012.6 129.7,965.5 130.15,1012.6" fill="none" stroke="#e49aa6" stroke-width="0.85" stroke-opacity="0.85" stroke-linejoin="round"/>
<polyline points="143.05,1012.6 143.5,963 143.95,1012.6" fill="none" stroke="#e49aa6" stroke-width="0.85" stroke-opacity="0.85" stroke-linejoin="round"/>
<polyline points="155.15,1012.6 155.6,965 156.05,1012.6" fill="none" stroke="#e49aa6" stroke-width="0.85" stroke-opacity="0.85" stroke-linejoin="round"/>
<polyline points="206.05,1012.6 206.5,963 206.95,1012.6" fill="none" stroke="#e49aa6" stroke-width="0.85" stroke-opacity="0.85" stroke-linejoin="round"/>
<polyline points="265.05,1012.6 265.5,961 265.95,1012.6" fill="none" stroke="#e49aa6" stroke-width="0.85" stroke-opacity="0.85" stroke-linejoin="round"/>
<g transform="translate(0,0.9)">
<polyline points="339,1013.1 509,1013.1" fill="none" stroke="#9a8c96" stroke-width="0.9" stroke-opacity="0.9" stroke-linejoin="round"/>
<polyline points="339,1012.5 355,1012 356.3,1005 357.1,998.9 357.9,1011 372,1012 373,1006 374.5,1012 390,1012.5" fill="none" stroke="#8484cc" stroke-width="0.8" stroke-opacity="0.7" stroke-linejoin="round"/>
<polyline points="359.95,1012.6 360.4,968.1 360.85,1012.6" fill="none" stroke="#e49aa6" stroke-width="0.85" stroke-opacity="0.85" stroke-linejoin="round"/>
<polyline points="373.35,1012.6 373.8,966.4 374.25,1012.6" fill="none" stroke="#e49aa6" stroke-width="0.85" stroke-opacity="0.85" stroke-linejoin="round"/>
<polyline points="386.35,1012.6 386.8,968.1 387.25,1012.6" fill="none" stroke="#e49aa6" stroke-width="0.85" stroke-opacity="0.85" stroke-linejoin="round"/>
<polyline points="436.85,1012.6 437.3,960.4 437.75,1012.6" fill="none" stroke="#e49aa6" stroke-width="0.85" stroke-opacity="0.85" stroke-linejoin="round"/>
<polyline points="495.75,1012.6 496.2,958 496.65,1012.6" fill="none" stroke="#e49aa6" stroke-width="0.85" stroke-opacity="0.85" stroke-linejoin="round"/>
<polyline points="399.2,967 399.2,948.7" fill="none" stroke="#c8d8c8" stroke-width="0.6" stroke-opacity="0.6" stroke-linejoin="round"/>
<polyline points="390,1012.8 391.7,1011 392.2,1002.2 392.7,1011 394,1012.5 398.7,1012 399.2,967.1 399.7,1011 401,1009 402,1012.5 418,1012.5 420.6,1011 421.2,1000 421.6,993.9 422,1001 423,1005 424.6,1006 425.2,1000 425.6,950.4 426,1001 427,1006 428.5,1011 431,1012.8" fill="none" stroke="#6cbc6c" stroke-width="0.7" stroke-opacity="0.8" stroke-linejoin="round"/>
</g>
<polyline points="109,1121.3 278,1121.3" fill="none" stroke="#e0a0a0" stroke-width="0.9" stroke-opacity="0.8" stroke-linejoin="round"/>
<polyline points="110,1055 278,1055" fill="none" stroke="#c8c8c8" stroke-width="0.6" stroke-opacity="0.7" stroke-linejoin="round"/>
<polyline points="191.2,1118 191.2,1055" fill="none" stroke="#c8c8d8" stroke-width="0.6" stroke-opacity="0.55" stroke-linejoin="round"/>
<polyline points="193,1118 193,1055" fill="none" stroke="#c8c8d8" stroke-width="0.6" stroke-opacity="0.55" stroke-linejoin="round"/>
<polyline points="197.7,1118 197.7,1055" fill="none" stroke="#c8c8d8" stroke-width="0.6" stroke-opacity="0.55" stroke-linejoin="round"/>
<polyline points="109,1118.92 109.8,1118.83 110.6,1118.32 111.4,1118.84 112.2,1118.05 113,1118.16 113.8,1118.26 114.6,1118.53 115.4,1118.17 116.2,1118.76 117,1118.4 117.8,1118.63 118.6,1118.51 119.4,1118.04 120.2,1118.78 121,1118.25 121.8,1118.23 122.6,1118.91 123.4,1118.01 124.2,1118.55 125,1118.46 125.8,1118.7 126.6,1118.44 127.4,1118.04 128.2,1118.65 129,1118.27 129.8,1118.22 130.6,1118.13 131.4,1118.31 132.2,1118.57 133,1118.66 133.8,1118.62 134.6,1118.63 135.4,1118.11 136.2,1118.17 137,1118.79 137.8,1118.73 138.6,1118.96 139.4,1118.07 140.2,1118.94 141,1118.61 141.8,1118.82 142.6,1118.8 143.4,1118.06 144.2,1118.56 145,1118.37 145.8,1118.17 146.6,1118.48 147.4,1118.18 148.2,1118.23 149,1118.4 149.8,1118.44 150.6,1118.11 151.4,1118.32 152.2,1118.66 153,1118.1 153.8,1118.18 154.6,1118.05 155.4,1118.33 156.2,1118.56 157,1118.65 157.8,1118.38 158.6,1118.82 159.4,1118.27 160.2,1118.29 161,1118.12 161.8,1118.78 162.6,1118.42 163.4,1118.45 164.2,1118.4" fill="none" stroke="#8484cc" stroke-width="0.7" stroke-opacity="0.6" stroke-linejoin="round"/>
<polyline points="172,1117 174,1116 175.6,1108 176.4,1058.7 177.2,1106 178.5,1110 181,1110" fill="none" stroke="#8484cc" stroke-width="0.9" stroke-opacity="0.85" stroke-linejoin="round"/>
<polygon points="160,1118.09 160.55,1118.34 161.1,1118.38 161.65,1118.06 162.2,1118.29 162.75,1118.13 163.3,1118.04 163.85,1118.11 164.4,1118.17 164.95,1118.02 165.5,1118.11 166.05,1118.04 166.6,1118 167.15,1118.01 167.7,1118 168.25,1117.82 168.8,1117.58 169.35,1117.23 169.9,1116.61 170.45,1116.47 171,1116.41 171.55,1115.46 172.1,1115.99 172.65,1114.89 173.2,1113.92 173.75,1114.41 174.3,1113.89 174.85,1112.4 175.4,1112.73 175.95,1113.4 176.5,1111.44 177.05,1112.17 177.6,1112.68 178.15,1110.27 178.7,1111.93 179.25,1112.7 179.8,1111.82 180.35,1112.16 180.9,1112.33 181.45,1109.89 182,1111.03 182.55,1108.58 183.1,1106.82 183.65,1107.59 184.2,1105.98 184.75,1102.25 185.3,1102.38 185.85,1100.7 186.4,1097.17 186.95,1096.75 187.5,1095.03 188.05,1090.96 188.6,1089.43 189.15,1088.21 189.7,1085.14 190.25,1085.29 190.8,1084.51 191.35,1082.36 191.9,1082.57 192.45,1083.38 193,1083.63 193.55,1087.6 194.1,1085.79 194.65,1084.78 195.2,1086.99 195.75,1084.78 196.3,1080.52 196.85,1078.41 197.4,1074.63 197.95,1081.91 198.5,1088.73 199.05,1092.79 199.6,1091.85 200.15,1095.35 200.7,1095.64 201.25,1095.91 201.8,1098.92 202.35,1099.44 202.9,1099.99 203.45,1103.37 204,1103.96 204.55,1102.85 205.1,1105.18 205.65,1105.75 206.2,1104.8 206.75,1104.65 207.3,1105.47 207.85,1107.76 208.4,1112.18 208.95,1112.41 209.5,1112.16 210.05,1113.48 210.6,1114.54 211.15,1113.3 211.7,1115.02 212.25,1115.65 212.8,1115.62 213.35,1117.13 213.9,1117.31 214.45,1117.32 215,1117.95 215.55,1118.1 216.1,1118.15 216.65,1118.44 217.2,1118.7 217.75,1118.93 218.3,1119.07 218.85,1119.18 219.4,1119.28 219.95,1119.38 220.5,1119.48 221.05,1119.58 221.6,1119.69 222.15,1119.79 222.7,1119.89 223.25,1119.99 223.8,1120.05 224.35,1120.11 224.9,1120.17 225.45,1120.23 226,1120.29 226.55,1120.35 227.1,1120.4 227.65,1120.46 227.65,1120.45 227.1,1120.36 226.55,1120.27 226,1120.19 225.45,1120.1 224.9,1120.02 224.35,1119.93 223.8,1119.84 223.25,1119.76 222.7,1119.67 222.15,1119.59 221.6,1119.5 221.05,1119.41 220.5,1119.33 219.95,1119.24 219.4,1119.16 218.85,1119.07 218.3,1118.98 217.75,1118.9 217.2,1118.77 216.65,1118.67 216.1,1118.56 215.55,1118.31 215,1118.42 214.45,1118.26 213.9,1117.88 213.35,1117.57 212.8,1117.74 212.25,1117.34 211.7,1117.19 211.15,1116.79 210.6,1116.69 210.05,1116.31 209.5,1116.65 208.95,1116.19 208.4,1114.41 207.85,1113.76 207.3,1113.62 206.75,1113.44 206.2,1112.75 205.65,1111.84 205.1,1110.96 204.55,1112.92 204,1111.45 203.45,1109.07 202.9,1110.38 202.35,1108.63 201.8,1108.72 201.25,1109.09 200.7,1107.08 200.15,1106.96 199.6,1105.72 199.05,1104.72 198.5,1104.03 197.95,1103.31 197.4,1102.94 196.85,1102.24 196.3,1102.97 195.75,1103.24 195.2,1103.54 194.65,1103.05 194.1,1101.95 193.55,1102.68 193,1104.75 192.45,1104.65 191.9,1104.29 191.35,1105.76 190.8,1104.56 190.25,1104.93 189.7,1108.05 189.15,1107.92 188.6,1107.67 188.05,1107.48 187.5,1108.11 186.95,1109.92 186.4,1109.09 185.85,1110.51 185.3,1109.96 184.75,1112.23 184.2,1111.84 183.65,1111.31 183.1,1112.2 182.55,1111.88 182,1113.92 181.45,1113.47 180.9,1114.26 180.35,1113.77 179.8,1114.61 179.25,1113.84 178.7,1114.77 178.15,1115.42 177.6,1114.34 177.05,1115.98 176.5,1115.73 175.95,1116.01 175.4,1116.26 174.85,1116.39 174.3,1116.81 173.75,1116.6 173.2,1116.22 172.65,1117.26 172.1,1117.3 171.55,1117.1 171,1117.1 170.45,1117.15 169.9,1117.63 169.35,1117.51 168.8,1117.68 168.25,1117.89 167.7,1117.97 167.15,1118.04 166.6,1118.12 166.05,1118.16 165.5,1118.22 164.95,1118.31 164.4,1118.29 163.85,1118.45 163.3,1118.51 162.75,1118.56 162.2,1118.46 161.65,1118.59 161.1,1118.85 160.55,1118.88 160,1119" fill="#b6b6e4" fill-opacity="0.85" stroke="none" stroke-width="0"/>
<polyline points="160,1118.27 160.55,1118.82 161.1,1118.43 161.65,1118.51 162.2,1118.32 162.75,1118.48 163.3,1118.09 163.85,1118.39 164.4,1118.18 164.95,1118.25 165.5,1118.14 166.05,1118.14 166.6,1118.01 167.15,1118.04 167.7,1117.99 168.25,1117.88 168.8,1117.6 169.35,1117.5 169.9,1116.65 170.45,1117.11 171,1116.53 171.55,1117.01 172.1,1116.2 172.65,1117.22 173.2,1114.32 173.75,1116.22 174.3,1114.07 174.85,1116.16 175.4,1112.95 175.95,1115.68 176.5,1111.63 177.05,1115.76 177.6,1113.02 178.15,1114.22 178.7,1112.04 179.25,1113.69 179.8,1112.28 180.35,1113.39 180.9,1112.6 181.45,1112.99 182,1111.59 182.55,1111.23 183.1,1107.78 183.65,1110.73 184.2,1107.17 184.75,1112.12 185.3,1103.83 185.85,1109.97 186.4,1098.22 186.95,1108.63 187.5,1096.73 188.05,1105.04 188.6,1092.11 189.15,1106.36 189.7,1087.21 190.25,1101.71 190.8,1089.17 191.35,1103.53 191.9,1082.61 192.45,1100.11 193,1088.31 193.55,1099.51 194.1,1088.36 194.65,1101.15 195.2,1087.26 195.75,1098.99 196.3,1082.97 196.85,1101.51 197.4,1079.05 197.95,1103.07 198.5,1090.21 199.05,1102.92 199.6,1094.63 200.15,1105.91 200.7,1096.2 201.25,1107.96 201.8,1100.93 202.35,1108.42 202.9,1100.35 203.45,1108.58 204,1105.74 204.55,1110.7 205.1,1106.57 205.65,1111.77 206.2,1105.8 206.75,1113.12 207.3,1106.67 207.85,1112.57 208.4,1112.45 208.95,1115.54 209.5,1112.92 210.05,1115.96 210.6,1114.75 211.15,1116.58 211.7,1115.41 212.25,1116.93 212.8,1116.13 213.35,1117.47 213.9,1117.43 214.45,1118.1 215,1118.01 215.55,1118.3 216.1,1118.23 216.65,1118.66 217.2,1118.72 217.75,1118.9 218.3,1119.07 218.85,1119.09 219.4,1119.25 219.95,1119.27 220.5,1119.48 221.05,1119.43 221.6,1119.68 222.15,1119.63 222.7,1119.88 223.25,1119.78 223.8,1120.01 224.35,1119.95 224.9,1120.15 225.45,1120.12 226,1120.28 226.55,1120.29 227.1,1120.4 227.65,1120.45" fill="none" stroke="#8484cc" stroke-width="0.6" stroke-opacity="0.3" stroke-linejoin="round"/>
<polyline points="160,1118.09 160.55,1118.34 161.1,1118.38 161.65,1118.06 162.2,1118.29 162.75,1118.13 163.3,1118.04 163.85,1118.11 164.4,1118.17 164.95,1118.02 165.5,1118.11 166.05,1118.04 166.6,1118 167.15,1118.01 167.7,1118 168.25,1117.82 168.8,1117.58 169.35,1117.23 169.9,1116.61 170.45,1116.47 171,1116.41 171.55,1115.46 172.1,1115.99 172.65,1114.89 173.2,1113.92 173.75,1114.41 174.3,1113.89 174.85,1112.4 175.4,1112.73 175.95,1113.4 176.5,1111.44 177.05,1112.17 177.6,1112.68 178.15,1110.27 178.7,1111.93 179.25,1112.7 179.8,1111.82 180.35,1112.16 180.9,1112.33 181.45,1109.89 182,1111.03 182.55,1108.58 183.1,1106.82 183.65,1107.59 184.2,1105.98 184.75,1102.25 185.3,1102.38 185.85,1100.7 186.4,1097.17 186.95,1096.75 187.5,1095.03 188.05,1090.96 188.6,1089.43 189.15,1088.21 189.7,1085.14 190.25,1085.29 190.8,1084.51 191.35,1082.36 191.9,1082.57 192.45,1083.38 193,1083.63 193.55,1087.6 194.1,1085.79 194.65,1084.78 195.2,1086.99 195.75,1084.78 196.3,1080.52 196.85,1078.41 197.4,1074.63 197.95,1081.91 198.5,1088.73 199.05,1092.79 199.6,1091.85 200.15,1095.35 200.7,1095.64 201.25,1095.91 201.8,1098.92 202.35,1099.44 202.9,1099.99 203.45,1103.37 204,1103.96 204.55,1102.85 205.1,1105.18 205.65,1105.75 206.2,1104.8 206.75,1104.65 207.3,1105.47 207.85,1107.76 208.4,1112.18 208.95,1112.41 209.5,1112.16 210.05,1113.48 210.6,1114.54 211.15,1113.3 211.7,1115.02 212.25,1115.65 212.8,1115.62 213.35,1117.13 213.9,1117.31 214.45,1117.32 215,1117.95 215.55,1118.1 216.1,1118.15 216.65,1118.44 217.2,1118.7 217.75,1118.93 218.3,1119.07 218.85,1119.18 219.4,1119.28 219.95,1119.38 220.5,1119.48 221.05,1119.58 221.6,1119.69 222.15,1119.79 222.7,1119.89 223.25,1119.99 223.8,1120.05 224.35,1120.11 224.9,1120.17 225.45,1120.23 226,1120.29 226.55,1120.35 227.1,1120.4 227.65,1120.46" fill="none" stroke="#8484cc" stroke-width="0.7" stroke-opacity="0.75" stroke-linejoin="round"/>
<polyline points="160,1119 160.55,1118.88 161.1,1118.85 161.65,1118.59 162.2,1118.46 162.75,1118.56 163.3,1118.51 163.85,1118.45 164.4,1118.29 164.95,1118.31 165.5,1118.22 166.05,1118.16 166.6,1118.12 167.15,1118.04 167.7,1117.97 168.25,1117.89 168.8,1117.68 169.35,1117.51 169.9,1117.63 170.45,1117.15 171,1117.1 171.55,1117.1 172.1,1117.3 172.65,1117.26 173.2,1116.22 173.75,1116.6 174.3,1116.81 174.85,1116.39 175.4,1116.26 175.95,1116.01 176.5,1115.73 177.05,1115.98 177.6,1114.34 178.15,1115.42 178.7,1114.77 179.25,1113.84 179.8,1114.61 180.35,1113.77 180.9,1114.26 181.45,1113.47 182,1113.92 182.55,1111.88 183.1,1112.2 183.65,1111.31 184.2,1111.84 184.75,1112.23 185.3,1109.96 185.85,1110.51 186.4,1109.09 186.95,1109.92 187.5,1108.11 188.05,1107.48 188.6,1107.67 189.15,1107.92 189.7,1108.05 190.25,1104.93 190.8,1104.56 191.35,1105.76 191.9,1104.29 192.45,1104.65 193,1104.75 193.55,1102.68 194.1,1101.95 194.65,1103.05 195.2,1103.54 195.75,1103.24 196.3,1102.97 196.85,1102.24 197.4,1102.94 197.95,1103.31 198.5,1104.03 199.05,1104.72 199.6,1105.72 200.15,1106.96 200.7,1107.08 201.25,1109.09 201.8,1108.72 202.35,1108.63 202.9,1110.38 203.45,1109.07 204,1111.45 204.55,1112.92 205.1,1110.96 205.65,1111.84 206.2,1112.75 206.75,1113.44 207.3,1113.62 207.85,1113.76 208.4,1114.41 208.95,1116.19 209.5,1116.65 210.05,1116.31 210.6,1116.69 211.15,1116.79 211.7,1117.19 212.25,1117.34 212.8,1117.74 213.35,1117.57 213.9,1117.88 214.45,1118.26 215,1118.42 215.55,1118.31 216.1,1118.56 216.65,1118.67 217.2,1118.77 217.75,1118.9 218.3,1118.98 218.85,1119.07 219.4,1119.16 219.95,1119.24 220.5,1119.33 221.05,1119.41 221.6,1119.5 222.15,1119.59 222.7,1119.67 223.25,1119.76 223.8,1119.84 224.35,1119.93 224.9,1120.02 225.45,1120.1 226,1120.19 226.55,1120.27 227.1,1120.36 227.65,1120.45" fill="none" stroke="#8484cc" stroke-width="0.6" stroke-opacity="0.5249999999999999" stroke-linejoin="round"/>
<polyline points="129.25,1120.8 129.7,1103.5 130.15,1120.8" fill="none" stroke="#e49aa6" stroke-width="0.85" stroke-opacity="0.85" stroke-linejoin="round"/>
<polyline points="143.05,1120.8 143.5,1101.9 143.95,1120.8" fill="none" stroke="#e49aa6" stroke-width="0.85" stroke-opacity="0.85" stroke-linejoin="round"/>
<polyline points="155.75,1120.8 156.2,1102.9 156.65,1120.8" fill="none" stroke="#e49aa6" stroke-width="0.85" stroke-opacity="0.85" stroke-linejoin="round"/>
<polyline points="206.25,1120.8 206.7,1100.2 207.15,1120.8" fill="none" stroke="#e49aa6" stroke-width="0.85" stroke-opacity="0.85" stroke-linejoin="round"/>
<polyline points="265.45,1120.8 265.9,1099.5 266.35,1120.8" fill="none" stroke="#e49aa6" stroke-width="0.85" stroke-opacity="0.85" stroke-linejoin="round"/>
<g transform="translate(0,0.9)">
<polyline points="339,1121.6 509,1121.6" fill="none" stroke="#c8a070" stroke-width="0.9" stroke-opacity="0.9" stroke-linejoin="round"/>
<polygon points="340,1120.5 340.5,1117.44 341.38,1117.52 342.23,1115.88 343.28,1116 344.3,1114.33 345.02,1114.92 345.6,1112.85 346.33,1114.91 347.64,1111.97 348.89,1113.85 349.94,1112.32 350.8,1114.67 351.52,1113.3 352.25,1113.94 353.41,1111.38 354.24,1113.12 355.54,1109.62 356.03,1112.66 357.23,1107.62 358.15,1109.74 358.74,1107.11 359.61,1108.04 360.69,1103.51 361.15,1108.21 362.04,1100.46 362.92,1105.51 363.78,1098.8 364.68,1100.22 365.25,1097.78 366.07,1100.27 367.01,1094.87 367.82,1098.68 368.73,1095.56 369.88,1103.4 371.07,1100.74 371.61,1103.77 372.17,1102.92 373.18,1108.92 373.73,1104.39 375.03,1110.44 375.62,1106.79 376.3,1109.87 376.76,1108.07 378.03,1111.22 378.61,1110.36 379.1,1113.09 380.21,1112.04 380.69,1113.51 381.32,1112.96 382.6,1115.74 383.15,1114.44 383.97,1115.32 384.52,1114.47 385.73,1115.71 386.98,1114.13 387.81,1115.12 388.43,1113.37 389.62,1115.29 390.26,1112.93 390.73,1114.36 391.45,1112.96 391.97,1115.34 392.69,1113.96 393.62,1116.65 394.6,1116.84 395.49,1117.79 396.51,1117.77 397.61,1118.87 398.48,1118.75 399.59,1119.27 400.34,1119.11 401.43,1119.62 402.23,1119.26 403.09,1119.89 404.1,1119.43 404.91,1120.02 405.41,1119.38 405.88,1120.1 406.46,1119.46 407.54,1120.07 408.44,1119.66 409.66,1120.45 410.68,1119.83 411.96,1120.43 412.96,1119.82 413.87,1120.31 414.84,1119.94 415.94,1120.5 417.2,1120.01 417.67,1120.5 418.78,1119.81 419.96,1120.5 420.55,1120.01 421.55,1120.5 422.11,1119.83 422.77,1120.34 423.61,1120.03 424.14,1120.27 424.62,1120.04 425.68,1120.5 426.83,1119.99 427.95,1120.32 429.18,1120 429.74,1120.47 430.37,1119.93 431.15,1120.26 431.78,1120.09 433.08,1120.5 434.24,1119.98 435.06,1120.5 436.01,1120.12 437.35,1120.49 438.39,1120.04 439.7,1120.41 440.2,1120.14 441.01,1120.5 441.87,1119.94 442.45,1120.5 443.05,1119.96 443.67,1120.5 444.67,1119.94 445.5,1120.5 445.99,1119.97 446.91,1120.5 448.23,1120.12 449.23,1120.5 449.96,1120.17 450.79,1120.5 451.79,1120.12 452.32,1120.5 453.6,1120.07 454.31,1120.5 455.63,1120.13 456.73,1120.44 457.91,1120.03 458.6,1120.5 459.63,1120.02 460.79,1120.41 461.34,1120.05 462.15,1120.5 463.01,1120.07 463.66,1120.5 464.53,1120.28 465.16,1120.49 465.99,1120.06 467.31,1120.5 468.13,1120.11 469.25,1120.5 470.57,1120.11 471.71,1120.5 472.31,1120.22 473.02,1120.5 473.61,1120.28 474.72,1120.5 475.25,1120.33 475.71,1120.5 476.83,1120.28 477.38,1120.5 478.15,1120.35 478.66,1120.5 479.49,1120.33 480.31,1120.5 481.6,1120.22 482.32,1120.5 482.94,1120.28 484.25,1120.5 484.83,1120.23 485.97,1120.5 487.1,1120.24 487.63,1120.5 488.93,1120.18 490.17,1120.5 491.33,1120.23 492.13,1120.5 493,1120.29 493.46,1120.5 494.81,1120.34 495.63,1120.5 496.56,1120.27 497.49,1120.5 497.98,1120.39 498.75,1120.5 499.65,1120.43 500.85,1120.5 501.68,1120.32 502.78,1120.5 503.6,1120.48 504.89,1120.5 506.08,1120.44 507.09,1120.5 507.68,1120.45 508,1120.5 508,1120.8 507.68,1120.8 507.09,1120.8 506.08,1120.8 504.89,1120.8 503.6,1120.8 502.78,1120.8 501.68,1120.8 500.85,1120.8 499.65,1120.8 498.75,1120.8 497.98,1120.8 497.49,1120.8 496.56,1120.8 495.63,1120.8 494.81,1120.8 493.46,1120.8 493,1120.8 492.13,1120.8 491.33,1120.8 490.17,1120.8 488.93,1120.8 487.63,1120.8 487.1,1120.8 485.97,1120.8 484.83,1120.8 484.25,1120.8 482.94,1120.8 482.32,1120.8 481.6,1120.8 480.31,1120.8 479.49,1120.8 478.66,1120.8 478.15,1120.8 477.38,1120.8 476.83,1120.8 475.71,1120.8 475.25,1120.8 474.72,1120.8 473.61,1120.8 473.02,1120.8 472.31,1120.8 471.71,1120.8 470.57,1120.8 469.25,1120.8 468.13,1120.8 467.31,1120.8 465.99,1120.8 465.16,1120.8 464.53,1120.8 463.66,1120.8 463.01,1120.8 462.15,1120.8 461.34,1120.8 460.79,1120.8 459.63,1120.8 458.6,1120.8 457.91,1120.8 456.73,1120.8 455.63,1120.8 454.31,1120.8 453.6,1120.8 452.32,1120.8 451.79,1120.8 450.79,1120.8 449.96,1120.8 449.23,1120.8 448.23,1120.8 446.91,1120.8 445.99,1120.8 445.5,1120.8 444.67,1120.8 443.67,1120.8 443.05,1120.8 442.45,1120.8 441.87,1120.8 441.01,1120.8 440.2,1120.8 439.7,1120.8 438.39,1120.8 437.35,1120.8 436.01,1120.8 435.06,1120.8 434.24,1120.8 433.08,1120.8 431.78,1120.8 431.15,1120.8 430.37,1120.8 429.74,1120.8 429.18,1120.8 427.95,1120.8 426.83,1120.8 425.68,1120.8 424.62,1120.8 424.14,1120.8 423.61,1120.8 422.77,1120.8 422.11,1120.8 421.55,1120.8 420.55,1120.8 419.96,1120.8 418.78,1120.8 417.67,1120.8 417.2,1120.8 415.94,1120.8 414.84,1120.8 413.87,1120.8 412.96,1120.8 411.96,1120.8 410.68,1120.8 409.66,1120.8 408.44,1120.8 407.54,1120.8 406.46,1120.8 405.88,1120.8 405.41,1120.8 404.91,1120.8 404.1,1120.8 403.09,1120.8 402.23,1120.8 401.43,1120.8 400.34,1120.8 399.59,1120.8 398.48,1120.8 397.61,1120.8 396.51,1120.8 395.49,1120.8 394.6,1120.8 393.62,1119.7 392.69,1118.32 391.97,1117.25 391.45,1117.07 390.73,1117.2 390.26,1117.28 389.62,1117.4 388.43,1117.89 387.81,1118.24 386.98,1118.73 385.73,1118.91 384.52,1118.76 383.97,1118.69 383.15,1118.59 382.6,1118.52 381.32,1117.5 380.69,1116.92 380.21,1116.47 379.1,1115.33 378.61,1114.79 378.03,1114.15 376.76,1112.77 376.3,1112.35 375.62,1111.72 375.03,1111.17 373.73,1109.55 373.18,1108.63 372.17,1106.94 371.61,1106.01 371.07,1105.2 369.88,1103.42 368.73,1101.47 367.82,1099.88 367.01,1100.19 366.07,1101.27 365.25,1102.24 364.68,1102.93 363.78,1104.03 362.92,1105.1 362.04,1106.3 361.15,1107.95 360.69,1108.81 359.61,1110.8 358.74,1111.56 358.15,1112 357.23,1112.68 356.03,1113.59 355.54,1113.97 354.24,1114.97 353.41,1115.73 352.25,1116.81 351.52,1117.48 350.8,1116.98 349.94,1116.35 348.89,1115.57 347.64,1116.21 346.33,1117.01 345.6,1117.45 345.02,1117.81 344.3,1118.34 343.28,1119.21 342.23,1120.1 341.38,1120.8 340.5,1120.8 340,1120.8" fill="#b6b6e4" fill-opacity="0.5" stroke="none" stroke-width="0"/>
<polyline points="340,1120.5 340.5,1117.44 341.38,1117.52 342.23,1115.88 343.28,1116 344.3,1114.33 345.02,1114.92 345.6,1112.85 346.33,1114.91 347.64,1111.97 348.89,1113.85 349.94,1112.32 350.8,1114.67 351.52,1113.3 352.25,1113.94 353.41,1111.38 354.24,1113.12 355.54,1109.62 356.03,1112.66 357.23,1107.62 358.15,1109.74 358.74,1107.11 359.61,1108.04 360.69,1103.51 361.15,1108.21 362.04,1100.46 362.92,1105.51 363.78,1098.8 364.68,1100.22 365.25,1097.78 366.07,1100.27 367.01,1094.87 367.82,1098.68 368.73,1095.56 369.88,1103.4 371.07,1100.74 371.61,1103.77 372.17,1102.92 373.18,1108.92 373.73,1104.39 375.03,1110.44 375.62,1106.79 376.3,1109.87 376.76,1108.07 378.03,1111.22 378.61,1110.36 379.1,1113.09 380.21,1112.04 380.69,1113.51 381.32,1112.96 382.6,1115.74 383.15,1114.44 383.97,1115.32 384.52,1114.47 385.73,1115.71 386.98,1114.13 387.81,1115.12 388.43,1113.37 389.62,1115.29 390.26,1112.93 390.73,1114.36 391.45,1112.96 391.97,1115.34 392.69,1113.96 393.62,1116.65 394.6,1116.84 395.49,1117.79 396.51,1117.77 397.61,1118.87 398.48,1118.75 399.59,1119.27 400.34,1119.11 401.43,1119.62 402.23,1119.26 403.09,1119.89 404.1,1119.43 404.91,1120.02 405.41,1119.38 405.88,1120.1 406.46,1119.46 407.54,1120.07 408.44,1119.66 409.66,1120.45 410.68,1119.83 411.96,1120.43 412.96,1119.82 413.87,1120.31 414.84,1119.94 415.94,1120.5 417.2,1120.01 417.67,1120.5 418.78,1119.81 419.96,1120.5 420.55,1120.01 421.55,1120.5 422.11,1119.83 422.77,1120.34 423.61,1120.03 424.14,1120.27 424.62,1120.04 425.68,1120.5 426.83,1119.99 427.95,1120.32 429.18,1120 429.74,1120.47 430.37,1119.93 431.15,1120.26 431.78,1120.09 433.08,1120.5 434.24,1119.98 435.06,1120.5 436.01,1120.12 437.35,1120.49 438.39,1120.04 439.7,1120.41 440.2,1120.14 441.01,1120.5 441.87,1119.94 442.45,1120.5 443.05,1119.96 443.67,1120.5 444.67,1119.94 445.5,1120.5 445.99,1119.97 446.91,1120.5 448.23,1120.12 449.23,1120.5 449.96,1120.17 450.79,1120.5 451.79,1120.12 452.32,1120.5 453.6,1120.07 454.31,1120.5 455.63,1120.13 456.73,1120.44 457.91,1120.03 458.6,1120.5 459.63,1120.02 460.79,1120.41 461.34,1120.05 462.15,1120.5 463.01,1120.07 463.66,1120.5 464.53,1120.28 465.16,1120.49 465.99,1120.06 467.31,1120.5 468.13,1120.11 469.25,1120.5 470.57,1120.11 471.71,1120.5 472.31,1120.22 473.02,1120.5 473.61,1120.28 474.72,1120.5 475.25,1120.33 475.71,1120.5 476.83,1120.28 477.38,1120.5 478.15,1120.35 478.66,1120.5 479.49,1120.33 480.31,1120.5 481.6,1120.22 482.32,1120.5 482.94,1120.28 484.25,1120.5 484.83,1120.23 485.97,1120.5 487.1,1120.24 487.63,1120.5 488.93,1120.18 490.17,1120.5 491.33,1120.23 492.13,1120.5 493,1120.29 493.46,1120.5 494.81,1120.34 495.63,1120.5 496.56,1120.27 497.49,1120.5 497.98,1120.39 498.75,1120.5 499.65,1120.43 500.85,1120.5 501.68,1120.32 502.78,1120.5 503.6,1120.48 504.89,1120.5 506.08,1120.44 507.09,1120.5 507.68,1120.45 508,1120.5" fill="none" stroke="#8484cc" stroke-width="0.8" stroke-opacity="0.8" stroke-linejoin="round"/>
<polyline points="392,1118.5 400,1118.5 440,1119 508,1119.5" fill="none" stroke="#5cb45c" stroke-width="0.6" stroke-opacity="0.4" stroke-linejoin="round"/>
<polygon points="400,1120.02 400.55,1120.03 401.1,1119.81 401.65,1119.38 402.2,1119.24 402.75,1119.24 403.3,1118.72 403.85,1118.89 404.4,1118.54 404.95,1118.03 405.5,1118.17 406.05,1117.68 406.6,1116.61 407.15,1116.72 407.7,1116.4 408.25,1114.78 408.8,1115.25 409.35,1114.34 409.9,1113.39 410.45,1113.26 411,1112.93 411.55,1112.09 412.1,1112.57 412.65,1112.78 413.2,1110.8 413.75,1110.91 414.3,1109.56 414.85,1107.4 415.4,1107.73 415.95,1105.01 416.5,1102.55 417.05,1102.86 417.6,1102.65 418.15,1099.71 418.7,1100.23 419.25,1098.97 419.8,1096.44 420.35,1095.22 420.9,1095.14 421.45,1091.44 422,1091.75 422.55,1092.17 423.1,1092.23 423.65,1096.03 424.2,1097.93 424.75,1100.26 425.3,1106.19 425.85,1108.16 426.4,1108.34 426.95,1111 427.5,1111.78 428.05,1111.6 428.6,1113.41 429.15,1114.09 429.7,1114.09 430.25,1115.58 430.8,1116.08 431.35,1116.49 431.9,1117.34 432.45,1117.98 433,1118.5 433.55,1118.87 434.1,1119.23 434.65,1119.5 435.2,1119.88 435.75,1120.27 436.3,1120.32 436.85,1120.43 437.4,1120.37 437.95,1120.32 437.95,1120.55 437.4,1120.56 436.85,1120.52 436.3,1120.56 435.75,1120.38 435.2,1120.02 434.65,1119.64 434.1,1119.31 433.55,1118.99 433,1118.62 432.45,1118.23 431.9,1117.64 431.35,1117.34 430.8,1116.93 430.25,1116.49 429.7,1116.21 429.15,1115.83 428.6,1115.15 428.05,1114.49 427.5,1113.33 426.95,1112.02 426.4,1111.97 425.85,1111.19 425.3,1108.24 424.75,1108.06 424.2,1108.3 423.65,1107.75 423.1,1106.88 422.55,1104.96 422,1103.81 421.45,1104.49 420.9,1107.04 420.35,1104.69 419.8,1107.27 419.25,1106.85 418.7,1107.9 418.15,1107.59 417.6,1109.58 417.05,1108.22 416.5,1110.54 415.95,1110.16 415.4,1111.26 414.85,1111.91 414.3,1112.24 413.75,1113.6 413.2,1113.26 412.65,1114.7 412.1,1114.39 411.55,1114.54 411,1115.22 410.45,1116.15 409.9,1115.8 409.35,1116.4 408.8,1116.61 408.25,1117.14 407.7,1118.22 407.15,1117.83 406.6,1118.67 406.05,1118.59 405.5,1119.04 404.95,1118.91 404.4,1118.99 403.85,1119.18 403.3,1119.56 402.75,1119.73 402.2,1119.84 401.65,1120.06 401.1,1120.06 400.55,1120.3 400,1120.36" fill="#b6e0b6" fill-opacity="0.75" stroke="none" stroke-width="0"/>
<polyline points="400,1120.07 400.55,1120.29 401.1,1119.85 401.65,1119.94 402.2,1119.35 402.75,1119.68 403.3,1118.82 403.85,1119.14 404.4,1118.6 404.95,1118.8 405.5,1118.17 406.05,1118.53 406.6,1117.12 407.15,1117.6 407.7,1116.61 408.25,1116.7 408.8,1115.32 409.35,1116.26 409.9,1113.7 410.45,1115.64 411,1112.94 411.55,1114.25 412.1,1112.98 412.65,1114.4 413.2,1111.41 413.75,1113.53 414.3,1110.17 414.85,1110.97 415.4,1107.76 415.95,1109.47 416.5,1104.07 417.05,1107.93 417.6,1103.77 418.15,1105.91 418.7,1101.75 419.25,1106.01 419.8,1096.6 420.35,1103.41 420.9,1095.7 421.45,1102.73 422,1092.56 422.55,1103.85 423.1,1094.23 423.65,1105.35 424.2,1100.46 424.75,1107.26 425.3,1106.19 425.85,1110.62 426.4,1108.65 426.95,1111.82 427.5,1112.1 428.05,1114.46 428.6,1113.72 429.15,1115.71 429.7,1114.26 430.25,1116.41 430.8,1116.2 431.35,1117.29 431.9,1117.38 432.45,1118.21 433,1118.51 433.55,1118.98 434.1,1119.24 434.65,1119.63 435.2,1119.89 435.75,1120.37 436.3,1120.33 436.85,1120.5 437.4,1120.41 437.95,1120.54" fill="none" stroke="#5cb45c" stroke-width="0.6" stroke-opacity="0.3" stroke-linejoin="round"/>
<polyline points="400,1120.02 400.55,1120.03 401.1,1119.81 401.65,1119.38 402.2,1119.24 402.75,1119.24 403.3,1118.72 403.85,1118.89 404.4,1118.54 404.95,1118.03 405.5,1118.17 406.05,1117.68 406.6,1116.61 407.15,1116.72 407.7,1116.4 408.25,1114.78 408.8,1115.25 409.35,1114.34 409.9,1113.39 410.45,1113.26 411,1112.93 411.55,1112.09 412.1,1112.57 412.65,1112.78 413.2,1110.8 413.75,1110.91 414.3,1109.56 414.85,1107.4 415.4,1107.73 415.95,1105.01 416.5,1102.55 417.05,1102.86 417.6,1102.65 418.15,1099.71 418.7,1100.23 419.25,1098.97 419.8,1096.44 420.35,1095.22 420.9,1095.14 421.45,1091.44 422,1091.75 422.55,1092.17 423.1,1092.23 423.65,1096.03 424.2,1097.93 424.75,1100.26 425.3,1106.19 425.85,1108.16 426.4,1108.34 426.95,1111 427.5,1111.78 428.05,1111.6 428.6,1113.41 429.15,1114.09 429.7,1114.09 430.25,1115.58 430.8,1116.08 431.35,1116.49 431.9,1117.34 432.45,1117.98 433,1118.5 433.55,1118.87 434.1,1119.23 434.65,1119.5 435.2,1119.88 435.75,1120.27 436.3,1120.32 436.85,1120.43 437.4,1120.37 437.95,1120.32" fill="none" stroke="#5cb45c" stroke-width="0.7" stroke-opacity="0.5" stroke-linejoin="round"/>
<polyline points="400,1120.36 400.55,1120.3 401.1,1120.06 401.65,1120.06 402.2,1119.84 402.75,1119.73 403.3,1119.56 403.85,1119.18 404.4,1118.99 404.95,1118.91 405.5,1119.04 406.05,1118.59 406.6,1118.67 407.15,1117.83 407.7,1118.22 408.25,1117.14 408.8,1116.61 409.35,1116.4 409.9,1115.8 410.45,1116.15 411,1115.22 411.55,1114.54 412.1,1114.39 412.65,1114.7 413.2,1113.26 413.75,1113.6 414.3,1112.24 414.85,1111.91 415.4,1111.26 415.95,1110.16 416.5,1110.54 417.05,1108.22 417.6,1109.58 418.15,1107.59 418.7,1107.9 419.25,1106.85 419.8,1107.27 420.35,1104.69 420.9,1107.04 421.45,1104.49 422,1103.81 422.55,1104.96 423.1,1106.88 423.65,1107.75 424.2,1108.3 424.75,1108.06 425.3,1108.24 425.85,1111.19 426.4,1111.97 426.95,1112.02 427.5,1113.33 428.05,1114.49 428.6,1115.15 429.15,1115.83 429.7,1116.21 430.25,1116.49 430.8,1116.93 431.35,1117.34 431.9,1117.64 432.45,1118.23 433,1118.62 433.55,1118.99 434.1,1119.31 434.65,1119.64 435.2,1120.02 435.75,1120.38 436.3,1120.56 436.85,1120.52 437.4,1120.56 437.95,1120.55" fill="none" stroke="#5cb45c" stroke-width="0.6" stroke-opacity="0.35" stroke-linejoin="round"/>
<polyline points="349.25,1120.8 349.7,1104.2 350.15,1120.8" fill="none" stroke="#e49aa6" stroke-width="0.85" stroke-opacity="0.85" stroke-linejoin="round"/>
<polyline points="359.95,1120.8 360.4,1071.8 360.85,1120.8" fill="none" stroke="#e49aa6" stroke-width="0.85" stroke-opacity="0.85" stroke-linejoin="round"/>
<polyline points="373.65,1120.8 374.1,1066.8 374.55,1120.8" fill="none" stroke="#e49aa6" stroke-width="0.85" stroke-opacity="0.85" stroke-linejoin="round"/>
<polyline points="386.75,1120.8 387.2,1067.4 387.65,1120.8" fill="none" stroke="#e49aa6" stroke-width="0.85" stroke-opacity="0.85" stroke-linejoin="round"/>
<polyline points="436.85,1120.8 437.3,1060.7 437.75,1120.8" fill="none" stroke="#e49aa6" stroke-width="0.85" stroke-opacity="0.85" stroke-linejoin="round"/>
<polyline points="495.75,1120.8 496.2,1057.4 496.65,1120.8" fill="none" stroke="#e49aa6" stroke-width="0.85" stroke-opacity="0.85" stroke-linejoin="round"/>
</g>
<line x1="107.2" y1="44.8" x2="278.6" y2="44.8" stroke="#111" stroke-width="1.9"/>
<line x1="108.2" y1="43.9" x2="108.2" y2="130.4" stroke="#111" stroke-width="1.9"/>
<line x1="143.8" y1="41" x2="143.8" y2="44.8" stroke="#111" stroke-width="1.1"/>
<line x1="205.03" y1="41" x2="205.03" y2="44.8" stroke="#111" stroke-width="1.1"/>
<line x1="266.25" y1="41" x2="266.25" y2="44.8" stroke="#111" stroke-width="1.1"/>
<line x1="104" y1="48" x2="108.2" y2="48" stroke="#111" stroke-width="1.1"/>
<text x="100" y="51.6" font-size="10" letter-spacing="0.22" fill="#1c1c1c" text-anchor="end">12.000</text>
<line x1="104" y1="86.2" x2="108.2" y2="86.2" stroke="#111" stroke-width="1.1"/>
<text x="100" y="89.8" font-size="10" letter-spacing="0.22" fill="#1c1c1c" text-anchor="end">6.000</text>
<line x1="104" y1="124.4" x2="108.2" y2="124.4" stroke="#111" stroke-width="1.1"/>
<text x="100" y="128" font-size="10" letter-spacing="0.22" fill="#1c1c1c" text-anchor="end">0</text>
<line x1="337.8" y1="44.8" x2="509.2" y2="44.8" stroke="#111" stroke-width="1.9"/>
<line x1="338.8" y1="43.9" x2="338.8" y2="130.4" stroke="#111" stroke-width="1.9"/>
<line x1="374.4" y1="41" x2="374.4" y2="44.8" stroke="#111" stroke-width="1.1"/>
<line x1="435.62" y1="41" x2="435.62" y2="44.8" stroke="#111" stroke-width="1.1"/>
<line x1="496.85" y1="41" x2="496.85" y2="44.8" stroke="#111" stroke-width="1.1"/>
<line x1="334.6" y1="48" x2="338.8" y2="48" stroke="#111" stroke-width="1.1"/>
<text x="330.6" y="51.6" font-size="10" letter-spacing="0.22" fill="#1c1c1c" text-anchor="end">6.000</text>
<line x1="334.6" y1="86.2" x2="338.8" y2="86.2" stroke="#111" stroke-width="1.1"/>
<text x="330.6" y="89.8" font-size="10" letter-spacing="0.22" fill="#1c1c1c" text-anchor="end">3.000</text>
<line x1="334.6" y1="124.4" x2="338.8" y2="124.4" stroke="#111" stroke-width="1.1"/>
<text x="330.6" y="128" font-size="10" letter-spacing="0.22" fill="#1c1c1c" text-anchor="end">0</text>
<text x="144.8" y="35" font-size="10" letter-spacing="0.22" fill="#1c1c1c" text-anchor="middle">150</text>
<text x="206.03" y="35" font-size="10" letter-spacing="0.22" fill="#1c1c1c" text-anchor="middle">200</text>
<text x="267.25" y="35" font-size="10" letter-spacing="0.22" fill="#1c1c1c" text-anchor="middle">250</text>
<text x="375.4" y="35" font-size="10" letter-spacing="0.22" fill="#1c1c1c" text-anchor="middle">150</text>
<text x="436.62" y="35" font-size="10" letter-spacing="0.22" fill="#1c1c1c" text-anchor="middle">200</text>
<text x="497.85" y="35" font-size="10" letter-spacing="0.22" fill="#1c1c1c" text-anchor="middle">250</text>
<text transform="translate(47.8,87) rotate(-90)" x="0" y="0" font-size="12.8" font-weight="bold" fill="#1c1c1c" stroke="#1c1c1c" stroke-width="0.3" text-anchor="middle" textLength="27" lengthAdjust="spacingAndGlyphs">PBMC</text>
<text transform="translate(63.6,87.5) rotate(-90)" x="0" y="0" font-size="12.8" font-weight="normal" fill="#1c1c1c" stroke="#1c1c1c" stroke-width="0.25" text-anchor="middle" textLength="57.5" lengthAdjust="spacingAndGlyphs">assay control</text>
<line x1="107.2" y1="153.3" x2="278.6" y2="153.3" stroke="#111" stroke-width="1.9"/>
<line x1="108.2" y1="152.4" x2="108.2" y2="238.9" stroke="#111" stroke-width="1.9"/>
<line x1="143.8" y1="149.5" x2="143.8" y2="153.3" stroke="#111" stroke-width="1.1"/>
<line x1="205.03" y1="149.5" x2="205.03" y2="153.3" stroke="#111" stroke-width="1.1"/>
<line x1="266.25" y1="149.5" x2="266.25" y2="153.3" stroke="#111" stroke-width="1.1"/>
<line x1="104" y1="156.5" x2="108.2" y2="156.5" stroke="#111" stroke-width="1.1"/>
<text x="100" y="160.1" font-size="10" letter-spacing="0.22" fill="#1c1c1c" text-anchor="end">6.000</text>
<line x1="104" y1="194.7" x2="108.2" y2="194.7" stroke="#111" stroke-width="1.1"/>
<text x="100" y="198.3" font-size="10" letter-spacing="0.22" fill="#1c1c1c" text-anchor="end">3.000</text>
<line x1="104" y1="232.9" x2="108.2" y2="232.9" stroke="#111" stroke-width="1.1"/>
<text x="100" y="236.5" font-size="10" letter-spacing="0.22" fill="#1c1c1c" text-anchor="end">0</text>
<line x1="337.8" y1="153.3" x2="509.2" y2="153.3" stroke="#111" stroke-width="1.9"/>
<line x1="338.8" y1="152.4" x2="338.8" y2="238.9" stroke="#111" stroke-width="1.9"/>
<line x1="374.4" y1="149.5" x2="374.4" y2="153.3" stroke="#111" stroke-width="1.1"/>
<line x1="435.62" y1="149.5" x2="435.62" y2="153.3" stroke="#111" stroke-width="1.1"/>
<line x1="496.85" y1="149.5" x2="496.85" y2="153.3" stroke="#111" stroke-width="1.1"/>
<line x1="334.6" y1="156.5" x2="338.8" y2="156.5" stroke="#111" stroke-width="1.1"/>
<text x="330.6" y="160.1" font-size="10" letter-spacing="0.22" fill="#1c1c1c" text-anchor="end">1.200</text>
<line x1="334.6" y1="194.7" x2="338.8" y2="194.7" stroke="#111" stroke-width="1.1"/>
<text x="330.6" y="198.3" font-size="10" letter-spacing="0.22" fill="#1c1c1c" text-anchor="end">600</text>
<line x1="334.6" y1="232.9" x2="338.8" y2="232.9" stroke="#111" stroke-width="1.1"/>
<text x="330.6" y="236.5" font-size="10" letter-spacing="0.22" fill="#1c1c1c" text-anchor="end">0</text>
<text x="144.8" y="143.5" font-size="10" letter-spacing="0.22" fill="#1c1c1c" text-anchor="middle">150</text>
<text x="206.03" y="143.5" font-size="10" letter-spacing="0.22" fill="#1c1c1c" text-anchor="middle">200</text>
<text x="267.25" y="143.5" font-size="10" letter-spacing="0.22" fill="#1c1c1c" text-anchor="middle">250</text>
<text x="375.4" y="143.5" font-size="10" letter-spacing="0.22" fill="#1c1c1c" text-anchor="middle">150</text>
<text x="436.62" y="143.5" font-size="10" letter-spacing="0.22" fill="#1c1c1c" text-anchor="middle">200</text>
<text x="497.85" y="143.5" font-size="10" letter-spacing="0.22" fill="#1c1c1c" text-anchor="middle">250</text>
<text transform="translate(68.2,195.3) rotate(-90)" x="0" y="0" font-size="12.8" font-weight="bold" fill="#1c1c1c" stroke="#1c1c1c" stroke-width="0.3" text-anchor="middle" textLength="18.3" lengthAdjust="spacingAndGlyphs">UCB</text>
<line x1="107.2" y1="261.1" x2="278.6" y2="261.1" stroke="#111" stroke-width="1.9"/>
<line x1="108.2" y1="260.2" x2="108.2" y2="346.7" stroke="#111" stroke-width="1.9"/>
<line x1="143.8" y1="257.3" x2="143.8" y2="261.1" stroke="#111" stroke-width="1.1"/>
<line x1="205.03" y1="257.3" x2="205.03" y2="261.1" stroke="#111" stroke-width="1.1"/>
<line x1="266.25" y1="257.3" x2="266.25" y2="261.1" stroke="#111" stroke-width="1.1"/>
<line x1="104" y1="264.3" x2="108.2" y2="264.3" stroke="#111" stroke-width="1.1"/>
<text x="100" y="267.9" font-size="10" letter-spacing="0.22" fill="#1c1c1c" text-anchor="end">7.000</text>
<line x1="104" y1="302.5" x2="108.2" y2="302.5" stroke="#111" stroke-width="1.1"/>
<text x="100" y="306.1" font-size="10" letter-spacing="0.22" fill="#1c1c1c" text-anchor="end">3.500</text>
<line x1="104" y1="340.7" x2="108.2" y2="340.7" stroke="#111" stroke-width="1.1"/>
<text x="100" y="344.3" font-size="10" letter-spacing="0.22" fill="#1c1c1c" text-anchor="end">0</text>
<line x1="337.8" y1="261.1" x2="509.2" y2="261.1" stroke="#111" stroke-width="1.9"/>
<line x1="338.8" y1="260.2" x2="338.8" y2="346.7" stroke="#111" stroke-width="1.9"/>
<line x1="374.4" y1="257.3" x2="374.4" y2="261.1" stroke="#111" stroke-width="1.1"/>
<line x1="435.62" y1="257.3" x2="435.62" y2="261.1" stroke="#111" stroke-width="1.1"/>
<line x1="496.85" y1="257.3" x2="496.85" y2="261.1" stroke="#111" stroke-width="1.1"/>
<line x1="334.6" y1="264.3" x2="338.8" y2="264.3" stroke="#111" stroke-width="1.1"/>
<text x="330.6" y="267.9" font-size="10" letter-spacing="0.22" fill="#1c1c1c" text-anchor="end">1.500</text>
<line x1="334.6" y1="302.5" x2="338.8" y2="302.5" stroke="#111" stroke-width="1.1"/>
<text x="330.6" y="306.1" font-size="10" letter-spacing="0.22" fill="#1c1c1c" text-anchor="end">750</text>
<line x1="334.6" y1="340.7" x2="338.8" y2="340.7" stroke="#111" stroke-width="1.1"/>
<text x="330.6" y="344.3" font-size="10" letter-spacing="0.22" fill="#1c1c1c" text-anchor="end">0</text>
<text x="144.8" y="251.3" font-size="10" letter-spacing="0.22" fill="#1c1c1c" text-anchor="middle">150</text>
<text x="206.03" y="251.3" font-size="10" letter-spacing="0.22" fill="#1c1c1c" text-anchor="middle">200</text>
<text x="267.25" y="251.3" font-size="10" letter-spacing="0.22" fill="#1c1c1c" text-anchor="middle">250</text>
<text x="375.4" y="251.3" font-size="10" letter-spacing="0.22" fill="#1c1c1c" text-anchor="middle">150</text>
<text x="436.62" y="251.3" font-size="10" letter-spacing="0.22" fill="#1c1c1c" text-anchor="middle">200</text>
<text x="497.85" y="251.3" font-size="10" letter-spacing="0.22" fill="#1c1c1c" text-anchor="middle">250</text>
<text transform="translate(69,303.3) rotate(-90)" x="0" y="0" font-size="12.8" font-weight="bold" fill="#1c1c1c" stroke="#1c1c1c" stroke-width="0.3" text-anchor="middle" textLength="20.3" lengthAdjust="spacingAndGlyphs">mPB</text>
<line x1="107.2" y1="368.5" x2="278.6" y2="368.5" stroke="#111" stroke-width="1.9"/>
<line x1="108.2" y1="367.6" x2="108.2" y2="454.1" stroke="#111" stroke-width="1.9"/>
<line x1="143.8" y1="364.7" x2="143.8" y2="368.5" stroke="#111" stroke-width="1.1"/>
<line x1="205.03" y1="364.7" x2="205.03" y2="368.5" stroke="#111" stroke-width="1.1"/>
<line x1="266.25" y1="364.7" x2="266.25" y2="368.5" stroke="#111" stroke-width="1.1"/>
<line x1="104" y1="371.7" x2="108.2" y2="371.7" stroke="#111" stroke-width="1.1"/>
<text x="100" y="375.3" font-size="10" letter-spacing="0.22" fill="#1c1c1c" text-anchor="end">50.000</text>
<line x1="104" y1="409.9" x2="108.2" y2="409.9" stroke="#111" stroke-width="1.1"/>
<text x="100" y="413.5" font-size="10" letter-spacing="0.22" fill="#1c1c1c" text-anchor="end">25.000</text>
<line x1="104" y1="448.1" x2="108.2" y2="448.1" stroke="#111" stroke-width="1.1"/>
<text x="100" y="451.7" font-size="10" letter-spacing="0.22" fill="#1c1c1c" text-anchor="end">0</text>
<line x1="334.5" y1="368.5" x2="505.9" y2="368.5" stroke="#111" stroke-width="1.9"/>
<line x1="335.5" y1="367.6" x2="335.5" y2="454.1" stroke="#111" stroke-width="1.9"/>
<line x1="371.1" y1="364.7" x2="371.1" y2="368.5" stroke="#111" stroke-width="1.1"/>
<line x1="432.32" y1="364.7" x2="432.32" y2="368.5" stroke="#111" stroke-width="1.1"/>
<line x1="493.55" y1="364.7" x2="493.55" y2="368.5" stroke="#111" stroke-width="1.1"/>
<line x1="331.3" y1="371.7" x2="335.5" y2="371.7" stroke="#111" stroke-width="1.1"/>
<text x="327.3" y="375.3" font-size="10" letter-spacing="0.22" fill="#1c1c1c" text-anchor="end">8.000</text>
<line x1="331.3" y1="409.9" x2="335.5" y2="409.9" stroke="#111" stroke-width="1.1"/>
<text x="327.3" y="413.5" font-size="10" letter-spacing="0.22" fill="#1c1c1c" text-anchor="end">4.000</text>
<line x1="331.3" y1="448.1" x2="335.5" y2="448.1" stroke="#111" stroke-width="1.1"/>
<text x="327.3" y="451.7" font-size="10" letter-spacing="0.22" fill="#1c1c1c" text-anchor="end">0</text>
<text x="144.8" y="358.7" font-size="10" letter-spacing="0.22" fill="#1c1c1c" text-anchor="middle">150</text>
<text x="206.03" y="358.7" font-size="10" letter-spacing="0.22" fill="#1c1c1c" text-anchor="middle">200</text>
<text x="267.25" y="358.7" font-size="10" letter-spacing="0.22" fill="#1c1c1c" text-anchor="middle">250</text>
<text x="372.1" y="358.7" font-size="10" letter-spacing="0.22" fill="#1c1c1c" text-anchor="middle">150</text>
<text x="433.32" y="358.7" font-size="10" letter-spacing="0.22" fill="#1c1c1c" text-anchor="middle">200</text>
<text x="494.55" y="358.7" font-size="10" letter-spacing="0.22" fill="#1c1c1c" text-anchor="middle">250</text>
<text transform="translate(62.9,410.55) rotate(-90)" x="0" y="0" font-size="12.8" font-weight="bold" fill="#1c1c1c" stroke="#1c1c1c" stroke-width="0.3" text-anchor="middle" textLength="58.8" lengthAdjust="spacingAndGlyphs">Clonal control</text>
<line x1="107.2" y1="502.1" x2="278.6" y2="502.1" stroke="#111" stroke-width="1.9"/>
<line x1="108.2" y1="501.2" x2="108.2" y2="587.7" stroke="#111" stroke-width="1.9"/>
<line x1="143.8" y1="498.3" x2="143.8" y2="502.1" stroke="#111" stroke-width="1.1"/>
<line x1="205.03" y1="498.3" x2="205.03" y2="502.1" stroke="#111" stroke-width="1.1"/>
<line x1="266.25" y1="498.3" x2="266.25" y2="502.1" stroke="#111" stroke-width="1.1"/>
<line x1="104" y1="505.3" x2="108.2" y2="505.3" stroke="#111" stroke-width="1.1"/>
<text x="100" y="508.9" font-size="10" letter-spacing="0.22" fill="#1c1c1c" text-anchor="end">10.000</text>
<line x1="104" y1="543.5" x2="108.2" y2="543.5" stroke="#111" stroke-width="1.1"/>
<text x="100" y="547.1" font-size="10" letter-spacing="0.22" fill="#1c1c1c" text-anchor="end">5.000</text>
<line x1="104" y1="581.7" x2="108.2" y2="581.7" stroke="#111" stroke-width="1.1"/>
<text x="100" y="585.3" font-size="10" letter-spacing="0.22" fill="#1c1c1c" text-anchor="end">0</text>
<line x1="337.8" y1="502.1" x2="509.2" y2="502.1" stroke="#111" stroke-width="1.9"/>
<line x1="338.8" y1="501.2" x2="338.8" y2="587.7" stroke="#111" stroke-width="1.9"/>
<line x1="374.4" y1="498.3" x2="374.4" y2="502.1" stroke="#111" stroke-width="1.1"/>
<line x1="435.62" y1="498.3" x2="435.62" y2="502.1" stroke="#111" stroke-width="1.1"/>
<line x1="496.85" y1="498.3" x2="496.85" y2="502.1" stroke="#111" stroke-width="1.1"/>
<line x1="334.6" y1="505.3" x2="338.8" y2="505.3" stroke="#111" stroke-width="1.1"/>
<text x="330.6" y="508.9" font-size="10" letter-spacing="0.22" fill="#1c1c1c" text-anchor="end">5.000</text>
<line x1="334.6" y1="543.5" x2="338.8" y2="543.5" stroke="#111" stroke-width="1.1"/>
<text x="330.6" y="547.1" font-size="10" letter-spacing="0.22" fill="#1c1c1c" text-anchor="end">4.500</text>
<line x1="334.6" y1="581.7" x2="338.8" y2="581.7" stroke="#111" stroke-width="1.1"/>
<text x="330.6" y="585.3" font-size="10" letter-spacing="0.22" fill="#1c1c1c" text-anchor="end">0</text>
<text x="144.8" y="492.3" font-size="10" letter-spacing="0.22" fill="#1c1c1c" text-anchor="middle">150</text>
<text x="206.03" y="492.3" font-size="10" letter-spacing="0.22" fill="#1c1c1c" text-anchor="middle">200</text>
<text x="267.25" y="492.3" font-size="10" letter-spacing="0.22" fill="#1c1c1c" text-anchor="middle">250</text>
<text x="375.4" y="492.3" font-size="10" letter-spacing="0.22" fill="#1c1c1c" text-anchor="middle">150</text>
<text x="436.62" y="492.3" font-size="10" letter-spacing="0.22" fill="#1c1c1c" text-anchor="middle">200</text>
<text x="497.85" y="492.3" font-size="10" letter-spacing="0.22" fill="#1c1c1c" text-anchor="middle">250</text>
<text transform="translate(62.3,545.15) rotate(-90)" x="0" y="0" font-size="12.8" font-weight="bold" fill="#1c1c1c" stroke="#1c1c1c" stroke-width="0.3" text-anchor="middle" textLength="9.2" lengthAdjust="spacingAndGlyphs">p1</text>
<line x1="107.2" y1="610" x2="278.6" y2="610" stroke="#111" stroke-width="1.9"/>
<line x1="108.2" y1="609.1" x2="108.2" y2="695.6" stroke="#111" stroke-width="1.9"/>
<line x1="143.8" y1="606.2" x2="143.8" y2="610" stroke="#111" stroke-width="1.1"/>
<line x1="205.03" y1="606.2" x2="205.03" y2="610" stroke="#111" stroke-width="1.1"/>
<line x1="266.25" y1="606.2" x2="266.25" y2="610" stroke="#111" stroke-width="1.1"/>
<line x1="104" y1="613.2" x2="108.2" y2="613.2" stroke="#111" stroke-width="1.1"/>
<text x="100" y="616.8" font-size="10" letter-spacing="0.22" fill="#1c1c1c" text-anchor="end">5.000</text>
<line x1="104" y1="651.4" x2="108.2" y2="651.4" stroke="#111" stroke-width="1.1"/>
<text x="100" y="655" font-size="10" letter-spacing="0.22" fill="#1c1c1c" text-anchor="end">2.500</text>
<line x1="104" y1="689.6" x2="108.2" y2="689.6" stroke="#111" stroke-width="1.1"/>
<text x="100" y="693.2" font-size="10" letter-spacing="0.22" fill="#1c1c1c" text-anchor="end">0</text>
<line x1="337.8" y1="610" x2="509.2" y2="610" stroke="#111" stroke-width="1.9"/>
<line x1="338.8" y1="609.1" x2="338.8" y2="695.6" stroke="#111" stroke-width="1.9"/>
<line x1="374.4" y1="606.2" x2="374.4" y2="610" stroke="#111" stroke-width="1.1"/>
<line x1="435.62" y1="606.2" x2="435.62" y2="610" stroke="#111" stroke-width="1.1"/>
<line x1="496.85" y1="606.2" x2="496.85" y2="610" stroke="#111" stroke-width="1.1"/>
<line x1="334.6" y1="613.2" x2="338.8" y2="613.2" stroke="#111" stroke-width="1.1"/>
<text x="330.6" y="616.8" font-size="10" letter-spacing="0.22" fill="#1c1c1c" text-anchor="end">3.200</text>
<line x1="334.6" y1="651.4" x2="338.8" y2="651.4" stroke="#111" stroke-width="1.1"/>
<text x="330.6" y="655" font-size="10" letter-spacing="0.22" fill="#1c1c1c" text-anchor="end">1.600</text>
<line x1="334.6" y1="689.6" x2="338.8" y2="689.6" stroke="#111" stroke-width="1.1"/>
<text x="330.6" y="693.2" font-size="10" letter-spacing="0.22" fill="#1c1c1c" text-anchor="end">0</text>
<text x="144.8" y="600.2" font-size="10" letter-spacing="0.22" fill="#1c1c1c" text-anchor="middle">150</text>
<text x="206.03" y="600.2" font-size="10" letter-spacing="0.22" fill="#1c1c1c" text-anchor="middle">200</text>
<text x="267.25" y="600.2" font-size="10" letter-spacing="0.22" fill="#1c1c1c" text-anchor="middle">250</text>
<text x="375.4" y="600.2" font-size="10" letter-spacing="0.22" fill="#1c1c1c" text-anchor="middle">150</text>
<text x="436.62" y="600.2" font-size="10" letter-spacing="0.22" fill="#1c1c1c" text-anchor="middle">200</text>
<text x="497.85" y="600.2" font-size="10" letter-spacing="0.22" fill="#1c1c1c" text-anchor="middle">250</text>
<text transform="translate(67.6,652.1) rotate(-90)" x="0" y="0" font-size="12.8" font-weight="bold" fill="#1c1c1c" stroke="#1c1c1c" stroke-width="0.3" text-anchor="middle" textLength="28.3" lengthAdjust="spacingAndGlyphs">p1+LV</text>
<line x1="107.2" y1="717.9" x2="278.6" y2="717.9" stroke="#111" stroke-width="1.9"/>
<line x1="108.2" y1="717" x2="108.2" y2="803.5" stroke="#111" stroke-width="1.9"/>
<line x1="143.8" y1="714.1" x2="143.8" y2="717.9" stroke="#111" stroke-width="1.1"/>
<line x1="205.03" y1="714.1" x2="205.03" y2="717.9" stroke="#111" stroke-width="1.1"/>
<line x1="266.25" y1="714.1" x2="266.25" y2="717.9" stroke="#111" stroke-width="1.1"/>
<line x1="104" y1="721.1" x2="108.2" y2="721.1" stroke="#111" stroke-width="1.1"/>
<text x="100" y="724.7" font-size="10" letter-spacing="0.22" fill="#1c1c1c" text-anchor="end">2.200</text>
<line x1="104" y1="759.3" x2="108.2" y2="759.3" stroke="#111" stroke-width="1.1"/>
<text x="100" y="762.9" font-size="10" letter-spacing="0.22" fill="#1c1c1c" text-anchor="end">1.100</text>
<line x1="104" y1="797.5" x2="108.2" y2="797.5" stroke="#111" stroke-width="1.1"/>
<text x="100" y="801.1" font-size="10" letter-spacing="0.22" fill="#1c1c1c" text-anchor="end">0</text>
<line x1="337.8" y1="717.9" x2="509.2" y2="717.9" stroke="#111" stroke-width="1.9"/>
<line x1="338.8" y1="717" x2="338.8" y2="803.5" stroke="#111" stroke-width="1.9"/>
<line x1="374.4" y1="714.1" x2="374.4" y2="717.9" stroke="#111" stroke-width="1.1"/>
<line x1="435.62" y1="714.1" x2="435.62" y2="717.9" stroke="#111" stroke-width="1.1"/>
<line x1="496.85" y1="714.1" x2="496.85" y2="717.9" stroke="#111" stroke-width="1.1"/>
<line x1="334.6" y1="721.1" x2="338.8" y2="721.1" stroke="#111" stroke-width="1.1"/>
<text x="330.6" y="724.7" font-size="10" letter-spacing="0.22" fill="#1c1c1c" text-anchor="end">4.000</text>
<line x1="334.6" y1="759.3" x2="338.8" y2="759.3" stroke="#111" stroke-width="1.1"/>
<text x="330.6" y="762.9" font-size="10" letter-spacing="0.22" fill="#1c1c1c" text-anchor="end">2.000</text>
<line x1="334.6" y1="797.5" x2="338.8" y2="797.5" stroke="#111" stroke-width="1.1"/>
<text x="330.6" y="801.1" font-size="10" letter-spacing="0.22" fill="#1c1c1c" text-anchor="end">0</text>
<text x="144.8" y="708.1" font-size="10" letter-spacing="0.22" fill="#1c1c1c" text-anchor="middle">150</text>
<text x="206.03" y="708.1" font-size="10" letter-spacing="0.22" fill="#1c1c1c" text-anchor="middle">200</text>
<text x="267.25" y="708.1" font-size="10" letter-spacing="0.22" fill="#1c1c1c" text-anchor="middle">250</text>
<text x="375.4" y="708.1" font-size="10" letter-spacing="0.22" fill="#1c1c1c" text-anchor="middle">150</text>
<text x="436.62" y="708.1" font-size="10" letter-spacing="0.22" fill="#1c1c1c" text-anchor="middle">200</text>
<text x="497.85" y="708.1" font-size="10" letter-spacing="0.22" fill="#1c1c1c" text-anchor="middle">250</text>
<text transform="translate(67.6,760) rotate(-90)" x="0" y="0" font-size="12.8" font-weight="bold" fill="#1c1c1c" stroke="#1c1c1c" stroke-width="0.3" text-anchor="middle" textLength="10.7" lengthAdjust="spacingAndGlyphs">p2</text>
<line x1="107.2" y1="825.6" x2="278.6" y2="825.6" stroke="#111" stroke-width="1.9"/>
<line x1="108.2" y1="824.7" x2="108.2" y2="911.2" stroke="#111" stroke-width="1.9"/>
<line x1="143.8" y1="821.8" x2="143.8" y2="825.6" stroke="#111" stroke-width="1.1"/>
<line x1="205.03" y1="821.8" x2="205.03" y2="825.6" stroke="#111" stroke-width="1.1"/>
<line x1="266.25" y1="821.8" x2="266.25" y2="825.6" stroke="#111" stroke-width="1.1"/>
<line x1="104" y1="828.8" x2="108.2" y2="828.8" stroke="#111" stroke-width="1.1"/>
<text x="100" y="832.4" font-size="10" letter-spacing="0.22" fill="#1c1c1c" text-anchor="end">4.000</text>
<line x1="104" y1="867" x2="108.2" y2="867" stroke="#111" stroke-width="1.1"/>
<text x="100" y="870.6" font-size="10" letter-spacing="0.22" fill="#1c1c1c" text-anchor="end">2.000</text>
<line x1="104" y1="905.2" x2="108.2" y2="905.2" stroke="#111" stroke-width="1.1"/>
<text x="100" y="908.8" font-size="10" letter-spacing="0.22" fill="#1c1c1c" text-anchor="end">0</text>
<line x1="337.8" y1="825.6" x2="509.2" y2="825.6" stroke="#111" stroke-width="1.9"/>
<line x1="338.8" y1="824.7" x2="338.8" y2="911.2" stroke="#111" stroke-width="1.9"/>
<line x1="374.4" y1="821.8" x2="374.4" y2="825.6" stroke="#111" stroke-width="1.1"/>
<line x1="435.62" y1="821.8" x2="435.62" y2="825.6" stroke="#111" stroke-width="1.1"/>
<line x1="496.85" y1="821.8" x2="496.85" y2="825.6" stroke="#111" stroke-width="1.1"/>
<line x1="334.6" y1="828.8" x2="338.8" y2="828.8" stroke="#111" stroke-width="1.1"/>
<text x="330.6" y="832.4" font-size="10" letter-spacing="0.22" fill="#1c1c1c" text-anchor="end">3.000</text>
<line x1="334.6" y1="867" x2="338.8" y2="867" stroke="#111" stroke-width="1.1"/>
<text x="330.6" y="870.6" font-size="10" letter-spacing="0.22" fill="#1c1c1c" text-anchor="end">1.500</text>
<line x1="334.6" y1="905.2" x2="338.8" y2="905.2" stroke="#111" stroke-width="1.1"/>
<text x="330.6" y="908.8" font-size="10" letter-spacing="0.22" fill="#1c1c1c" text-anchor="end">0</text>
<text x="144.8" y="815.8" font-size="10" letter-spacing="0.22" fill="#1c1c1c" text-anchor="middle">150</text>
<text x="206.03" y="815.8" font-size="10" letter-spacing="0.22" fill="#1c1c1c" text-anchor="middle">200</text>
<text x="267.25" y="815.8" font-size="10" letter-spacing="0.22" fill="#1c1c1c" text-anchor="middle">250</text>
<text x="375.4" y="815.8" font-size="10" letter-spacing="0.22" fill="#1c1c1c" text-anchor="middle">150</text>
<text x="436.62" y="815.8" font-size="10" letter-spacing="0.22" fill="#1c1c1c" text-anchor="middle">200</text>
<text x="497.85" y="815.8" font-size="10" letter-spacing="0.22" fill="#1c1c1c" text-anchor="middle">250</text>
<text transform="translate(67.6,867.45) rotate(-90)" x="0" y="0" font-size="12.8" font-weight="bold" fill="#1c1c1c" stroke="#1c1c1c" stroke-width="0.3" text-anchor="middle" textLength="28.4" lengthAdjust="spacingAndGlyphs">p2+LV</text>
<line x1="107.2" y1="933" x2="278.6" y2="933" stroke="#111" stroke-width="1.9"/>
<line x1="108.2" y1="932.1" x2="108.2" y2="1018.6" stroke="#111" stroke-width="1.9"/>
<line x1="143.8" y1="929.2" x2="143.8" y2="933" stroke="#111" stroke-width="1.1"/>
<line x1="205.03" y1="929.2" x2="205.03" y2="933" stroke="#111" stroke-width="1.1"/>
<line x1="266.25" y1="929.2" x2="266.25" y2="933" stroke="#111" stroke-width="1.1"/>
<line x1="104" y1="936.2" x2="108.2" y2="936.2" stroke="#111" stroke-width="1.1"/>
<text x="100" y="939.8" font-size="10" letter-spacing="0.22" fill="#1c1c1c" text-anchor="end">2.400</text>
<line x1="104" y1="974.4" x2="108.2" y2="974.4" stroke="#111" stroke-width="1.1"/>
<text x="100" y="978" font-size="10" letter-spacing="0.22" fill="#1c1c1c" text-anchor="end">1.200</text>
<line x1="104" y1="1012.6" x2="108.2" y2="1012.6" stroke="#111" stroke-width="1.1"/>
<text x="100" y="1016.2" font-size="10" letter-spacing="0.22" fill="#1c1c1c" text-anchor="end">0</text>
<line x1="337.8" y1="933" x2="509.2" y2="933" stroke="#111" stroke-width="1.9"/>
<line x1="338.8" y1="932.1" x2="338.8" y2="1018.6" stroke="#111" stroke-width="1.9"/>
<line x1="374.4" y1="929.2" x2="374.4" y2="933" stroke="#111" stroke-width="1.1"/>
<line x1="435.62" y1="929.2" x2="435.62" y2="933" stroke="#111" stroke-width="1.1"/>
<line x1="496.85" y1="929.2" x2="496.85" y2="933" stroke="#111" stroke-width="1.1"/>
<line x1="334.6" y1="936.2" x2="338.8" y2="936.2" stroke="#111" stroke-width="1.1"/>
<text x="330.6" y="939.8" font-size="10" letter-spacing="0.22" fill="#1c1c1c" text-anchor="end">2.200</text>
<line x1="334.6" y1="974.4" x2="338.8" y2="974.4" stroke="#111" stroke-width="1.1"/>
<text x="330.6" y="978" font-size="10" letter-spacing="0.22" fill="#1c1c1c" text-anchor="end">1.100</text>
<line x1="334.6" y1="1012.6" x2="338.8" y2="1012.6" stroke="#111" stroke-width="1.1"/>
<text x="330.6" y="1016.2" font-size="10" letter-spacing="0.22" fill="#1c1c1c" text-anchor="end">0</text>
<text x="144.8" y="923.2" font-size="10" letter-spacing="0.22" fill="#1c1c1c" text-anchor="middle">150</text>
<text x="206.03" y="923.2" font-size="10" letter-spacing="0.22" fill="#1c1c1c" text-anchor="middle">200</text>
<text x="267.25" y="923.2" font-size="10" letter-spacing="0.22" fill="#1c1c1c" text-anchor="middle">250</text>
<text x="375.4" y="923.2" font-size="10" letter-spacing="0.22" fill="#1c1c1c" text-anchor="middle">150</text>
<text x="436.62" y="923.2" font-size="10" letter-spacing="0.22" fill="#1c1c1c" text-anchor="middle">200</text>
<text x="497.85" y="923.2" font-size="10" letter-spacing="0.22" fill="#1c1c1c" text-anchor="middle">250</text>
<text transform="translate(67.6,975.75) rotate(-90)" x="0" y="0" font-size="12.8" font-weight="bold" fill="#1c1c1c" stroke="#1c1c1c" stroke-width="0.3" text-anchor="middle" textLength="11" lengthAdjust="spacingAndGlyphs">p3</text>
<line x1="107.2" y1="1041.2" x2="278.6" y2="1041.2" stroke="#111" stroke-width="1.9"/>
<line x1="108.2" y1="1040.3" x2="108.2" y2="1126.8" stroke="#111" stroke-width="1.9"/>
<line x1="143.8" y1="1037.4" x2="143.8" y2="1041.2" stroke="#111" stroke-width="1.1"/>
<line x1="205.03" y1="1037.4" x2="205.03" y2="1041.2" stroke="#111" stroke-width="1.1"/>
<line x1="266.25" y1="1037.4" x2="266.25" y2="1041.2" stroke="#111" stroke-width="1.1"/>
<line x1="104" y1="1044.4" x2="108.2" y2="1044.4" stroke="#111" stroke-width="1.1"/>
<text x="100" y="1048" font-size="10" letter-spacing="0.22" fill="#1c1c1c" text-anchor="end">4.800</text>
<line x1="104" y1="1082.6" x2="108.2" y2="1082.6" stroke="#111" stroke-width="1.1"/>
<text x="100" y="1086.2" font-size="10" letter-spacing="0.22" fill="#1c1c1c" text-anchor="end">2.400</text>
<line x1="104" y1="1120.8" x2="108.2" y2="1120.8" stroke="#111" stroke-width="1.1"/>
<text x="100" y="1124.4" font-size="10" letter-spacing="0.22" fill="#1c1c1c" text-anchor="end">0</text>
<line x1="337.8" y1="1041.2" x2="509.2" y2="1041.2" stroke="#111" stroke-width="1.9"/>
<line x1="338.8" y1="1040.3" x2="338.8" y2="1126.8" stroke="#111" stroke-width="1.9"/>
<line x1="374.4" y1="1037.4" x2="374.4" y2="1041.2" stroke="#111" stroke-width="1.1"/>
<line x1="435.62" y1="1037.4" x2="435.62" y2="1041.2" stroke="#111" stroke-width="1.1"/>
<line x1="496.85" y1="1037.4" x2="496.85" y2="1041.2" stroke="#111" stroke-width="1.1"/>
<line x1="334.6" y1="1044.4" x2="338.8" y2="1044.4" stroke="#111" stroke-width="1.1"/>
<text x="330.6" y="1048" font-size="10" letter-spacing="0.22" fill="#1c1c1c" text-anchor="end">2.000</text>
<line x1="334.6" y1="1082.6" x2="338.8" y2="1082.6" stroke="#111" stroke-width="1.1"/>
<text x="330.6" y="1086.2" font-size="10" letter-spacing="0.22" fill="#1c1c1c" text-anchor="end">1.000</text>
<line x1="334.6" y1="1120.8" x2="338.8" y2="1120.8" stroke="#111" stroke-width="1.1"/>
<text x="330.6" y="1124.4" font-size="10" letter-spacing="0.22" fill="#1c1c1c" text-anchor="end">0</text>
<text x="144.8" y="1031.4" font-size="10" letter-spacing="0.22" fill="#1c1c1c" text-anchor="middle">150</text>
<text x="206.03" y="1031.4" font-size="10" letter-spacing="0.22" fill="#1c1c1c" text-anchor="middle">200</text>
<text x="267.25" y="1031.4" font-size="10" letter-spacing="0.22" fill="#1c1c1c" text-anchor="middle">250</text>
<text x="375.4" y="1031.4" font-size="10" letter-spacing="0.22" fill="#1c1c1c" text-anchor="middle">150</text>
<text x="436.62" y="1031.4" font-size="10" letter-spacing="0.22" fill="#1c1c1c" text-anchor="middle">200</text>
<text x="497.85" y="1031.4" font-size="10" letter-spacing="0.22" fill="#1c1c1c" text-anchor="middle">250</text>
<text transform="translate(67.6,1083.2) rotate(-90)" x="0" y="0" font-size="12.8" font-weight="bold" fill="#1c1c1c" stroke="#1c1c1c" stroke-width="0.3" text-anchor="middle" textLength="28.3" lengthAdjust="spacingAndGlyphs">p3+LV</text>
<text x="11" y="26.9" font-size="18" font-weight="bold" fill="#111" stroke="#111" stroke-width="0.6">A</text>
<text x="11.3" y="485" font-size="18" font-weight="bold" fill="#111" stroke="#111" stroke-width="0.6">B</text>
<g fill="#1c1c1c" stroke="#1c1c1c" stroke-width="0.3" font-size="9.4">
<text x="182.0" y="18">V</text>
<text x="188.6" y="18.6" textLength="3.6" lengthAdjust="spacingAndGlyphs" stroke-width="0.15">&#947;</text>
<text x="192.6" y="18">-</text>
<text x="195.4" y="18">J</text>
<text x="200.0" y="18.6" textLength="3.6" lengthAdjust="spacingAndGlyphs" stroke-width="0.15">&#947;</text>
</g>
<g fill="#1c1c1c" stroke="#1c1c1c" stroke-width="0.3" font-size="9.4">
<text x="182.0" y="475.4">V</text>
<text x="188.6" y="476" textLength="3.6" lengthAdjust="spacingAndGlyphs" stroke-width="0.15">&#947;</text>
<text x="192.6" y="475.4">-</text>
<text x="195.4" y="475.4">J</text>
<text x="200.0" y="476" textLength="3.6" lengthAdjust="spacingAndGlyphs" stroke-width="0.15">&#947;</text>
</g>
<text transform="translate(35.8,247.9) rotate(-90)" font-size="13.6" fill="#222" stroke="#222" stroke-width="0.25" text-anchor="middle" textLength="78.8" lengthAdjust="spacingAndGlyphs">ATO controls</text>
<line x1="47.9" y1="197.4" x2="47.9" y2="297.1" stroke="#555" stroke-width="1.2"/>
<line x1="349" y1="51.8" x2="388.6" y2="51.8" stroke="#8080c8" stroke-width="1.7"/>
<polygon points="346,51.8 354,47.7 351.4,51.8 354,55.9" fill="#8080c8"/>
<polygon points="391.6,51.8 383.6,47.7 386.2,51.8 383.6,55.9" fill="#8080c8"/>
<line x1="390" y1="57.3" x2="430.8" y2="57.3" stroke="#3aaa3a" stroke-width="1.7"/>
<polygon points="387,57.3 395,53.2 392.4,57.3 395,61.4" fill="#3aaa3a"/>
<polygon points="433.8,57.3 425.8,53.2 428.4,57.3 425.8,61.4" fill="#3aaa3a"/>
<line x1="375.9" y1="66.4" x2="505.8" y2="66.4" stroke="#8080c8" stroke-width="1.7"/>
<polygon points="372.9,66.4 380.9,62.3 378.3,66.4 380.9,70.5" fill="#8080c8"/>
<polygon points="508.8,66.4 500.8,62.3 503.4,66.4 500.8,70.5" fill="#8080c8"/>
<line x1="470.7" y1="80" x2="505.8" y2="80" stroke="#3aaa3a" stroke-width="1.7"/>
<polygon points="467.7,80 475.7,75.9 473.1,80 475.7,84.1" fill="#3aaa3a"/>
<polygon points="508.8,80 500.8,75.9 503.4,80 500.8,84.1" fill="#3aaa3a"/>
<text x="357.6" y="50.7" font-size="7.0" textLength="22.6" lengthAdjust="spacingAndGlyphs"><tspan fill="#333">D&#948;2&#8211;</tspan><tspan fill="#8080c8">J&#948;</tspan></text>
<text x="396.2" y="54.4" font-size="7.0" textLength="29" lengthAdjust="spacingAndGlyphs"><tspan fill="#333">D&#948;2&#8211;</tspan><tspan fill="#3aaa3a">D&#948;3</tspan></text>
<text x="439.2" y="62.1" font-size="7.0" textLength="17.8" lengthAdjust="spacingAndGlyphs"><tspan fill="#333">V&#948;&#8211;</tspan><tspan fill="#8080c8">J&#948;</tspan></text>
<text x="475.8" y="77.1" font-size="7.0" textLength="24.2" lengthAdjust="spacingAndGlyphs"><tspan fill="#333">V&#948;&#8211;</tspan><tspan fill="#3aaa3a">D&#948;3</tspan></text>
<line x1="349" y1="509.1" x2="388.6" y2="509.1" stroke="#8080c8" stroke-width="1.7"/>
<polygon points="346,509.1 354,505 351.4,509.1 354,513.2" fill="#8080c8"/>
<polygon points="391.6,509.1 383.6,505 386.2,509.1 383.6,513.2" fill="#8080c8"/>
<line x1="390" y1="514.6" x2="430.8" y2="514.6" stroke="#3aaa3a" stroke-width="1.7"/>
<polygon points="387,514.6 395,510.5 392.4,514.6 395,518.7" fill="#3aaa3a"/>
<polygon points="433.8,514.6 425.8,510.5 428.4,514.6 425.8,518.7" fill="#3aaa3a"/>
<line x1="375.9" y1="523.7" x2="505.8" y2="523.7" stroke="#8080c8" stroke-width="1.7"/>
<polygon points="372.9,523.7 380.9,519.6 378.3,523.7 380.9,527.8" fill="#8080c8"/>
<polygon points="508.8,523.7 500.8,519.6 503.4,523.7 500.8,527.8" fill="#8080c8"/>
<line x1="470.7" y1="537.3" x2="505.8" y2="537.3" stroke="#3aaa3a" stroke-width="1.7"/>
<polygon points="467.7,537.3 475.7,533.2 473.1,537.3 475.7,541.4" fill="#3aaa3a"/>
<polygon points="508.8,537.3 500.8,533.2 503.4,537.3 500.8,541.4" fill="#3aaa3a"/>
<text x="357.6" y="508" font-size="7.0" textLength="22.6" lengthAdjust="spacingAndGlyphs"><tspan fill="#333">D&#948;2&#8211;</tspan><tspan fill="#8080c8">J&#948;</tspan></text>
<text x="396.2" y="511.7" font-size="7.0" textLength="29" lengthAdjust="spacingAndGlyphs"><tspan fill="#333">D&#948;2&#8211;</tspan><tspan fill="#3aaa3a">D&#948;3</tspan></text>
<text x="445.2" y="519.4" font-size="7.0" textLength="17.8" lengthAdjust="spacingAndGlyphs"><tspan fill="#333">V&#948;&#8211;</tspan><tspan fill="#8080c8">J&#948;</tspan></text>
<text x="475.8" y="534.4" font-size="7.0" textLength="24.2" lengthAdjust="spacingAndGlyphs"><tspan fill="#333">V&#948;&#8211;</tspan><tspan fill="#3aaa3a">D&#948;3</tspan></text>
<rect x="0" y="0" width="520" height="1" fill="#111"/><rect x="0" y="0" width="1" height="1137" fill="#111"/><rect x="519" y="0" width="1" height="1137" fill="#111"/><rect x="0" y="1136" width="520" height="1" fill="#111"/>
</svg></body></html>
